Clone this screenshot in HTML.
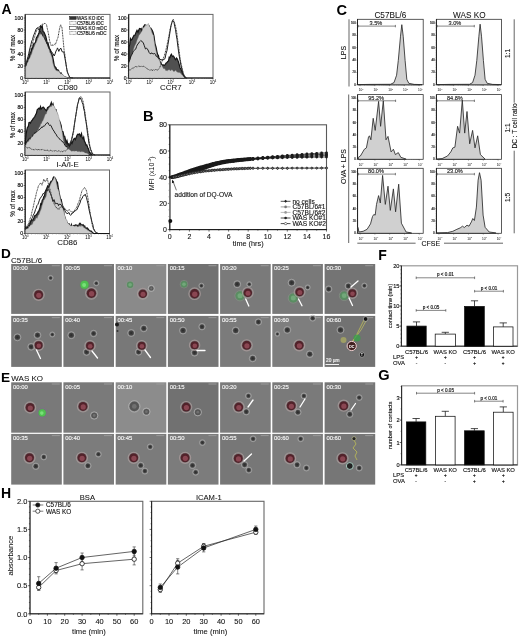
<!DOCTYPE html>
<html><head><meta charset="utf-8"><style>
html,body{margin:0;padding:0;background:#fff;width:520px;height:636px;overflow:hidden}
svg{display:block;filter:blur(0.3px)}
text{font-family:"Liberation Sans", sans-serif}
</style></head><body>
<svg width="520" height="636" viewBox="0 0 520 636" font-family="'Liberation Sans', sans-serif">
<rect x="0" y="0" width="520" height="636" fill="#fff"/>
<text x="1.4" y="13.8" font-size="14.0" text-anchor="start" font-weight="bold" fill="#000">A</text>
<rect x="25.2" y="14.4" width="84.8" height="63.6" fill="none" stroke="#666" stroke-width="1.0"/>
<line x1="25.2" y1="14.4" x2="25.2" y2="78.0" stroke="#111" stroke-width="1.0"/>
<line x1="25.2" y1="78.0" x2="110.0" y2="78.0" stroke="#111" stroke-width="1.0"/>
<line x1="23.6" y1="78.0" x2="25.2" y2="78.0" stroke="#111" stroke-width="0.55"/>
<text x="23.1" y="79.8" font-size="5.1" text-anchor="end" font-weight="normal" fill="#111" stroke="#111" stroke-width="0.16">0</text>
<line x1="24.3" y1="75.6" x2="25.2" y2="75.6" stroke="#333" stroke-width="0.4"/>
<line x1="24.3" y1="73.2" x2="25.2" y2="73.2" stroke="#333" stroke-width="0.4"/>
<line x1="24.3" y1="70.8" x2="25.2" y2="70.8" stroke="#333" stroke-width="0.4"/>
<line x1="24.3" y1="68.4" x2="25.2" y2="68.4" stroke="#333" stroke-width="0.4"/>
<line x1="23.6" y1="66.0" x2="25.2" y2="66.0" stroke="#111" stroke-width="0.55"/>
<text x="23.1" y="67.8" font-size="5.1" text-anchor="end" font-weight="normal" fill="#111" stroke="#111" stroke-width="0.16">20</text>
<line x1="24.3" y1="63.6" x2="25.2" y2="63.6" stroke="#333" stroke-width="0.4"/>
<line x1="24.3" y1="61.2" x2="25.2" y2="61.2" stroke="#333" stroke-width="0.4"/>
<line x1="24.3" y1="58.8" x2="25.2" y2="58.8" stroke="#333" stroke-width="0.4"/>
<line x1="24.3" y1="56.4" x2="25.2" y2="56.4" stroke="#333" stroke-width="0.4"/>
<line x1="23.6" y1="54.0" x2="25.2" y2="54.0" stroke="#111" stroke-width="0.55"/>
<text x="23.1" y="55.8" font-size="5.1" text-anchor="end" font-weight="normal" fill="#111" stroke="#111" stroke-width="0.16">40</text>
<line x1="24.3" y1="51.6" x2="25.2" y2="51.6" stroke="#333" stroke-width="0.4"/>
<line x1="24.3" y1="49.2" x2="25.2" y2="49.2" stroke="#333" stroke-width="0.4"/>
<line x1="24.3" y1="46.8" x2="25.2" y2="46.8" stroke="#333" stroke-width="0.4"/>
<line x1="24.3" y1="44.4" x2="25.2" y2="44.4" stroke="#333" stroke-width="0.4"/>
<line x1="23.6" y1="42.0" x2="25.2" y2="42.0" stroke="#111" stroke-width="0.55"/>
<text x="23.1" y="43.8" font-size="5.1" text-anchor="end" font-weight="normal" fill="#111" stroke="#111" stroke-width="0.16">60</text>
<line x1="24.3" y1="39.6" x2="25.2" y2="39.6" stroke="#333" stroke-width="0.4"/>
<line x1="24.3" y1="37.2" x2="25.2" y2="37.2" stroke="#333" stroke-width="0.4"/>
<line x1="24.3" y1="34.8" x2="25.2" y2="34.8" stroke="#333" stroke-width="0.4"/>
<line x1="24.3" y1="32.4" x2="25.2" y2="32.4" stroke="#333" stroke-width="0.4"/>
<line x1="23.6" y1="30.0" x2="25.2" y2="30.0" stroke="#111" stroke-width="0.55"/>
<text x="23.1" y="31.8" font-size="5.1" text-anchor="end" font-weight="normal" fill="#111" stroke="#111" stroke-width="0.16">80</text>
<line x1="24.3" y1="27.6" x2="25.2" y2="27.6" stroke="#333" stroke-width="0.4"/>
<line x1="24.3" y1="25.2" x2="25.2" y2="25.2" stroke="#333" stroke-width="0.4"/>
<line x1="24.3" y1="22.8" x2="25.2" y2="22.8" stroke="#333" stroke-width="0.4"/>
<line x1="24.3" y1="20.4" x2="25.2" y2="20.4" stroke="#333" stroke-width="0.4"/>
<line x1="23.6" y1="18.0" x2="25.2" y2="18.0" stroke="#111" stroke-width="0.55"/>
<text x="23.1" y="19.8" font-size="5.1" text-anchor="end" font-weight="normal" fill="#111" stroke="#111" stroke-width="0.16">100</text>
<line x1="25.2" y1="78.0" x2="25.2" y2="79.6" stroke="#111" stroke-width="0.55"/>
<text x="25.2" y="83.6" font-size="4.5" text-anchor="middle">10<tspan font-size="2.7" dy="-1.8">0</tspan></text>
<line x1="31.6" y1="78.0" x2="31.6" y2="78.9" stroke="#333" stroke-width="0.4"/>
<line x1="35.3" y1="78.0" x2="35.3" y2="78.9" stroke="#333" stroke-width="0.4"/>
<line x1="38.0" y1="78.0" x2="38.0" y2="78.9" stroke="#333" stroke-width="0.4"/>
<line x1="40.0" y1="78.0" x2="40.0" y2="78.9" stroke="#333" stroke-width="0.4"/>
<line x1="41.7" y1="78.0" x2="41.7" y2="78.9" stroke="#333" stroke-width="0.4"/>
<line x1="43.1" y1="78.0" x2="43.1" y2="78.9" stroke="#333" stroke-width="0.4"/>
<line x1="44.3" y1="78.0" x2="44.3" y2="78.9" stroke="#333" stroke-width="0.4"/>
<line x1="45.4" y1="78.0" x2="45.4" y2="78.9" stroke="#333" stroke-width="0.4"/>
<line x1="46.4" y1="78.0" x2="46.4" y2="79.6" stroke="#111" stroke-width="0.55"/>
<text x="46.4" y="83.6" font-size="4.5" text-anchor="middle">10<tspan font-size="2.7" dy="-1.8">1</tspan></text>
<line x1="52.8" y1="78.0" x2="52.8" y2="78.9" stroke="#333" stroke-width="0.4"/>
<line x1="56.5" y1="78.0" x2="56.5" y2="78.9" stroke="#333" stroke-width="0.4"/>
<line x1="59.2" y1="78.0" x2="59.2" y2="78.9" stroke="#333" stroke-width="0.4"/>
<line x1="61.2" y1="78.0" x2="61.2" y2="78.9" stroke="#333" stroke-width="0.4"/>
<line x1="62.9" y1="78.0" x2="62.9" y2="78.9" stroke="#333" stroke-width="0.4"/>
<line x1="64.3" y1="78.0" x2="64.3" y2="78.9" stroke="#333" stroke-width="0.4"/>
<line x1="65.5" y1="78.0" x2="65.5" y2="78.9" stroke="#333" stroke-width="0.4"/>
<line x1="66.6" y1="78.0" x2="66.6" y2="78.9" stroke="#333" stroke-width="0.4"/>
<line x1="67.6" y1="78.0" x2="67.6" y2="79.6" stroke="#111" stroke-width="0.55"/>
<text x="67.6" y="83.6" font-size="4.5" text-anchor="middle">10<tspan font-size="2.7" dy="-1.8">2</tspan></text>
<line x1="74.0" y1="78.0" x2="74.0" y2="78.9" stroke="#333" stroke-width="0.4"/>
<line x1="77.7" y1="78.0" x2="77.7" y2="78.9" stroke="#333" stroke-width="0.4"/>
<line x1="80.4" y1="78.0" x2="80.4" y2="78.9" stroke="#333" stroke-width="0.4"/>
<line x1="82.4" y1="78.0" x2="82.4" y2="78.9" stroke="#333" stroke-width="0.4"/>
<line x1="84.1" y1="78.0" x2="84.1" y2="78.9" stroke="#333" stroke-width="0.4"/>
<line x1="85.5" y1="78.0" x2="85.5" y2="78.9" stroke="#333" stroke-width="0.4"/>
<line x1="86.7" y1="78.0" x2="86.7" y2="78.9" stroke="#333" stroke-width="0.4"/>
<line x1="87.8" y1="78.0" x2="87.8" y2="78.9" stroke="#333" stroke-width="0.4"/>
<line x1="88.8" y1="78.0" x2="88.8" y2="79.6" stroke="#111" stroke-width="0.55"/>
<text x="88.8" y="83.6" font-size="4.5" text-anchor="middle">10<tspan font-size="2.7" dy="-1.8">3</tspan></text>
<line x1="95.2" y1="78.0" x2="95.2" y2="78.9" stroke="#333" stroke-width="0.4"/>
<line x1="98.9" y1="78.0" x2="98.9" y2="78.9" stroke="#333" stroke-width="0.4"/>
<line x1="101.6" y1="78.0" x2="101.6" y2="78.9" stroke="#333" stroke-width="0.4"/>
<line x1="103.6" y1="78.0" x2="103.6" y2="78.9" stroke="#333" stroke-width="0.4"/>
<line x1="105.3" y1="78.0" x2="105.3" y2="78.9" stroke="#333" stroke-width="0.4"/>
<line x1="106.7" y1="78.0" x2="106.7" y2="78.9" stroke="#333" stroke-width="0.4"/>
<line x1="107.9" y1="78.0" x2="107.9" y2="78.9" stroke="#333" stroke-width="0.4"/>
<line x1="109.0" y1="78.0" x2="109.0" y2="78.9" stroke="#333" stroke-width="0.4"/>
<line x1="110.0" y1="78.0" x2="110.0" y2="79.6" stroke="#111" stroke-width="0.55"/>
<text x="110.0" y="83.6" font-size="4.5" text-anchor="middle">10<tspan font-size="2.7" dy="-1.8">4</tspan></text>
<text x="67.6" y="89.8" font-size="7.9" text-anchor="middle" font-weight="normal" fill="#111" stroke="#111" stroke-width="0.06">CD80</text>
<text x="15.2" y="48.0" font-size="6.3" text-anchor="middle" font-weight="normal" fill="#111" stroke="#111" stroke-width="0.12" transform="rotate(-90 15.2 48.0)">% of max</text>
<path d="M25.6 78.0 L25.6 65.3 L26.4 62.7 L27.2 62.6 L28.0 58.4 L28.8 58.1 L29.5 55.5 L30.2 52.3 L31.0 52.0 L31.8 48.5 L32.5 48.2 L33.2 45.1 L34.0 43.4 L34.8 43.0 L35.5 42.7 L36.2 38.3 L37.0 36.9 L38.0 35.0 L39.0 32.7 L39.8 29.0 L40.5 26.1 L41.5 27.3 L42.2 26.0 L43.0 31.4 L44.0 32.2 L45.0 34.6 L45.8 36.5 L46.5 39.3 L47.2 43.2 L48.0 42.8 L48.8 46.3 L49.5 48.5 L50.2 49.5 L51.0 52.2 L51.8 53.7 L52.7 57.0 L53.5 60.9 L54.2 65.2 L55.0 66.7 L55.8 67.3 L56.5 69.3 L57.5 69.8 L58.5 70.2 L59.3 73.0 L60.2 73.3 L61.0 72.8 L61.8 74.4 L62.5 75.0 L63.2 76.3 L64.0 76.7 L64.8 76.7 L65.5 77.4 L66.2 77.3 L67.0 77.8 L67.0 78.0 Z" fill="#505050" stroke="#151515" stroke-width="1.2"/>
<path d="M25.6 78.0 L25.6 66.9 L26.4 65.8 L27.2 63.0 L28.0 62.0 L28.8 59.4 L29.5 58.8 L30.2 57.2 L31.0 55.1 L31.8 53.7 L32.5 50.7 L33.2 49.4 L34.0 47.2 L34.8 45.4 L35.5 43.4 L36.2 42.4 L37.0 40.8 L37.8 38.3 L38.7 37.0 L39.5 34.2 L40.4 34.4 L41.3 33.3 L42.1 34.9 L43.0 35.6 L43.8 36.4 L44.5 38.3 L45.2 40.6 L46.0 41.1 L46.8 43.9 L47.5 45.4 L48.2 47.3 L49.0 49.2 L49.8 52.5 L50.5 53.3 L51.2 55.5 L52.0 57.8 L52.8 62.7 L53.5 65.2 L54.2 67.4 L55.0 69.1 L55.8 70.2 L56.5 70.6 L57.2 71.2 L58.0 70.6 L58.8 71.5 L59.5 72.0 L60.2 73.5 L61.0 74.1 L61.8 73.7 L62.5 74.4 L63.2 75.2 L64.0 75.8 L64.8 76.4 L65.5 76.8 L66.3 77.0 L67.0 77.4 L67.8 77.8 L67.8 78.0 Z" fill="#cbcbcb" stroke="#7a7a7a" stroke-width="0.6" stroke-dasharray="0.8 0.5"/>
<path d="M25.6 65.9 L26.4 62.5 L27.2 59.4 L28.0 56.6 L28.8 53.3 L29.5 50.0 L30.2 47.2 L31.0 44.2 L31.8 40.9 L32.5 39.6 L33.2 36.9 L34.0 34.5 L35.0 32.2 L36.0 29.3 L37.3 27.7 L38.1 28.3 L39.0 30.2 L40.0 30.9 L41.0 32.4 L41.8 33.8 L42.5 35.0 L43.2 36.5 L44.0 37.4 L44.8 38.8 L45.5 40.5 L46.2 41.9 L47.0 43.8 L47.8 44.8 L48.5 47.5 L49.2 48.7 L50.0 49.5 L50.8 50.7 L51.5 51.8 L52.2 52.8 L53.0 53.5 L54.2 56.0 L55.1 53.9 L56.0 51.0 L56.8 49.7 L57.5 47.9 L58.8 51.4 L60.0 48.8 L61.0 48.3 L61.8 51.0 L62.5 52.0 L63.8 51.9 L65.0 58.6 L65.8 63.0 L66.5 67.5 L67.2 71.1 L68.0 73.6 L69.0 75.8 L70.0 77.6 L70.8 77.7 L71.5 77.8 L72.2 77.9 L73.0 78.0" fill="none" stroke="#1e1e1e" stroke-width="1.0"/>
<path d="M25.6 65.8 L26.4 62.9 L27.2 61.0 L28.0 58.0 L28.8 55.9 L29.5 52.8 L30.2 50.1 L31.0 48.4 L31.8 46.2 L32.5 43.5 L33.2 40.9 L34.0 38.4 L34.8 36.3 L35.5 33.6 L36.2 32.0 L37.0 29.8 L37.8 28.3 L38.5 27.3 L39.2 26.7 L40.0 25.7 L40.8 25.6 L41.7 25.3 L42.5 23.9 L43.3 24.2 L44.0 23.8 L44.8 23.3 L45.6 23.7 L46.5 24.6 L47.2 28.1 L48.0 31.6 L48.8 35.6 L49.5 40.2 L50.2 43.1 L51.0 45.5 L52.0 45.0 L53.0 45.2 L53.7 45.3 L54.5 44.2 L55.2 44.8 L56.5 41.6 L57.2 39.4 L58.0 37.4 L59.3 30.0 L60.0 26.7 L60.7 24.8 L62.0 27.8 L63.0 38.4 L64.0 49.3 L64.8 54.2 L65.5 59.9 L66.4 66.6 L67.3 72.3 L68.2 74.0 L69.0 76.4 L70.0 77.2 L71.0 78.0" fill="none" stroke="#333" stroke-width="1.0" stroke-dasharray="1.0 0.6"/>
<rect x="69.7" y="16.6" width="6.5" height="2.8" fill="#333" stroke="#111" stroke-width="0.5"/>
<text x="77.0" y="19.5" font-size="4.6" text-anchor="start" font-weight="normal" fill="#222" stroke="#222" stroke-width="0.18">WAS KO iDC</text>
<rect x="69.7" y="21.6" width="6.5" height="2.8" fill="#fff" stroke="#333" stroke-width="0.55" stroke-dasharray="0.8 0.5"/>
<text x="77.0" y="24.5" font-size="4.6" text-anchor="start" font-weight="normal" fill="#222" stroke="#222" stroke-width="0.18">C57BL/6 iDC</text>
<rect x="69.7" y="26.6" width="6.5" height="2.8" fill="#fff" stroke="#222" stroke-width="0.55"/>
<text x="77.0" y="29.5" font-size="4.6" text-anchor="start" font-weight="normal" fill="#222" stroke="#222" stroke-width="0.18">WAS KO mDC</text>
<rect x="69.7" y="31.6" width="6.5" height="2.8" fill="#fff" stroke="#333" stroke-width="0.55" stroke-dasharray="0.8 0.5"/>
<text x="77.0" y="34.5" font-size="4.6" text-anchor="start" font-weight="normal" fill="#222" stroke="#222" stroke-width="0.18">C57BL/6 mDC</text>
<rect x="128.7" y="14.4" width="84.3" height="63.6" fill="none" stroke="#666" stroke-width="1.0"/>
<line x1="128.7" y1="14.4" x2="128.7" y2="78.0" stroke="#111" stroke-width="1.0"/>
<line x1="128.7" y1="78.0" x2="213.0" y2="78.0" stroke="#111" stroke-width="1.0"/>
<line x1="127.1" y1="78.0" x2="128.7" y2="78.0" stroke="#111" stroke-width="0.55"/>
<text x="126.6" y="79.8" font-size="5.1" text-anchor="end" font-weight="normal" fill="#111" stroke="#111" stroke-width="0.16">0</text>
<line x1="127.8" y1="75.6" x2="128.7" y2="75.6" stroke="#333" stroke-width="0.4"/>
<line x1="127.8" y1="73.2" x2="128.7" y2="73.2" stroke="#333" stroke-width="0.4"/>
<line x1="127.8" y1="70.8" x2="128.7" y2="70.8" stroke="#333" stroke-width="0.4"/>
<line x1="127.8" y1="68.4" x2="128.7" y2="68.4" stroke="#333" stroke-width="0.4"/>
<line x1="127.1" y1="66.0" x2="128.7" y2="66.0" stroke="#111" stroke-width="0.55"/>
<text x="126.6" y="67.8" font-size="5.1" text-anchor="end" font-weight="normal" fill="#111" stroke="#111" stroke-width="0.16">20</text>
<line x1="127.8" y1="63.6" x2="128.7" y2="63.6" stroke="#333" stroke-width="0.4"/>
<line x1="127.8" y1="61.2" x2="128.7" y2="61.2" stroke="#333" stroke-width="0.4"/>
<line x1="127.8" y1="58.8" x2="128.7" y2="58.8" stroke="#333" stroke-width="0.4"/>
<line x1="127.8" y1="56.4" x2="128.7" y2="56.4" stroke="#333" stroke-width="0.4"/>
<line x1="127.1" y1="54.0" x2="128.7" y2="54.0" stroke="#111" stroke-width="0.55"/>
<text x="126.6" y="55.8" font-size="5.1" text-anchor="end" font-weight="normal" fill="#111" stroke="#111" stroke-width="0.16">40</text>
<line x1="127.8" y1="51.6" x2="128.7" y2="51.6" stroke="#333" stroke-width="0.4"/>
<line x1="127.8" y1="49.2" x2="128.7" y2="49.2" stroke="#333" stroke-width="0.4"/>
<line x1="127.8" y1="46.8" x2="128.7" y2="46.8" stroke="#333" stroke-width="0.4"/>
<line x1="127.8" y1="44.4" x2="128.7" y2="44.4" stroke="#333" stroke-width="0.4"/>
<line x1="127.1" y1="42.0" x2="128.7" y2="42.0" stroke="#111" stroke-width="0.55"/>
<text x="126.6" y="43.8" font-size="5.1" text-anchor="end" font-weight="normal" fill="#111" stroke="#111" stroke-width="0.16">60</text>
<line x1="127.8" y1="39.6" x2="128.7" y2="39.6" stroke="#333" stroke-width="0.4"/>
<line x1="127.8" y1="37.2" x2="128.7" y2="37.2" stroke="#333" stroke-width="0.4"/>
<line x1="127.8" y1="34.8" x2="128.7" y2="34.8" stroke="#333" stroke-width="0.4"/>
<line x1="127.8" y1="32.4" x2="128.7" y2="32.4" stroke="#333" stroke-width="0.4"/>
<line x1="127.1" y1="30.0" x2="128.7" y2="30.0" stroke="#111" stroke-width="0.55"/>
<text x="126.6" y="31.8" font-size="5.1" text-anchor="end" font-weight="normal" fill="#111" stroke="#111" stroke-width="0.16">80</text>
<line x1="127.8" y1="27.6" x2="128.7" y2="27.6" stroke="#333" stroke-width="0.4"/>
<line x1="127.8" y1="25.2" x2="128.7" y2="25.2" stroke="#333" stroke-width="0.4"/>
<line x1="127.8" y1="22.8" x2="128.7" y2="22.8" stroke="#333" stroke-width="0.4"/>
<line x1="127.8" y1="20.4" x2="128.7" y2="20.4" stroke="#333" stroke-width="0.4"/>
<line x1="127.1" y1="18.0" x2="128.7" y2="18.0" stroke="#111" stroke-width="0.55"/>
<text x="126.6" y="19.8" font-size="5.1" text-anchor="end" font-weight="normal" fill="#111" stroke="#111" stroke-width="0.16">100</text>
<line x1="128.7" y1="78.0" x2="128.7" y2="79.6" stroke="#111" stroke-width="0.55"/>
<text x="128.7" y="83.6" font-size="4.5" text-anchor="middle">10<tspan font-size="2.7" dy="-1.8">0</tspan></text>
<line x1="135.0" y1="78.0" x2="135.0" y2="78.9" stroke="#333" stroke-width="0.4"/>
<line x1="138.8" y1="78.0" x2="138.8" y2="78.9" stroke="#333" stroke-width="0.4"/>
<line x1="141.4" y1="78.0" x2="141.4" y2="78.9" stroke="#333" stroke-width="0.4"/>
<line x1="143.4" y1="78.0" x2="143.4" y2="78.9" stroke="#333" stroke-width="0.4"/>
<line x1="145.1" y1="78.0" x2="145.1" y2="78.9" stroke="#333" stroke-width="0.4"/>
<line x1="146.5" y1="78.0" x2="146.5" y2="78.9" stroke="#333" stroke-width="0.4"/>
<line x1="147.7" y1="78.0" x2="147.7" y2="78.9" stroke="#333" stroke-width="0.4"/>
<line x1="148.8" y1="78.0" x2="148.8" y2="78.9" stroke="#333" stroke-width="0.4"/>
<line x1="149.8" y1="78.0" x2="149.8" y2="79.6" stroke="#111" stroke-width="0.55"/>
<text x="149.8" y="83.6" font-size="4.5" text-anchor="middle">10<tspan font-size="2.7" dy="-1.8">1</tspan></text>
<line x1="156.1" y1="78.0" x2="156.1" y2="78.9" stroke="#333" stroke-width="0.4"/>
<line x1="159.8" y1="78.0" x2="159.8" y2="78.9" stroke="#333" stroke-width="0.4"/>
<line x1="162.5" y1="78.0" x2="162.5" y2="78.9" stroke="#333" stroke-width="0.4"/>
<line x1="164.5" y1="78.0" x2="164.5" y2="78.9" stroke="#333" stroke-width="0.4"/>
<line x1="166.2" y1="78.0" x2="166.2" y2="78.9" stroke="#333" stroke-width="0.4"/>
<line x1="167.6" y1="78.0" x2="167.6" y2="78.9" stroke="#333" stroke-width="0.4"/>
<line x1="168.8" y1="78.0" x2="168.8" y2="78.9" stroke="#333" stroke-width="0.4"/>
<line x1="169.9" y1="78.0" x2="169.9" y2="78.9" stroke="#333" stroke-width="0.4"/>
<line x1="170.8" y1="78.0" x2="170.8" y2="79.6" stroke="#111" stroke-width="0.55"/>
<text x="170.8" y="83.6" font-size="4.5" text-anchor="middle">10<tspan font-size="2.7" dy="-1.8">2</tspan></text>
<line x1="177.2" y1="78.0" x2="177.2" y2="78.9" stroke="#333" stroke-width="0.4"/>
<line x1="180.9" y1="78.0" x2="180.9" y2="78.9" stroke="#333" stroke-width="0.4"/>
<line x1="183.5" y1="78.0" x2="183.5" y2="78.9" stroke="#333" stroke-width="0.4"/>
<line x1="185.6" y1="78.0" x2="185.6" y2="78.9" stroke="#333" stroke-width="0.4"/>
<line x1="187.2" y1="78.0" x2="187.2" y2="78.9" stroke="#333" stroke-width="0.4"/>
<line x1="188.7" y1="78.0" x2="188.7" y2="78.9" stroke="#333" stroke-width="0.4"/>
<line x1="189.9" y1="78.0" x2="189.9" y2="78.9" stroke="#333" stroke-width="0.4"/>
<line x1="191.0" y1="78.0" x2="191.0" y2="78.9" stroke="#333" stroke-width="0.4"/>
<line x1="191.9" y1="78.0" x2="191.9" y2="79.6" stroke="#111" stroke-width="0.55"/>
<text x="191.9" y="83.6" font-size="4.5" text-anchor="middle">10<tspan font-size="2.7" dy="-1.8">3</tspan></text>
<line x1="198.3" y1="78.0" x2="198.3" y2="78.9" stroke="#333" stroke-width="0.4"/>
<line x1="202.0" y1="78.0" x2="202.0" y2="78.9" stroke="#333" stroke-width="0.4"/>
<line x1="204.6" y1="78.0" x2="204.6" y2="78.9" stroke="#333" stroke-width="0.4"/>
<line x1="206.7" y1="78.0" x2="206.7" y2="78.9" stroke="#333" stroke-width="0.4"/>
<line x1="208.3" y1="78.0" x2="208.3" y2="78.9" stroke="#333" stroke-width="0.4"/>
<line x1="209.7" y1="78.0" x2="209.7" y2="78.9" stroke="#333" stroke-width="0.4"/>
<line x1="211.0" y1="78.0" x2="211.0" y2="78.9" stroke="#333" stroke-width="0.4"/>
<line x1="212.0" y1="78.0" x2="212.0" y2="78.9" stroke="#333" stroke-width="0.4"/>
<line x1="213.0" y1="78.0" x2="213.0" y2="79.6" stroke="#111" stroke-width="0.55"/>
<text x="213.0" y="83.6" font-size="4.5" text-anchor="middle">10<tspan font-size="2.7" dy="-1.8">4</tspan></text>
<text x="170.8" y="89.8" font-size="7.9" text-anchor="middle" font-weight="normal" fill="#111" stroke="#111" stroke-width="0.06">CCR7</text>
<text x="118.7" y="48.0" font-size="6.3" text-anchor="middle" font-weight="normal" fill="#111" stroke="#111" stroke-width="0.12" transform="rotate(-90 118.7 48.0)">% of max</text>
<path d="M129.0 78.0 L129.0 47.5 L129.8 44.2 L130.5 38.7 L131.2 40.0 L132.0 39.3 L133.0 37.3 L134.0 35.4 L135.0 35.2 L136.0 32.6 L137.0 30.4 L138.0 32.3 L138.8 30.0 L139.5 28.5 L140.3 28.9 L141.2 28.4 L142.0 31.4 L142.7 30.1 L143.4 26.7 L144.2 25.7 L144.9 24.7 L145.9 25.3 L147.0 27.3 L147.8 26.3 L148.5 27.2 L149.2 26.3 L150.0 29.6 L150.8 28.1 L151.5 29.2 L152.2 30.3 L153.0 32.2 L154.0 36.0 L155.0 43.6 L156.0 47.0 L157.0 52.1 L157.7 54.7 L158.4 55.4 L159.2 59.6 L159.9 61.3 L161.0 63.1 L161.9 66.6 L162.8 64.8 L163.7 65.1 L164.5 65.4 L165.3 64.3 L166.2 62.9 L167.0 62.5 L167.7 61.4 L168.5 61.1 L169.2 57.3 L169.9 57.7 L170.7 55.3 L171.4 54.2 L172.4 56.5 L173.5 56.0 L174.2 57.2 L175.0 59.0 L175.7 59.7 L176.5 58.1 L177.2 58.8 L178.5 62.0 L179.2 64.5 L180.0 67.7 L181.0 69.3 L182.0 72.1 L182.8 73.5 L183.5 76.0 L184.3 76.4 L185.0 77.3 L185.8 78.0 L185.8 78.0 Z" fill="#505050" stroke="#151515" stroke-width="1.2"/>
<path d="M129.0 78.0 L129.0 63.8 L130.0 59.6 L131.0 57.1 L132.0 54.8 L133.0 51.6 L134.0 47.8 L135.0 45.3 L136.0 43.4 L137.0 40.2 L138.0 38.0 L139.0 35.2 L140.0 34.3 L141.0 32.5 L142.0 31.0 L143.0 27.9 L144.0 27.6 L145.0 26.3 L145.8 24.6 L146.5 25.2 L147.4 25.0 L148.3 23.3 L149.2 26.2 L150.0 26.8 L151.0 29.5 L152.0 32.9 L152.8 34.6 L153.5 35.4 L154.2 40.9 L155.0 46.0 L156.0 50.7 L157.0 55.5 L157.8 57.1 L158.5 59.2 L159.3 59.3 L160.2 62.7 L161.0 64.9 L161.8 65.1 L162.5 66.7 L163.2 68.2 L164.0 69.0 L164.8 68.5 L165.6 70.5 L166.4 70.4 L167.2 71.0 L168.0 69.8 L168.8 70.1 L169.6 69.7 L170.4 71.0 L171.2 70.1 L172.0 69.8 L172.8 70.5 L173.6 71.4 L174.4 71.4 L175.2 70.5 L176.0 70.4 L177.0 72.3 L178.0 72.1 L178.8 72.8 L179.6 72.4 L180.4 72.9 L181.2 74.2 L182.0 74.8 L182.7 75.4 L183.5 76.7 L184.3 77.0 L185.2 77.5 L186.0 78.0 L186.0 78.0 Z" fill="#cbcbcb" stroke="#7a7a7a" stroke-width="0.6" stroke-dasharray="0.8 0.5"/>
<path d="M128.9 61.9 L129.9 59.7 L131.0 55.4 L132.0 54.5 L133.0 51.9 L133.9 50.6 L134.8 49.8 L135.7 49.2 L136.5 46.7 L137.2 45.0 L138.0 44.0 L138.7 42.9 L139.4 42.0 L140.1 41.4 L140.8 40.5 L142.0 41.6 L143.2 42.5 L144.3 45.7 L145.5 49.0 L146.3 48.3 L147.2 48.6 L148.5 51.0 L149.2 52.7 L150.0 53.7 L151.0 53.6 L152.0 52.8 L152.9 53.9 L153.8 53.8 L154.7 53.4 L155.5 54.7 L156.2 56.3 L157.0 56.1 L158.0 57.9 L159.0 58.2 L160.0 58.9 L161.0 60.0 L162.0 59.6 L163.0 60.0 L164.0 59.3 L165.0 58.7 L166.0 53.8 L167.0 50.5 L168.0 44.3 L169.0 38.2 L170.0 31.9 L171.0 25.8 L171.8 22.9 L172.7 20.5 L174.0 22.4 L174.8 26.8 L175.5 29.7 L176.2 34.5 L177.0 39.4 L178.0 47.5 L179.0 54.5 L180.0 60.2 L181.0 65.7 L182.0 69.6 L183.0 73.8 L183.8 75.0 L184.5 75.8 L185.2 77.0 L186.0 78.0" fill="none" stroke="#1e1e1e" stroke-width="1.0"/>
<path d="M128.9 69.7 L129.9 70.1 L131.0 69.7 L131.8 68.7 L132.5 67.9 L133.2 68.5 L134.0 67.2 L134.8 67.1 L135.5 66.5 L136.2 66.8 L137.0 66.8 L137.8 66.7 L138.5 66.1 L139.2 66.6 L139.9 66.0 L140.6 66.5 L141.3 66.3 L142.0 66.9 L142.8 66.4 L143.5 66.3 L144.3 66.7 L145.2 67.1 L146.1 68.1 L147.0 68.5 L147.8 69.2 L148.5 69.5 L149.2 69.9 L150.0 70.5 L150.8 69.8 L151.6 69.8 L152.4 70.7 L153.2 69.5 L154.0 70.3 L154.8 70.1 L155.7 69.1 L156.5 70.1 L157.4 70.1 L158.2 69.6 L159.0 68.6 L159.7 67.6 L160.5 65.5 L161.5 63.0 L162.5 60.0 L163.5 58.0 L164.5 55.4 L165.3 52.3 L166.2 48.7 L167.1 44.8 L168.0 40.3 L168.8 36.6 L169.5 32.3 L170.3 28.3 L171.2 25.0 L172.0 21.8 L173.2 19.2 L174.5 22.5 L175.6 26.7 L176.6 31.5 L177.3 36.8 L178.0 42.3 L178.8 48.2 L179.5 53.7 L180.2 59.1 L181.0 63.3 L181.7 66.2 L182.4 69.4 L183.2 72.5 L183.9 74.8 L184.7 78.0" fill="none" stroke="#333" stroke-width="1.0" stroke-dasharray="1.0 0.6"/>
<rect x="25.2" y="92.0" width="84.8" height="63.0" fill="none" stroke="#666" stroke-width="1.0"/>
<line x1="25.2" y1="92.0" x2="25.2" y2="155.0" stroke="#111" stroke-width="1.0"/>
<line x1="25.2" y1="155.0" x2="110.0" y2="155.0" stroke="#111" stroke-width="1.0"/>
<line x1="23.6" y1="155.0" x2="25.2" y2="155.0" stroke="#111" stroke-width="0.55"/>
<text x="23.1" y="156.8" font-size="5.1" text-anchor="end" font-weight="normal" fill="#111" stroke="#111" stroke-width="0.16">0</text>
<line x1="24.3" y1="152.6" x2="25.2" y2="152.6" stroke="#333" stroke-width="0.4"/>
<line x1="24.3" y1="150.2" x2="25.2" y2="150.2" stroke="#333" stroke-width="0.4"/>
<line x1="24.3" y1="147.9" x2="25.2" y2="147.9" stroke="#333" stroke-width="0.4"/>
<line x1="24.3" y1="145.5" x2="25.2" y2="145.5" stroke="#333" stroke-width="0.4"/>
<line x1="23.6" y1="143.1" x2="25.2" y2="143.1" stroke="#111" stroke-width="0.55"/>
<text x="23.1" y="144.9" font-size="5.1" text-anchor="end" font-weight="normal" fill="#111" stroke="#111" stroke-width="0.16">20</text>
<line x1="24.3" y1="140.7" x2="25.2" y2="140.7" stroke="#333" stroke-width="0.4"/>
<line x1="24.3" y1="138.3" x2="25.2" y2="138.3" stroke="#333" stroke-width="0.4"/>
<line x1="24.3" y1="136.0" x2="25.2" y2="136.0" stroke="#333" stroke-width="0.4"/>
<line x1="24.3" y1="133.6" x2="25.2" y2="133.6" stroke="#333" stroke-width="0.4"/>
<line x1="23.6" y1="131.2" x2="25.2" y2="131.2" stroke="#111" stroke-width="0.55"/>
<text x="23.1" y="133.0" font-size="5.1" text-anchor="end" font-weight="normal" fill="#111" stroke="#111" stroke-width="0.16">40</text>
<line x1="24.3" y1="128.8" x2="25.2" y2="128.8" stroke="#333" stroke-width="0.4"/>
<line x1="24.3" y1="126.4" x2="25.2" y2="126.4" stroke="#333" stroke-width="0.4"/>
<line x1="24.3" y1="124.1" x2="25.2" y2="124.1" stroke="#333" stroke-width="0.4"/>
<line x1="24.3" y1="121.7" x2="25.2" y2="121.7" stroke="#333" stroke-width="0.4"/>
<line x1="23.6" y1="119.3" x2="25.2" y2="119.3" stroke="#111" stroke-width="0.55"/>
<text x="23.1" y="121.1" font-size="5.1" text-anchor="end" font-weight="normal" fill="#111" stroke="#111" stroke-width="0.16">60</text>
<line x1="24.3" y1="116.9" x2="25.2" y2="116.9" stroke="#333" stroke-width="0.4"/>
<line x1="24.3" y1="114.5" x2="25.2" y2="114.5" stroke="#333" stroke-width="0.4"/>
<line x1="24.3" y1="112.2" x2="25.2" y2="112.2" stroke="#333" stroke-width="0.4"/>
<line x1="24.3" y1="109.8" x2="25.2" y2="109.8" stroke="#333" stroke-width="0.4"/>
<line x1="23.6" y1="107.4" x2="25.2" y2="107.4" stroke="#111" stroke-width="0.55"/>
<text x="23.1" y="109.2" font-size="5.1" text-anchor="end" font-weight="normal" fill="#111" stroke="#111" stroke-width="0.16">80</text>
<line x1="24.3" y1="105.0" x2="25.2" y2="105.0" stroke="#333" stroke-width="0.4"/>
<line x1="24.3" y1="102.6" x2="25.2" y2="102.6" stroke="#333" stroke-width="0.4"/>
<line x1="24.3" y1="100.3" x2="25.2" y2="100.3" stroke="#333" stroke-width="0.4"/>
<line x1="24.3" y1="97.9" x2="25.2" y2="97.9" stroke="#333" stroke-width="0.4"/>
<line x1="23.6" y1="95.5" x2="25.2" y2="95.5" stroke="#111" stroke-width="0.55"/>
<text x="23.1" y="97.3" font-size="5.1" text-anchor="end" font-weight="normal" fill="#111" stroke="#111" stroke-width="0.16">100</text>
<line x1="25.2" y1="155.0" x2="25.2" y2="156.6" stroke="#111" stroke-width="0.55"/>
<text x="25.2" y="160.6" font-size="4.5" text-anchor="middle">10<tspan font-size="2.7" dy="-1.8">0</tspan></text>
<line x1="31.6" y1="155.0" x2="31.6" y2="155.9" stroke="#333" stroke-width="0.4"/>
<line x1="35.3" y1="155.0" x2="35.3" y2="155.9" stroke="#333" stroke-width="0.4"/>
<line x1="38.0" y1="155.0" x2="38.0" y2="155.9" stroke="#333" stroke-width="0.4"/>
<line x1="40.0" y1="155.0" x2="40.0" y2="155.9" stroke="#333" stroke-width="0.4"/>
<line x1="41.7" y1="155.0" x2="41.7" y2="155.9" stroke="#333" stroke-width="0.4"/>
<line x1="43.1" y1="155.0" x2="43.1" y2="155.9" stroke="#333" stroke-width="0.4"/>
<line x1="44.3" y1="155.0" x2="44.3" y2="155.9" stroke="#333" stroke-width="0.4"/>
<line x1="45.4" y1="155.0" x2="45.4" y2="155.9" stroke="#333" stroke-width="0.4"/>
<line x1="46.4" y1="155.0" x2="46.4" y2="156.6" stroke="#111" stroke-width="0.55"/>
<text x="46.4" y="160.6" font-size="4.5" text-anchor="middle">10<tspan font-size="2.7" dy="-1.8">1</tspan></text>
<line x1="52.8" y1="155.0" x2="52.8" y2="155.9" stroke="#333" stroke-width="0.4"/>
<line x1="56.5" y1="155.0" x2="56.5" y2="155.9" stroke="#333" stroke-width="0.4"/>
<line x1="59.2" y1="155.0" x2="59.2" y2="155.9" stroke="#333" stroke-width="0.4"/>
<line x1="61.2" y1="155.0" x2="61.2" y2="155.9" stroke="#333" stroke-width="0.4"/>
<line x1="62.9" y1="155.0" x2="62.9" y2="155.9" stroke="#333" stroke-width="0.4"/>
<line x1="64.3" y1="155.0" x2="64.3" y2="155.9" stroke="#333" stroke-width="0.4"/>
<line x1="65.5" y1="155.0" x2="65.5" y2="155.9" stroke="#333" stroke-width="0.4"/>
<line x1="66.6" y1="155.0" x2="66.6" y2="155.9" stroke="#333" stroke-width="0.4"/>
<line x1="67.6" y1="155.0" x2="67.6" y2="156.6" stroke="#111" stroke-width="0.55"/>
<text x="67.6" y="160.6" font-size="4.5" text-anchor="middle">10<tspan font-size="2.7" dy="-1.8">2</tspan></text>
<line x1="74.0" y1="155.0" x2="74.0" y2="155.9" stroke="#333" stroke-width="0.4"/>
<line x1="77.7" y1="155.0" x2="77.7" y2="155.9" stroke="#333" stroke-width="0.4"/>
<line x1="80.4" y1="155.0" x2="80.4" y2="155.9" stroke="#333" stroke-width="0.4"/>
<line x1="82.4" y1="155.0" x2="82.4" y2="155.9" stroke="#333" stroke-width="0.4"/>
<line x1="84.1" y1="155.0" x2="84.1" y2="155.9" stroke="#333" stroke-width="0.4"/>
<line x1="85.5" y1="155.0" x2="85.5" y2="155.9" stroke="#333" stroke-width="0.4"/>
<line x1="86.7" y1="155.0" x2="86.7" y2="155.9" stroke="#333" stroke-width="0.4"/>
<line x1="87.8" y1="155.0" x2="87.8" y2="155.9" stroke="#333" stroke-width="0.4"/>
<line x1="88.8" y1="155.0" x2="88.8" y2="156.6" stroke="#111" stroke-width="0.55"/>
<text x="88.8" y="160.6" font-size="4.5" text-anchor="middle">10<tspan font-size="2.7" dy="-1.8">3</tspan></text>
<line x1="95.2" y1="155.0" x2="95.2" y2="155.9" stroke="#333" stroke-width="0.4"/>
<line x1="98.9" y1="155.0" x2="98.9" y2="155.9" stroke="#333" stroke-width="0.4"/>
<line x1="101.6" y1="155.0" x2="101.6" y2="155.9" stroke="#333" stroke-width="0.4"/>
<line x1="103.6" y1="155.0" x2="103.6" y2="155.9" stroke="#333" stroke-width="0.4"/>
<line x1="105.3" y1="155.0" x2="105.3" y2="155.9" stroke="#333" stroke-width="0.4"/>
<line x1="106.7" y1="155.0" x2="106.7" y2="155.9" stroke="#333" stroke-width="0.4"/>
<line x1="107.9" y1="155.0" x2="107.9" y2="155.9" stroke="#333" stroke-width="0.4"/>
<line x1="109.0" y1="155.0" x2="109.0" y2="155.9" stroke="#333" stroke-width="0.4"/>
<line x1="110.0" y1="155.0" x2="110.0" y2="156.6" stroke="#111" stroke-width="0.55"/>
<text x="110.0" y="160.6" font-size="4.5" text-anchor="middle">10<tspan font-size="2.7" dy="-1.8">4</tspan></text>
<text x="67.6" y="166.8" font-size="7.9" text-anchor="middle" font-weight="normal" fill="#111" stroke="#111" stroke-width="0.06">I-A/I-E</text>
<text x="15.2" y="125.2" font-size="6.3" text-anchor="middle" font-weight="normal" fill="#111" stroke="#111" stroke-width="0.12" transform="rotate(-90 15.2 125.2)">% of max</text>
<path d="M25.4 155.0 L25.4 140.5 L26.1 134.8 L26.8 130.2 L27.5 127.1 L28.3 126.7 L29.0 122.5 L29.8 122.3 L30.5 123.1 L31.3 121.1 L32.0 120.6 L33.0 118.9 L34.0 117.7 L34.8 116.6 L35.6 114.7 L36.4 113.4 L37.2 109.9 L38.1 108.9 L39.0 108.1 L39.8 109.1 L40.5 106.7 L41.2 109.0 L42.0 108.1 L42.8 107.3 L43.5 107.1 L44.7 108.9 L45.6 109.8 L46.5 110.7 L47.5 107.7 L48.5 107.1 L49.2 106.4 L50.0 105.9 L51.3 102.6 L52.1 106.0 L53.0 103.9 L54.0 108.3 L55.0 109.7 L56.0 109.6 L57.0 114.6 L57.8 118.1 L58.7 120.7 L59.5 120.8 L60.3 123.0 L61.2 125.7 L62.0 131.4 L63.0 131.8 L64.0 136.3 L64.7 136.4 L65.5 139.6 L66.2 143.0 L67.0 140.7 L67.8 144.2 L68.7 143.8 L69.5 146.1 L70.3 144.5 L71.2 141.8 L72.0 143.5 L72.8 141.3 L73.7 139.0 L74.5 138.3 L75.3 139.6 L76.2 137.6 L77.0 135.2 L77.8 134.2 L78.6 134.5 L79.4 133.9 L80.5 136.3 L81.5 133.6 L82.2 137.5 L83.0 138.8 L83.7 137.1 L84.4 141.2 L85.2 142.4 L86.0 145.0 L86.8 144.9 L87.7 147.4 L88.6 149.3 L89.5 152.6 L90.3 152.8 L91.0 153.7 L91.8 155.0 L91.8 155.0 Z" fill="#505050" stroke="#151515" stroke-width="1.2"/>
<path d="M25.4 155.0 L25.4 145.9 L26.3 144.3 L27.1 142.5 L28.0 141.3 L28.8 141.6 L29.5 139.6 L30.2 139.8 L31.0 137.5 L31.8 136.6 L32.5 136.0 L33.2 134.4 L34.0 133.8 L34.8 134.1 L35.5 133.2 L36.2 132.3 L37.0 131.2 L37.8 130.5 L38.5 129.3 L39.2 127.3 L40.0 126.4 L40.8 123.7 L41.5 123.4 L42.2 121.4 L43.0 120.5 L43.8 118.5 L44.7 116.1 L45.5 114.0 L46.3 114.0 L47.2 110.9 L48.0 109.9 L49.0 108.2 L50.0 106.6 L50.7 106.7 L51.4 106.5 L52.1 104.5 L53.0 105.7 L54.0 105.6 L55.0 108.1 L56.0 109.8 L57.0 111.9 L58.0 114.4 L58.8 116.9 L59.6 120.5 L61.0 127.0 L61.8 130.0 L62.5 134.7 L63.7 142.2 L64.6 143.8 L65.5 145.9 L66.3 146.9 L67.0 147.8 L67.8 149.2 L68.5 149.1 L69.2 149.6 L69.9 149.9 L70.6 150.6 L71.3 151.2 L72.0 151.3 L72.8 151.0 L73.5 151.0 L74.2 151.2 L75.0 151.1 L75.8 151.1 L76.5 150.9 L77.2 151.2 L78.0 152.0 L78.7 151.2 L79.4 151.6 L80.1 151.8 L80.9 152.1 L81.6 151.6 L82.3 151.7 L83.0 151.8 L83.8 152.1 L84.5 152.4 L85.3 152.9 L86.0 153.0 L86.8 153.2 L87.5 153.5 L88.3 154.2 L89.0 155.0 L89.0 155.0 Z" fill="#cbcbcb" stroke="#7a7a7a" stroke-width="0.6" stroke-dasharray="0.8 0.5"/>
<path d="M25.4 143.3 L26.3 142.6 L27.1 141.0 L28.0 140.1 L28.8 138.6 L29.5 138.3 L30.2 138.3 L31.0 137.5 L31.8 136.7 L32.5 136.2 L33.2 134.4 L34.0 133.5 L34.8 132.8 L35.5 132.5 L36.2 132.0 L37.0 131.6 L37.8 130.8 L38.5 130.2 L39.2 129.9 L40.0 128.9 L40.8 128.4 L41.7 127.0 L42.5 127.4 L43.3 126.0 L44.2 126.3 L45.0 125.2 L45.8 124.1 L46.5 123.2 L47.2 122.8 L48.0 122.7 L48.8 124.5 L49.5 125.5 L50.2 125.1 L51.0 125.5 L52.0 127.9 L53.0 129.8 L54.0 131.1 L55.0 133.1 L56.0 134.1 L57.0 136.2 L58.0 137.2 L59.0 138.6 L60.0 139.2 L61.0 140.5 L62.0 141.2 L63.0 142.1 L64.0 143.4 L65.0 145.6 L66.0 146.3 L67.0 146.7 L68.0 145.3 L69.0 145.0 L69.8 143.6 L70.7 141.6 L71.5 139.7 L72.5 135.2 L73.5 130.6 L74.5 123.6 L75.5 117.3 L76.5 111.3 L77.5 104.9 L78.3 102.0 L79.2 98.1 L80.2 97.8 L81.5 100.3 L82.2 102.5 L83.0 104.6 L83.8 109.2 L84.5 111.7 L85.2 117.4 L86.0 121.6 L86.8 127.1 L87.5 133.4 L88.2 137.7 L89.0 143.6 L89.8 146.5 L90.5 149.6 L91.5 151.8 L92.5 154.0 L93.3 154.4 L94.2 154.7 L95.0 155.0" fill="none" stroke="#1e1e1e" stroke-width="1.0"/>
<path d="M25.4 146.5 L26.2 147.1 L26.9 147.1 L27.7 148.4 L28.5 147.5 L29.2 147.6 L30.0 147.9 L30.8 148.5 L31.5 149.3 L32.2 149.4 L33.0 149.3 L33.8 149.8 L34.5 149.8 L35.2 149.2 L36.0 149.1 L36.8 150.1 L37.5 149.9 L38.2 149.1 L39.0 150.0 L39.8 149.7 L40.5 149.7 L41.2 149.7 L42.0 149.6 L42.8 149.5 L43.5 149.9 L44.2 150.0 L45.0 150.8 L45.8 149.9 L46.5 150.9 L47.2 150.1 L48.0 150.3 L48.7 150.9 L49.4 150.9 L50.1 150.6 L50.8 150.2 L51.5 150.7 L52.2 150.7 L52.9 151.3 L53.6 150.6 L54.3 150.8 L55.0 151.4 L55.7 150.6 L56.4 151.0 L57.1 151.4 L57.8 151.4 L58.5 150.8 L59.2 150.9 L59.9 151.0 L60.6 151.8 L61.3 151.2 L62.0 151.7 L62.8 151.6 L63.6 151.0 L64.4 150.7 L65.2 151.2 L66.0 150.6 L66.8 149.3 L67.5 149.1 L68.2 147.6 L69.0 146.7 L69.8 144.3 L70.7 143.4 L71.5 141.6 L72.5 136.7 L73.5 132.6 L74.5 124.3 L75.5 117.6 L76.5 111.0 L77.5 104.6 L78.5 101.6 L79.5 97.8 L80.2 97.0 L81.0 96.5 L81.8 97.8 L82.5 99.6 L83.2 102.1 L84.0 106.4 L84.8 111.3 L85.5 116.5 L86.2 121.9 L87.0 127.2 L87.8 131.8 L88.5 136.7 L89.5 143.8 L90.2 147.4 L91.0 149.5 L91.8 151.8 L92.6 154.1 L93.4 154.3 L94.2 154.6 L95.0 155.0" fill="none" stroke="#333" stroke-width="1.0" stroke-dasharray="1.0 0.6"/>
<rect x="25.2" y="170.0" width="84.3" height="63.5" fill="none" stroke="#666" stroke-width="1.0"/>
<line x1="25.2" y1="170.0" x2="25.2" y2="233.5" stroke="#111" stroke-width="1.0"/>
<line x1="25.2" y1="233.5" x2="109.5" y2="233.5" stroke="#111" stroke-width="1.0"/>
<line x1="23.6" y1="233.5" x2="25.2" y2="233.5" stroke="#111" stroke-width="0.55"/>
<text x="23.1" y="235.3" font-size="5.1" text-anchor="end" font-weight="normal" fill="#111" stroke="#111" stroke-width="0.16">0</text>
<line x1="24.3" y1="231.1" x2="25.2" y2="231.1" stroke="#333" stroke-width="0.4"/>
<line x1="24.3" y1="228.7" x2="25.2" y2="228.7" stroke="#333" stroke-width="0.4"/>
<line x1="24.3" y1="226.3" x2="25.2" y2="226.3" stroke="#333" stroke-width="0.4"/>
<line x1="24.3" y1="223.9" x2="25.2" y2="223.9" stroke="#333" stroke-width="0.4"/>
<line x1="23.6" y1="221.5" x2="25.2" y2="221.5" stroke="#111" stroke-width="0.55"/>
<text x="23.1" y="223.3" font-size="5.1" text-anchor="end" font-weight="normal" fill="#111" stroke="#111" stroke-width="0.16">20</text>
<line x1="24.3" y1="219.1" x2="25.2" y2="219.1" stroke="#333" stroke-width="0.4"/>
<line x1="24.3" y1="216.7" x2="25.2" y2="216.7" stroke="#333" stroke-width="0.4"/>
<line x1="24.3" y1="214.3" x2="25.2" y2="214.3" stroke="#333" stroke-width="0.4"/>
<line x1="24.3" y1="211.9" x2="25.2" y2="211.9" stroke="#333" stroke-width="0.4"/>
<line x1="23.6" y1="209.5" x2="25.2" y2="209.5" stroke="#111" stroke-width="0.55"/>
<text x="23.1" y="211.3" font-size="5.1" text-anchor="end" font-weight="normal" fill="#111" stroke="#111" stroke-width="0.16">40</text>
<line x1="24.3" y1="207.1" x2="25.2" y2="207.1" stroke="#333" stroke-width="0.4"/>
<line x1="24.3" y1="204.7" x2="25.2" y2="204.7" stroke="#333" stroke-width="0.4"/>
<line x1="24.3" y1="202.3" x2="25.2" y2="202.3" stroke="#333" stroke-width="0.4"/>
<line x1="24.3" y1="199.9" x2="25.2" y2="199.9" stroke="#333" stroke-width="0.4"/>
<line x1="23.6" y1="197.5" x2="25.2" y2="197.5" stroke="#111" stroke-width="0.55"/>
<text x="23.1" y="199.3" font-size="5.1" text-anchor="end" font-weight="normal" fill="#111" stroke="#111" stroke-width="0.16">60</text>
<line x1="24.3" y1="195.1" x2="25.2" y2="195.1" stroke="#333" stroke-width="0.4"/>
<line x1="24.3" y1="192.7" x2="25.2" y2="192.7" stroke="#333" stroke-width="0.4"/>
<line x1="24.3" y1="190.3" x2="25.2" y2="190.3" stroke="#333" stroke-width="0.4"/>
<line x1="24.3" y1="187.9" x2="25.2" y2="187.9" stroke="#333" stroke-width="0.4"/>
<line x1="23.6" y1="185.5" x2="25.2" y2="185.5" stroke="#111" stroke-width="0.55"/>
<text x="23.1" y="187.3" font-size="5.1" text-anchor="end" font-weight="normal" fill="#111" stroke="#111" stroke-width="0.16">80</text>
<line x1="24.3" y1="183.1" x2="25.2" y2="183.1" stroke="#333" stroke-width="0.4"/>
<line x1="24.3" y1="180.7" x2="25.2" y2="180.7" stroke="#333" stroke-width="0.4"/>
<line x1="24.3" y1="178.3" x2="25.2" y2="178.3" stroke="#333" stroke-width="0.4"/>
<line x1="24.3" y1="175.9" x2="25.2" y2="175.9" stroke="#333" stroke-width="0.4"/>
<line x1="23.6" y1="173.5" x2="25.2" y2="173.5" stroke="#111" stroke-width="0.55"/>
<text x="23.1" y="175.3" font-size="5.1" text-anchor="end" font-weight="normal" fill="#111" stroke="#111" stroke-width="0.16">100</text>
<line x1="25.2" y1="233.5" x2="25.2" y2="235.1" stroke="#111" stroke-width="0.55"/>
<text x="25.2" y="239.1" font-size="4.5" text-anchor="middle">10<tspan font-size="2.7" dy="-1.8">0</tspan></text>
<line x1="31.5" y1="233.5" x2="31.5" y2="234.4" stroke="#333" stroke-width="0.4"/>
<line x1="35.3" y1="233.5" x2="35.3" y2="234.4" stroke="#333" stroke-width="0.4"/>
<line x1="37.9" y1="233.5" x2="37.9" y2="234.4" stroke="#333" stroke-width="0.4"/>
<line x1="39.9" y1="233.5" x2="39.9" y2="234.4" stroke="#333" stroke-width="0.4"/>
<line x1="41.6" y1="233.5" x2="41.6" y2="234.4" stroke="#333" stroke-width="0.4"/>
<line x1="43.0" y1="233.5" x2="43.0" y2="234.4" stroke="#333" stroke-width="0.4"/>
<line x1="44.2" y1="233.5" x2="44.2" y2="234.4" stroke="#333" stroke-width="0.4"/>
<line x1="45.3" y1="233.5" x2="45.3" y2="234.4" stroke="#333" stroke-width="0.4"/>
<line x1="46.3" y1="233.5" x2="46.3" y2="235.1" stroke="#111" stroke-width="0.55"/>
<text x="46.3" y="239.1" font-size="4.5" text-anchor="middle">10<tspan font-size="2.7" dy="-1.8">1</tspan></text>
<line x1="52.6" y1="233.5" x2="52.6" y2="234.4" stroke="#333" stroke-width="0.4"/>
<line x1="56.3" y1="233.5" x2="56.3" y2="234.4" stroke="#333" stroke-width="0.4"/>
<line x1="59.0" y1="233.5" x2="59.0" y2="234.4" stroke="#333" stroke-width="0.4"/>
<line x1="61.0" y1="233.5" x2="61.0" y2="234.4" stroke="#333" stroke-width="0.4"/>
<line x1="62.7" y1="233.5" x2="62.7" y2="234.4" stroke="#333" stroke-width="0.4"/>
<line x1="64.1" y1="233.5" x2="64.1" y2="234.4" stroke="#333" stroke-width="0.4"/>
<line x1="65.3" y1="233.5" x2="65.3" y2="234.4" stroke="#333" stroke-width="0.4"/>
<line x1="66.4" y1="233.5" x2="66.4" y2="234.4" stroke="#333" stroke-width="0.4"/>
<line x1="67.3" y1="233.5" x2="67.3" y2="235.1" stroke="#111" stroke-width="0.55"/>
<text x="67.3" y="239.1" font-size="4.5" text-anchor="middle">10<tspan font-size="2.7" dy="-1.8">2</tspan></text>
<line x1="73.7" y1="233.5" x2="73.7" y2="234.4" stroke="#333" stroke-width="0.4"/>
<line x1="77.4" y1="233.5" x2="77.4" y2="234.4" stroke="#333" stroke-width="0.4"/>
<line x1="80.0" y1="233.5" x2="80.0" y2="234.4" stroke="#333" stroke-width="0.4"/>
<line x1="82.1" y1="233.5" x2="82.1" y2="234.4" stroke="#333" stroke-width="0.4"/>
<line x1="83.7" y1="233.5" x2="83.7" y2="234.4" stroke="#333" stroke-width="0.4"/>
<line x1="85.2" y1="233.5" x2="85.2" y2="234.4" stroke="#333" stroke-width="0.4"/>
<line x1="86.4" y1="233.5" x2="86.4" y2="234.4" stroke="#333" stroke-width="0.4"/>
<line x1="87.5" y1="233.5" x2="87.5" y2="234.4" stroke="#333" stroke-width="0.4"/>
<line x1="88.4" y1="233.5" x2="88.4" y2="235.1" stroke="#111" stroke-width="0.55"/>
<text x="88.4" y="239.1" font-size="4.5" text-anchor="middle">10<tspan font-size="2.7" dy="-1.8">3</tspan></text>
<line x1="94.8" y1="233.5" x2="94.8" y2="234.4" stroke="#333" stroke-width="0.4"/>
<line x1="98.5" y1="233.5" x2="98.5" y2="234.4" stroke="#333" stroke-width="0.4"/>
<line x1="101.1" y1="233.5" x2="101.1" y2="234.4" stroke="#333" stroke-width="0.4"/>
<line x1="103.2" y1="233.5" x2="103.2" y2="234.4" stroke="#333" stroke-width="0.4"/>
<line x1="104.8" y1="233.5" x2="104.8" y2="234.4" stroke="#333" stroke-width="0.4"/>
<line x1="106.2" y1="233.5" x2="106.2" y2="234.4" stroke="#333" stroke-width="0.4"/>
<line x1="107.5" y1="233.5" x2="107.5" y2="234.4" stroke="#333" stroke-width="0.4"/>
<line x1="108.5" y1="233.5" x2="108.5" y2="234.4" stroke="#333" stroke-width="0.4"/>
<line x1="109.5" y1="233.5" x2="109.5" y2="235.1" stroke="#111" stroke-width="0.55"/>
<text x="109.5" y="239.1" font-size="4.5" text-anchor="middle">10<tspan font-size="2.7" dy="-1.8">4</tspan></text>
<text x="67.3" y="245.3" font-size="7.9" text-anchor="middle" font-weight="normal" fill="#111" stroke="#111" stroke-width="0.06">CD86</text>
<text x="15.2" y="203.5" font-size="6.3" text-anchor="middle" font-weight="normal" fill="#111" stroke="#111" stroke-width="0.12" transform="rotate(-90 15.2 203.5)">% of max</text>
<path d="M25.4 233.5 L25.4 227.7 L26.3 228.3 L27.1 226.7 L28.0 228.3 L28.8 227.0 L29.5 226.4 L30.2 222.6 L31.0 220.9 L31.8 219.8 L32.5 220.2 L33.2 219.9 L34.0 217.8 L34.8 215.7 L35.6 215.2 L36.4 214.7 L37.2 213.7 L38.1 211.9 L39.1 210.3 L40.0 207.6 L40.8 203.6 L41.5 204.3 L42.2 200.2 L43.0 199.3 L43.8 196.5 L44.5 195.9 L45.2 191.9 L46.0 190.0 L46.8 188.2 L47.7 186.0 L48.5 187.0 L49.5 184.5 L50.5 182.3 L51.2 181.1 L52.0 181.9 L52.8 179.0 L53.5 177.0 L54.6 177.5 L56.0 179.6 L56.8 183.4 L57.5 182.5 L58.2 187.4 L59.0 192.2 L59.8 195.8 L60.5 199.6 L61.2 199.5 L62.0 203.6 L62.8 206.3 L63.5 209.8 L64.2 215.8 L65.0 217.3 L66.0 221.4 L67.0 222.1 L67.8 224.7 L68.5 223.9 L69.2 223.9 L70.0 226.6 L70.7 227.4 L71.4 224.5 L72.2 226.6 L72.9 226.9 L73.6 225.6 L74.4 226.0 L75.3 225.0 L76.2 225.1 L77.0 225.1 L77.8 226.1 L78.5 226.1 L79.2 224.1 L80.0 223.1 L81.0 224.3 L81.9 225.7 L83.0 224.6 L84.0 225.8 L84.8 226.0 L85.5 228.8 L86.2 228.5 L87.0 227.8 L87.8 228.4 L88.5 229.7 L89.3 230.5 L90.1 231.0 L90.9 230.9 L91.8 231.7 L92.7 232.8 L93.5 233.3 L93.5 233.5 Z" fill="#505050" stroke="#151515" stroke-width="1.2"/>
<path d="M25.4 233.5 L25.4 229.9 L26.3 229.1 L27.1 228.4 L28.0 228.7 L28.8 226.9 L29.5 226.6 L30.2 225.5 L31.0 224.8 L31.8 224.8 L32.5 224.1 L33.2 222.1 L34.0 221.0 L34.8 220.9 L35.6 219.0 L36.4 217.7 L37.2 218.3 L38.1 215.6 L39.1 214.4 L40.0 211.8 L41.0 209.7 L42.0 205.9 L42.9 202.9 L43.8 200.1 L44.5 199.4 L45.3 197.9 L46.0 196.7 L47.0 192.3 L48.0 190.2 L49.0 187.8 L50.0 186.0 L51.0 183.4 L52.0 181.6 L52.8 180.3 L53.5 179.3 L54.6 176.4 L56.0 181.0 L56.8 185.0 L57.5 188.8 L58.2 189.6 L58.9 191.7 L59.6 195.3 L60.5 199.6 L61.5 203.0 L62.2 204.9 L63.0 209.1 L63.7 210.8 L64.5 214.4 L65.2 216.5 L66.0 219.6 L66.9 220.1 L67.7 223.0 L68.6 223.7 L69.4 224.5 L70.3 225.7 L71.2 226.1 L72.0 225.4 L72.8 225.6 L73.6 226.0 L74.4 226.3 L75.2 226.2 L76.0 225.8 L76.7 226.0 L77.5 226.8 L78.2 227.0 L79.0 225.4 L79.7 226.2 L80.4 226.5 L81.2 225.1 L81.9 226.5 L82.7 225.8 L83.5 227.3 L84.4 227.8 L85.2 228.6 L86.0 228.7 L86.8 229.4 L87.6 230.2 L88.5 230.6 L89.3 231.3 L90.1 231.7 L90.8 232.1 L91.5 232.4 L92.3 232.9 L93.0 233.3 L93.0 233.5 Z" fill="#cbcbcb" stroke="#7a7a7a" stroke-width="0.6" stroke-dasharray="0.8 0.5"/>
<path d="M25.4 229.0 L26.3 227.7 L27.1 227.4 L28.0 226.4 L28.8 224.7 L29.5 223.1 L30.2 222.2 L31.0 220.4 L31.8 218.7 L32.5 217.4 L33.2 215.2 L34.0 213.9 L34.8 212.0 L35.5 209.4 L36.2 208.2 L37.0 205.4 L37.8 204.6 L38.5 202.9 L39.2 200.8 L40.0 198.4 L40.8 197.8 L41.5 196.3 L42.2 195.9 L43.0 193.5 L43.8 193.6 L44.5 192.9 L45.2 191.7 L46.0 190.9 L46.9 189.7 L47.9 190.5 L48.8 189.5 L49.6 191.9 L50.5 193.6 L51.5 196.5 L52.9 201.4 L54.0 199.6 L55.4 203.8 L56.2 203.5 L57.0 203.4 L57.8 203.5 L58.5 205.6 L59.2 204.2 L60.0 204.4 L61.0 204.5 L62.0 206.0 L63.0 208.1 L64.0 208.6 L64.8 210.2 L65.5 212.0 L66.2 212.9 L67.0 213.7 L68.0 213.2 L69.0 212.5 L69.8 214.6 L70.5 215.3 L71.2 214.8 L72.0 213.0 L73.0 213.1 L74.0 211.5 L74.7 211.4 L75.5 210.8 L76.2 209.8 L76.9 209.8 L78.0 207.2 L79.0 205.1 L80.0 203.0 L81.0 199.4 L82.0 198.7 L83.0 196.2 L83.7 195.4 L84.5 195.4 L85.2 194.2 L86.5 197.7 L87.2 200.6 L88.0 203.8 L89.0 209.5 L90.1 214.2 L91.0 217.7 L92.0 222.3 L92.8 224.4 L93.5 228.4 L94.3 229.6 L95.1 231.8 L95.8 232.3 L96.5 232.5 L97.3 232.9 L98.0 233.3" fill="none" stroke="#1e1e1e" stroke-width="1.0"/>
<path d="M25.4 229.3 L26.3 227.4 L27.1 225.8 L28.0 224.5 L28.8 222.9 L29.5 220.4 L30.2 218.3 L31.0 216.6 L31.8 212.5 L32.5 209.6 L33.2 207.2 L34.0 203.3 L34.8 199.6 L35.7 196.5 L36.5 192.4 L37.5 189.3 L38.5 185.6 L39.5 184.6 L40.5 183.0 L41.2 183.5 L42.0 185.2 L42.9 182.3 L43.8 179.1 L44.6 181.4 L45.5 181.6 L46.4 179.9 L47.2 178.1 L48.5 184.2 L49.2 187.0 L50.0 189.4 L50.8 192.4 L51.5 195.7 L52.2 197.6 L53.0 200.7 L53.8 202.8 L54.5 204.8 L55.2 206.2 L56.0 206.9 L56.8 208.4 L57.5 208.8 L58.2 208.4 L59.0 209.6 L60.0 207.4 L61.0 207.0 L62.0 206.6 L63.0 206.1 L64.0 207.1 L65.0 209.4 L66.0 209.3 L67.0 211.1 L68.0 211.1 L69.0 209.5 L70.0 210.3 L71.0 211.7 L72.0 211.8 L73.0 212.2 L74.0 211.4 L75.0 209.5 L76.0 208.2 L77.0 206.7 L78.0 203.4 L79.0 201.5 L80.0 197.9 L81.0 194.3 L82.0 190.8 L83.0 189.5 L83.8 188.6 L84.5 187.5 L85.2 188.1 L86.5 190.9 L87.2 194.6 L88.0 198.4 L88.8 203.6 L89.5 208.4 L90.2 213.3 L91.0 218.3 L91.8 222.3 L92.5 226.5 L93.2 228.5 L94.0 230.3 L94.8 231.2 L95.5 231.9 L96.2 232.7 L97.0 233.3" fill="none" stroke="#333" stroke-width="1.0" stroke-dasharray="1.0 0.6"/>
<text x="143.0" y="120.8" font-size="14.6" text-anchor="start" font-weight="bold" fill="#000">B</text>
<rect x="169.8" y="124.8" width="156.7" height="104.8" fill="none" stroke="#5a5a5a" stroke-width="1.1"/>
<line x1="169.8" y1="124.8" x2="169.8" y2="229.6" stroke="#111" stroke-width="0.9"/>
<line x1="169.8" y1="229.6" x2="326.5" y2="229.6" stroke="#111" stroke-width="0.9"/>
<line x1="167.8" y1="229.6" x2="169.8" y2="229.6" stroke="#111" stroke-width="0.6"/>
<text x="167.0" y="232.1" font-size="7.0" text-anchor="end" font-weight="normal" fill="#111" stroke="#111" stroke-width="0.10">0</text>
<line x1="167.8" y1="203.4" x2="169.8" y2="203.4" stroke="#111" stroke-width="0.6"/>
<text x="167.0" y="205.9" font-size="7.0" text-anchor="end" font-weight="normal" fill="#111" stroke="#111" stroke-width="0.10">20</text>
<line x1="167.8" y1="177.2" x2="169.8" y2="177.2" stroke="#111" stroke-width="0.6"/>
<text x="167.0" y="179.7" font-size="7.0" text-anchor="end" font-weight="normal" fill="#111" stroke="#111" stroke-width="0.10">40</text>
<line x1="167.8" y1="151.0" x2="169.8" y2="151.0" stroke="#111" stroke-width="0.6"/>
<text x="167.0" y="153.5" font-size="7.0" text-anchor="end" font-weight="normal" fill="#111" stroke="#111" stroke-width="0.10">60</text>
<line x1="167.8" y1="124.8" x2="169.8" y2="124.8" stroke="#111" stroke-width="0.6"/>
<text x="167.0" y="127.3" font-size="7.0" text-anchor="end" font-weight="normal" fill="#111" stroke="#111" stroke-width="0.10">80</text>
<line x1="168.6" y1="223.0" x2="169.8" y2="223.0" stroke="#111" stroke-width="0.45"/>
<line x1="168.6" y1="216.5" x2="169.8" y2="216.5" stroke="#111" stroke-width="0.45"/>
<line x1="168.6" y1="209.9" x2="169.8" y2="209.9" stroke="#111" stroke-width="0.45"/>
<line x1="168.6" y1="196.8" x2="169.8" y2="196.8" stroke="#111" stroke-width="0.45"/>
<line x1="168.6" y1="190.3" x2="169.8" y2="190.3" stroke="#111" stroke-width="0.45"/>
<line x1="168.6" y1="183.8" x2="169.8" y2="183.8" stroke="#111" stroke-width="0.45"/>
<line x1="168.6" y1="170.6" x2="169.8" y2="170.6" stroke="#111" stroke-width="0.45"/>
<line x1="168.6" y1="164.1" x2="169.8" y2="164.1" stroke="#111" stroke-width="0.45"/>
<line x1="168.6" y1="157.6" x2="169.8" y2="157.6" stroke="#111" stroke-width="0.45"/>
<line x1="168.6" y1="144.4" x2="169.8" y2="144.4" stroke="#111" stroke-width="0.45"/>
<line x1="168.6" y1="137.9" x2="169.8" y2="137.9" stroke="#111" stroke-width="0.45"/>
<line x1="168.6" y1="131.3" x2="169.8" y2="131.3" stroke="#111" stroke-width="0.45"/>
<line x1="169.8" y1="229.6" x2="169.8" y2="231.6" stroke="#111" stroke-width="0.6"/>
<text x="169.8" y="239.4" font-size="7.0" text-anchor="middle" font-weight="normal" fill="#111" stroke="#111" stroke-width="0.10">0</text>
<line x1="189.4" y1="229.6" x2="189.4" y2="231.6" stroke="#111" stroke-width="0.6"/>
<text x="189.4" y="239.4" font-size="7.0" text-anchor="middle" font-weight="normal" fill="#111" stroke="#111" stroke-width="0.10">2</text>
<line x1="209.0" y1="229.6" x2="209.0" y2="231.6" stroke="#111" stroke-width="0.6"/>
<text x="209.0" y="239.4" font-size="7.0" text-anchor="middle" font-weight="normal" fill="#111" stroke="#111" stroke-width="0.10">4</text>
<line x1="228.6" y1="229.6" x2="228.6" y2="231.6" stroke="#111" stroke-width="0.6"/>
<text x="228.6" y="239.4" font-size="7.0" text-anchor="middle" font-weight="normal" fill="#111" stroke="#111" stroke-width="0.10">6</text>
<line x1="248.2" y1="229.6" x2="248.2" y2="231.6" stroke="#111" stroke-width="0.6"/>
<text x="248.2" y="239.4" font-size="7.0" text-anchor="middle" font-weight="normal" fill="#111" stroke="#111" stroke-width="0.10">8</text>
<line x1="267.7" y1="229.6" x2="267.7" y2="231.6" stroke="#111" stroke-width="0.6"/>
<text x="267.7" y="239.4" font-size="7.0" text-anchor="middle" font-weight="normal" fill="#111" stroke="#111" stroke-width="0.10">10</text>
<line x1="287.3" y1="229.6" x2="287.3" y2="231.6" stroke="#111" stroke-width="0.6"/>
<text x="287.3" y="239.4" font-size="7.0" text-anchor="middle" font-weight="normal" fill="#111" stroke="#111" stroke-width="0.10">12</text>
<line x1="306.9" y1="229.6" x2="306.9" y2="231.6" stroke="#111" stroke-width="0.6"/>
<text x="306.9" y="239.4" font-size="7.0" text-anchor="middle" font-weight="normal" fill="#111" stroke="#111" stroke-width="0.10">14</text>
<line x1="326.5" y1="229.6" x2="326.5" y2="231.6" stroke="#111" stroke-width="0.6"/>
<text x="326.5" y="239.4" font-size="7.0" text-anchor="middle" font-weight="normal" fill="#111" stroke="#111" stroke-width="0.10">16</text>
<line x1="179.6" y1="229.6" x2="179.6" y2="230.8" stroke="#111" stroke-width="0.45"/>
<line x1="199.2" y1="229.6" x2="199.2" y2="230.8" stroke="#111" stroke-width="0.45"/>
<line x1="218.8" y1="229.6" x2="218.8" y2="230.8" stroke="#111" stroke-width="0.45"/>
<line x1="238.4" y1="229.6" x2="238.4" y2="230.8" stroke="#111" stroke-width="0.45"/>
<line x1="257.9" y1="229.6" x2="257.9" y2="230.8" stroke="#111" stroke-width="0.45"/>
<line x1="277.5" y1="229.6" x2="277.5" y2="230.8" stroke="#111" stroke-width="0.45"/>
<line x1="297.1" y1="229.6" x2="297.1" y2="230.8" stroke="#111" stroke-width="0.45"/>
<line x1="316.7" y1="229.6" x2="316.7" y2="230.8" stroke="#111" stroke-width="0.45"/>
<text x="248.2" y="246.1" font-size="7.3" text-anchor="middle" font-weight="normal" fill="#111" stroke="#111" stroke-width="0.08">time (hrs)</text>
<text x="153.8" y="173.3" font-size="7.0" text-anchor="middle" fill="#111" transform="rotate(-90 153.8 173.3)">MFI (x10<tspan font-size="4.4" dy="-2.7">-3</tspan><tspan dy="2.7">)</tspan></text>
<path d="M169.8 177.5 L171.8 176.9 L173.7 176.1 L175.7 175.5 L177.6 174.8 L179.6 174.1 L181.6 173.4 L183.5 172.6 L185.5 171.9 L187.4 171.2 L189.4 170.5 L191.3 169.8 L193.3 169.1 L195.3 168.5 L197.2 167.9 L199.2 167.3 L201.1 166.8 L203.1 166.2 L205.1 165.7 L207.0 165.1 L209.0 164.5 L210.9 164.0 L212.9 163.5 L214.9 163.0 L216.8 162.5 L218.8 162.1 L220.7 161.7 L222.7 161.4 L224.6 161.0 L226.6 160.7 L228.6 160.5 L230.5 160.2 L232.5 160.0 L234.4 159.8 L236.4 159.6 L238.4 159.4 L240.3 159.3 L242.3 159.1 L244.2 159.0 L246.2 158.8 L248.2 158.7 L250.1 158.5 L252.1 158.4 L254.0 158.2 L256.0 158.0 L257.9 157.9 L259.9 157.7 L261.9 157.6 L263.8 157.4 L265.8 157.3 L267.7 157.1 L269.7 156.9 L271.7 156.8 L273.6 156.6 L275.6 156.4 L277.5 156.3 L279.5 156.1 L281.4 155.9 L283.4 155.8 L285.4 155.6 L287.3 155.4 L289.3 155.3 L291.2 155.1 L293.2 155.0 L295.2 154.8 L297.1 154.7 L299.1 154.6 L301.0 154.4 L303.0 154.3 L305.0 154.1 L306.9 154.0 L308.9 153.9 L310.8 153.7 L312.8 153.6 L314.7 153.5 L316.7 153.3 L318.7 153.2 L320.6 153.1 L322.6 153.0 L324.5 152.9 L326.5 152.8" fill="none" stroke="#111" stroke-width="0.8"/>
<path d="M169.8 177.5 L171.8 177.1 L173.7 176.5 L175.7 176.0 L177.6 175.4 L179.6 174.7 L181.6 174.0 L183.5 173.3 L185.5 172.7 L187.4 172.0 L189.4 171.4 L191.3 170.7 L193.3 170.1 L195.3 169.5 L197.2 168.9 L199.2 168.3 L201.1 167.7 L203.1 167.1 L205.1 166.5 L207.0 165.9 L209.0 165.3 L210.9 164.7 L212.9 164.2 L214.9 163.7 L216.8 163.2 L218.8 162.7 L220.7 162.3 L222.7 161.9 L224.6 161.6 L226.6 161.3 L228.6 161.0 L230.5 160.8 L232.5 160.5 L234.4 160.3 L236.4 160.1 L238.4 159.9 L240.3 159.7 L242.3 159.5 L244.2 159.4 L246.2 159.2 L248.2 159.1 L250.1 158.9 L252.1 158.7 L254.0 158.6 L256.0 158.4 L257.9 158.3 L259.9 158.1 L261.9 158.0 L263.8 157.8 L265.8 157.7 L267.7 157.5 L269.7 157.4 L271.7 157.2 L273.6 157.1 L275.6 156.9 L277.5 156.8 L279.5 156.7 L281.4 156.5 L283.4 156.4 L285.4 156.3 L287.3 156.1 L289.3 156.0 L291.2 155.9 L293.2 155.8 L295.2 155.7 L297.1 155.6 L299.1 155.5 L301.0 155.4 L303.0 155.3 L305.0 155.1 L306.9 155.0 L308.9 154.9 L310.8 154.8 L312.8 154.7 L314.7 154.6 L316.7 154.5 L318.7 154.5 L320.6 154.4 L322.6 154.3 L324.5 154.2 L326.5 154.2" fill="none" stroke="#111" stroke-width="0.8"/>
<path d="M169.8 177.5 L171.8 177.3 L173.7 177.0 L175.7 176.6 L177.6 176.0 L179.6 175.4 L181.6 174.8 L183.5 174.1 L185.5 173.5 L187.4 172.9 L189.4 172.3 L191.3 171.7 L193.3 171.1 L195.3 170.5 L197.2 169.9 L199.2 169.3 L201.1 168.7 L203.1 168.1 L205.1 167.5 L207.0 166.8 L209.0 166.2 L210.9 165.6 L212.9 165.0 L214.9 164.4 L216.8 163.9 L218.8 163.4 L220.7 163.0 L222.7 162.6 L224.6 162.2 L226.6 161.9 L228.6 161.6 L230.5 161.3 L232.5 161.1 L234.4 160.8 L236.4 160.6 L238.4 160.4 L240.3 160.2 L242.3 160.0 L244.2 159.8 L246.2 159.7 L248.2 159.5 L250.1 159.3 L252.1 159.2 L254.0 159.0 L256.0 158.8 L257.9 158.7 L259.9 158.5 L261.9 158.4 L263.8 158.2 L265.8 158.1 L267.7 157.9 L269.7 157.8 L271.7 157.7 L273.6 157.6 L275.6 157.5 L277.5 157.4 L279.5 157.3 L281.4 157.2 L283.4 157.1 L285.4 157.0 L287.3 156.9 L289.3 156.8 L291.2 156.7 L293.2 156.7 L295.2 156.6 L297.1 156.5 L299.1 156.4 L301.0 156.4 L303.0 156.3 L305.0 156.2 L306.9 156.2 L308.9 156.1 L310.8 156.0 L312.8 156.0 L314.7 155.9 L316.7 155.8 L318.7 155.8 L320.6 155.7 L322.6 155.7 L324.5 155.6 L326.5 155.6" fill="none" stroke="#111" stroke-width="0.8"/>
<path d="M169.8 177.5 L171.8 177.5 L173.7 177.4 L175.7 177.1 L177.6 176.6 L179.6 176.0 L181.6 175.4 L183.5 174.8 L185.5 174.3 L187.4 173.7 L189.4 173.1 L191.3 172.6 L193.3 172.1 L195.3 171.5 L197.2 170.9 L199.2 170.3 L201.1 169.7 L203.1 169.0 L205.1 168.3 L207.0 167.6 L209.0 167.0 L210.9 166.3 L212.9 165.7 L214.9 165.1 L216.8 164.5 L218.8 164.0 L220.7 163.6 L222.7 163.1 L224.6 162.8 L226.6 162.4 L228.6 162.1 L230.5 161.8 L232.5 161.6 L234.4 161.3 L236.4 161.1 L238.4 160.9 L240.3 160.6 L242.3 160.4 L244.2 160.2 L246.2 160.1 L248.2 159.9 L250.1 159.7 L252.1 159.5 L254.0 159.4 L256.0 159.2 L257.9 159.1 L259.9 158.9 L261.9 158.7 L263.8 158.6 L265.8 158.5 L267.7 158.3 L269.7 158.2 L271.7 158.1 L273.6 158.1 L275.6 158.0 L277.5 157.9 L279.5 157.9 L281.4 157.8 L283.4 157.7 L285.4 157.7 L287.3 157.6 L289.3 157.6 L291.2 157.5 L293.2 157.5 L295.2 157.4 L297.1 157.4 L299.1 157.3 L301.0 157.3 L303.0 157.3 L305.0 157.2 L306.9 157.2 L308.9 157.2 L310.8 157.1 L312.8 157.1 L314.7 157.1 L316.7 157.0 L318.7 157.0 L320.6 157.0 L322.6 157.0 L324.5 157.0 L326.5 157.0" fill="none" stroke="#111" stroke-width="0.8"/>
<path d="M169.8 177.6 L171.8 177.4 L173.7 177.1 L175.7 176.8 L177.6 176.4 L179.6 175.9 L181.6 175.4 L183.5 175.0 L185.5 174.5 L187.4 174.1 L189.4 173.7 L191.3 173.2 L193.3 172.9 L195.3 172.5 L197.2 172.2 L199.2 171.9 L201.1 171.6 L203.1 171.3 L205.1 171.1 L207.0 170.9 L209.0 170.7 L210.9 170.5 L212.9 170.3 L214.9 170.2 L216.8 170.0 L218.8 169.8 L220.7 169.7 L222.7 169.6 L224.6 169.4 L226.6 169.3 L228.6 169.2 L230.5 169.0 L232.5 168.9 L234.4 168.8 L236.4 168.7 L238.4 168.7 L240.3 168.6 L242.3 168.5 L244.2 168.5 L246.2 168.4 L248.2 168.4 L250.1 168.3 L252.1 168.3 L254.0 168.3 L256.0 168.3 L257.9 168.3 L259.9 168.3 L261.9 168.2 L263.8 168.2 L265.8 168.2 L267.7 168.2 L269.7 168.2 L271.7 168.2 L273.6 168.2 L275.6 168.2 L277.5 168.2 L279.5 168.2 L281.4 168.2 L283.4 168.2 L285.4 168.2 L287.3 168.2 L289.3 168.2 L291.2 168.1 L293.2 168.1 L295.2 168.1 L297.1 168.1 L299.1 168.1 L301.0 168.1 L303.0 168.1 L305.0 168.1 L306.9 168.1 L308.9 168.1 L310.8 168.1 L312.8 168.1 L314.7 168.1 L316.7 168.1 L318.7 168.1 L320.6 168.1 L322.6 168.0 L324.5 168.0 L326.5 168.0" fill="none" stroke="#222" stroke-width="0.9"/>
<circle cx="170.6" cy="177.2" r="1.4" fill="#1a1a1a" stroke="none" stroke-width="0.6"/>
<circle cx="172.2" cy="176.7" r="1.4" fill="#1a1a1a" stroke="none" stroke-width="0.6"/>
<circle cx="173.7" cy="176.1" r="1.4" fill="#1a1a1a" stroke="none" stroke-width="0.6"/>
<circle cx="175.3" cy="175.6" r="1.4" fill="#1a1a1a" stroke="none" stroke-width="0.6"/>
<circle cx="176.9" cy="175.1" r="1.4" fill="#1a1a1a" stroke="none" stroke-width="0.6"/>
<circle cx="178.4" cy="174.5" r="1.4" fill="#1a1a1a" stroke="none" stroke-width="0.6"/>
<circle cx="180.0" cy="173.9" r="1.4" fill="#1a1a1a" stroke="none" stroke-width="0.6"/>
<circle cx="181.6" cy="173.4" r="1.4" fill="#1a1a1a" stroke="none" stroke-width="0.6"/>
<circle cx="183.1" cy="172.8" r="1.4" fill="#1a1a1a" stroke="none" stroke-width="0.6"/>
<circle cx="184.7" cy="172.2" r="1.4" fill="#1a1a1a" stroke="none" stroke-width="0.6"/>
<circle cx="186.3" cy="171.6" r="1.4" fill="#1a1a1a" stroke="none" stroke-width="0.6"/>
<circle cx="187.8" cy="171.1" r="1.4" fill="#1a1a1a" stroke="none" stroke-width="0.6"/>
<circle cx="189.4" cy="170.5" r="1.4" fill="#1a1a1a" stroke="none" stroke-width="0.6"/>
<circle cx="191.0" cy="169.9" r="1.4" fill="#1a1a1a" stroke="none" stroke-width="0.6"/>
<circle cx="192.5" cy="169.4" r="1.4" fill="#1a1a1a" stroke="none" stroke-width="0.6"/>
<circle cx="194.1" cy="168.9" r="1.4" fill="#1a1a1a" stroke="none" stroke-width="0.6"/>
<circle cx="195.7" cy="168.3" r="1.4" fill="#1a1a1a" stroke="none" stroke-width="0.6"/>
<circle cx="197.2" cy="167.9" r="1.4" fill="#1a1a1a" stroke="none" stroke-width="0.6"/>
<circle cx="198.8" cy="167.4" r="1.4" fill="#1a1a1a" stroke="none" stroke-width="0.6"/>
<circle cx="200.4" cy="167.0" r="1.4" fill="#1a1a1a" stroke="none" stroke-width="0.6"/>
<circle cx="201.9" cy="166.6" r="1.4" fill="#1a1a1a" stroke="none" stroke-width="0.6"/>
<circle cx="203.5" cy="166.1" r="1.4" fill="#1a1a1a" stroke="none" stroke-width="0.6"/>
<circle cx="205.1" cy="165.7" r="1.4" fill="#1a1a1a" stroke="none" stroke-width="0.6"/>
<circle cx="206.6" cy="165.2" r="1.4" fill="#1a1a1a" stroke="none" stroke-width="0.6"/>
<circle cx="208.2" cy="164.8" r="1.4" fill="#1a1a1a" stroke="none" stroke-width="0.6"/>
<circle cx="209.8" cy="164.3" r="1.4" fill="#1a1a1a" stroke="none" stroke-width="0.6"/>
<circle cx="211.3" cy="163.9" r="1.4" fill="#1a1a1a" stroke="none" stroke-width="0.6"/>
<circle cx="212.9" cy="163.5" r="1.4" fill="#1a1a1a" stroke="none" stroke-width="0.6"/>
<circle cx="214.5" cy="163.1" r="1.4" fill="#1a1a1a" stroke="none" stroke-width="0.6"/>
<circle cx="216.0" cy="162.7" r="1.4" fill="#1a1a1a" stroke="none" stroke-width="0.6"/>
<circle cx="217.6" cy="162.4" r="1.4" fill="#1a1a1a" stroke="none" stroke-width="0.6"/>
<circle cx="219.2" cy="162.1" r="1.4" fill="#1a1a1a" stroke="none" stroke-width="0.6"/>
<circle cx="220.7" cy="161.7" r="1.4" fill="#1a1a1a" stroke="none" stroke-width="0.6"/>
<circle cx="222.3" cy="161.4" r="1.4" fill="#1a1a1a" stroke="none" stroke-width="0.6"/>
<circle cx="223.9" cy="161.2" r="1.4" fill="#1a1a1a" stroke="none" stroke-width="0.6"/>
<circle cx="225.4" cy="160.9" r="1.4" fill="#1a1a1a" stroke="none" stroke-width="0.6"/>
<circle cx="227.0" cy="160.7" r="1.4" fill="#1a1a1a" stroke="none" stroke-width="0.6"/>
<circle cx="228.6" cy="160.5" r="1.4" fill="#1a1a1a" stroke="none" stroke-width="0.6"/>
<circle cx="230.1" cy="160.3" r="1.4" fill="#1a1a1a" stroke="none" stroke-width="0.6"/>
<circle cx="231.7" cy="160.1" r="1.4" fill="#1a1a1a" stroke="none" stroke-width="0.6"/>
<circle cx="233.3" cy="159.9" r="1.4" fill="#1a1a1a" stroke="none" stroke-width="0.6"/>
<circle cx="234.8" cy="159.8" r="1.4" fill="#1a1a1a" stroke="none" stroke-width="0.6"/>
<circle cx="236.4" cy="159.6" r="1.4" fill="#1a1a1a" stroke="none" stroke-width="0.6"/>
<circle cx="238.0" cy="159.5" r="1.4" fill="#1a1a1a" stroke="none" stroke-width="0.6"/>
<circle cx="239.5" cy="159.3" r="1.4" fill="#1a1a1a" stroke="none" stroke-width="0.6"/>
<circle cx="241.1" cy="159.2" r="1.4" fill="#1a1a1a" stroke="none" stroke-width="0.6"/>
<circle cx="242.7" cy="159.1" r="1.4" fill="#1a1a1a" stroke="none" stroke-width="0.6"/>
<circle cx="244.2" cy="159.0" r="1.4" fill="#1a1a1a" stroke="none" stroke-width="0.6"/>
<circle cx="245.8" cy="158.9" r="1.4" fill="#1a1a1a" stroke="none" stroke-width="0.6"/>
<circle cx="247.4" cy="158.7" r="1.4" fill="#1a1a1a" stroke="none" stroke-width="0.6"/>
<circle cx="248.9" cy="158.6" r="1.4" fill="#1a1a1a" stroke="none" stroke-width="0.6"/>
<circle cx="250.5" cy="158.5" r="1.4" fill="#1a1a1a" stroke="none" stroke-width="0.6"/>
<circle cx="253.0" cy="158.3" r="1.4" fill="#1a1a1a" stroke="none" stroke-width="0.6"/>
<circle cx="257.9" cy="157.9" r="1.4" fill="#1a1a1a" stroke="none" stroke-width="0.6"/>
<circle cx="262.8" cy="157.5" r="1.4" fill="#1a1a1a" stroke="none" stroke-width="0.6"/>
<circle cx="267.7" cy="157.1" r="1.4" fill="#1a1a1a" stroke="none" stroke-width="0.6"/>
<circle cx="272.6" cy="156.7" r="1.4" fill="#1a1a1a" stroke="none" stroke-width="0.6"/>
<circle cx="277.5" cy="156.3" r="1.4" fill="#1a1a1a" stroke="none" stroke-width="0.6"/>
<circle cx="282.4" cy="155.8" r="1.4" fill="#1a1a1a" stroke="none" stroke-width="0.6"/>
<circle cx="287.3" cy="155.4" r="1.4" fill="#1a1a1a" stroke="none" stroke-width="0.6"/>
<circle cx="292.2" cy="155.1" r="1.4" fill="#1a1a1a" stroke="none" stroke-width="0.6"/>
<circle cx="297.1" cy="154.7" r="1.4" fill="#1a1a1a" stroke="none" stroke-width="0.6"/>
<circle cx="302.0" cy="154.3" r="1.4" fill="#1a1a1a" stroke="none" stroke-width="0.6"/>
<circle cx="306.9" cy="154.0" r="1.4" fill="#1a1a1a" stroke="none" stroke-width="0.6"/>
<circle cx="311.8" cy="153.7" r="1.4" fill="#1a1a1a" stroke="none" stroke-width="0.6"/>
<circle cx="316.7" cy="153.3" r="1.4" fill="#1a1a1a" stroke="none" stroke-width="0.6"/>
<circle cx="321.6" cy="153.0" r="1.4" fill="#1a1a1a" stroke="none" stroke-width="0.6"/>
<circle cx="326.5" cy="152.8" r="1.4" fill="#1a1a1a" stroke="none" stroke-width="0.6"/>
<circle cx="170.6" cy="177.3" r="1.4" fill="#1a1a1a" stroke="none" stroke-width="0.6"/>
<circle cx="172.2" cy="177.0" r="1.4" fill="#1a1a1a" stroke="none" stroke-width="0.6"/>
<circle cx="173.7" cy="176.5" r="1.4" fill="#1a1a1a" stroke="none" stroke-width="0.6"/>
<circle cx="175.3" cy="176.1" r="1.4" fill="#1a1a1a" stroke="none" stroke-width="0.6"/>
<circle cx="176.9" cy="175.6" r="1.4" fill="#1a1a1a" stroke="none" stroke-width="0.6"/>
<circle cx="178.4" cy="175.1" r="1.4" fill="#1a1a1a" stroke="none" stroke-width="0.6"/>
<circle cx="180.0" cy="174.6" r="1.4" fill="#1a1a1a" stroke="none" stroke-width="0.6"/>
<circle cx="181.6" cy="174.0" r="1.4" fill="#1a1a1a" stroke="none" stroke-width="0.6"/>
<circle cx="183.1" cy="173.5" r="1.4" fill="#1a1a1a" stroke="none" stroke-width="0.6"/>
<circle cx="184.7" cy="172.9" r="1.4" fill="#1a1a1a" stroke="none" stroke-width="0.6"/>
<circle cx="186.3" cy="172.4" r="1.4" fill="#1a1a1a" stroke="none" stroke-width="0.6"/>
<circle cx="187.8" cy="171.9" r="1.4" fill="#1a1a1a" stroke="none" stroke-width="0.6"/>
<circle cx="189.4" cy="171.4" r="1.4" fill="#1a1a1a" stroke="none" stroke-width="0.6"/>
<circle cx="191.0" cy="170.8" r="1.4" fill="#1a1a1a" stroke="none" stroke-width="0.6"/>
<circle cx="192.5" cy="170.3" r="1.4" fill="#1a1a1a" stroke="none" stroke-width="0.6"/>
<circle cx="194.1" cy="169.8" r="1.4" fill="#1a1a1a" stroke="none" stroke-width="0.6"/>
<circle cx="195.7" cy="169.3" r="1.4" fill="#1a1a1a" stroke="none" stroke-width="0.6"/>
<circle cx="197.2" cy="168.9" r="1.4" fill="#1a1a1a" stroke="none" stroke-width="0.6"/>
<circle cx="198.8" cy="168.4" r="1.4" fill="#1a1a1a" stroke="none" stroke-width="0.6"/>
<circle cx="200.4" cy="168.0" r="1.4" fill="#1a1a1a" stroke="none" stroke-width="0.6"/>
<circle cx="201.9" cy="167.5" r="1.4" fill="#1a1a1a" stroke="none" stroke-width="0.6"/>
<circle cx="203.5" cy="167.0" r="1.4" fill="#1a1a1a" stroke="none" stroke-width="0.6"/>
<circle cx="205.1" cy="166.5" r="1.4" fill="#1a1a1a" stroke="none" stroke-width="0.6"/>
<circle cx="206.6" cy="166.0" r="1.4" fill="#1a1a1a" stroke="none" stroke-width="0.6"/>
<circle cx="208.2" cy="165.6" r="1.4" fill="#1a1a1a" stroke="none" stroke-width="0.6"/>
<circle cx="209.8" cy="165.1" r="1.4" fill="#1a1a1a" stroke="none" stroke-width="0.6"/>
<circle cx="211.3" cy="164.6" r="1.4" fill="#1a1a1a" stroke="none" stroke-width="0.6"/>
<circle cx="212.9" cy="164.2" r="1.4" fill="#1a1a1a" stroke="none" stroke-width="0.6"/>
<circle cx="214.5" cy="163.8" r="1.4" fill="#1a1a1a" stroke="none" stroke-width="0.6"/>
<circle cx="216.0" cy="163.4" r="1.4" fill="#1a1a1a" stroke="none" stroke-width="0.6"/>
<circle cx="217.6" cy="163.0" r="1.4" fill="#1a1a1a" stroke="none" stroke-width="0.6"/>
<circle cx="219.2" cy="162.7" r="1.4" fill="#1a1a1a" stroke="none" stroke-width="0.6"/>
<circle cx="220.7" cy="162.3" r="1.4" fill="#1a1a1a" stroke="none" stroke-width="0.6"/>
<circle cx="222.3" cy="162.0" r="1.4" fill="#1a1a1a" stroke="none" stroke-width="0.6"/>
<circle cx="223.9" cy="161.7" r="1.4" fill="#1a1a1a" stroke="none" stroke-width="0.6"/>
<circle cx="225.4" cy="161.5" r="1.4" fill="#1a1a1a" stroke="none" stroke-width="0.6"/>
<circle cx="227.0" cy="161.2" r="1.4" fill="#1a1a1a" stroke="none" stroke-width="0.6"/>
<circle cx="228.6" cy="161.0" r="1.4" fill="#1a1a1a" stroke="none" stroke-width="0.6"/>
<circle cx="230.1" cy="160.8" r="1.4" fill="#1a1a1a" stroke="none" stroke-width="0.6"/>
<circle cx="231.7" cy="160.6" r="1.4" fill="#1a1a1a" stroke="none" stroke-width="0.6"/>
<circle cx="233.3" cy="160.4" r="1.4" fill="#1a1a1a" stroke="none" stroke-width="0.6"/>
<circle cx="234.8" cy="160.3" r="1.4" fill="#1a1a1a" stroke="none" stroke-width="0.6"/>
<circle cx="236.4" cy="160.1" r="1.4" fill="#1a1a1a" stroke="none" stroke-width="0.6"/>
<circle cx="238.0" cy="159.9" r="1.4" fill="#1a1a1a" stroke="none" stroke-width="0.6"/>
<circle cx="239.5" cy="159.8" r="1.4" fill="#1a1a1a" stroke="none" stroke-width="0.6"/>
<circle cx="241.1" cy="159.6" r="1.4" fill="#1a1a1a" stroke="none" stroke-width="0.6"/>
<circle cx="242.7" cy="159.5" r="1.4" fill="#1a1a1a" stroke="none" stroke-width="0.6"/>
<circle cx="244.2" cy="159.4" r="1.4" fill="#1a1a1a" stroke="none" stroke-width="0.6"/>
<circle cx="245.8" cy="159.3" r="1.4" fill="#1a1a1a" stroke="none" stroke-width="0.6"/>
<circle cx="247.4" cy="159.1" r="1.4" fill="#1a1a1a" stroke="none" stroke-width="0.6"/>
<circle cx="248.9" cy="159.0" r="1.4" fill="#1a1a1a" stroke="none" stroke-width="0.6"/>
<circle cx="250.5" cy="158.9" r="1.4" fill="#1a1a1a" stroke="none" stroke-width="0.6"/>
<circle cx="253.0" cy="158.7" r="1.4" fill="#1a1a1a" stroke="none" stroke-width="0.6"/>
<circle cx="257.9" cy="158.3" r="1.4" fill="#1a1a1a" stroke="none" stroke-width="0.6"/>
<circle cx="262.8" cy="157.9" r="1.4" fill="#1a1a1a" stroke="none" stroke-width="0.6"/>
<circle cx="267.7" cy="157.5" r="1.4" fill="#1a1a1a" stroke="none" stroke-width="0.6"/>
<circle cx="272.6" cy="157.1" r="1.4" fill="#1a1a1a" stroke="none" stroke-width="0.6"/>
<circle cx="277.5" cy="156.8" r="1.4" fill="#1a1a1a" stroke="none" stroke-width="0.6"/>
<circle cx="282.4" cy="156.5" r="1.4" fill="#1a1a1a" stroke="none" stroke-width="0.6"/>
<circle cx="287.3" cy="156.1" r="1.4" fill="#1a1a1a" stroke="none" stroke-width="0.6"/>
<circle cx="292.2" cy="155.9" r="1.4" fill="#1a1a1a" stroke="none" stroke-width="0.6"/>
<circle cx="297.1" cy="155.6" r="1.4" fill="#1a1a1a" stroke="none" stroke-width="0.6"/>
<circle cx="302.0" cy="155.3" r="1.4" fill="#1a1a1a" stroke="none" stroke-width="0.6"/>
<circle cx="306.9" cy="155.0" r="1.4" fill="#1a1a1a" stroke="none" stroke-width="0.6"/>
<circle cx="311.8" cy="154.8" r="1.4" fill="#1a1a1a" stroke="none" stroke-width="0.6"/>
<circle cx="316.7" cy="154.5" r="1.4" fill="#1a1a1a" stroke="none" stroke-width="0.6"/>
<circle cx="321.6" cy="154.3" r="1.4" fill="#1a1a1a" stroke="none" stroke-width="0.6"/>
<circle cx="326.5" cy="154.2" r="1.4" fill="#1a1a1a" stroke="none" stroke-width="0.6"/>
<circle cx="170.6" cy="177.4" r="1.4" fill="#1a1a1a" stroke="none" stroke-width="0.6"/>
<circle cx="172.2" cy="177.2" r="1.4" fill="#1a1a1a" stroke="none" stroke-width="0.6"/>
<circle cx="173.7" cy="177.0" r="1.4" fill="#1a1a1a" stroke="none" stroke-width="0.6"/>
<circle cx="175.3" cy="176.7" r="1.4" fill="#1a1a1a" stroke="none" stroke-width="0.6"/>
<circle cx="176.9" cy="176.2" r="1.4" fill="#1a1a1a" stroke="none" stroke-width="0.6"/>
<circle cx="178.4" cy="175.8" r="1.4" fill="#1a1a1a" stroke="none" stroke-width="0.6"/>
<circle cx="180.0" cy="175.3" r="1.4" fill="#1a1a1a" stroke="none" stroke-width="0.6"/>
<circle cx="181.6" cy="174.8" r="1.4" fill="#1a1a1a" stroke="none" stroke-width="0.6"/>
<circle cx="183.1" cy="174.3" r="1.4" fill="#1a1a1a" stroke="none" stroke-width="0.6"/>
<circle cx="184.7" cy="173.7" r="1.4" fill="#1a1a1a" stroke="none" stroke-width="0.6"/>
<circle cx="186.3" cy="173.3" r="1.4" fill="#1a1a1a" stroke="none" stroke-width="0.6"/>
<circle cx="187.8" cy="172.8" r="1.4" fill="#1a1a1a" stroke="none" stroke-width="0.6"/>
<circle cx="189.4" cy="172.3" r="1.4" fill="#1a1a1a" stroke="none" stroke-width="0.6"/>
<circle cx="191.0" cy="171.8" r="1.4" fill="#1a1a1a" stroke="none" stroke-width="0.6"/>
<circle cx="192.5" cy="171.3" r="1.4" fill="#1a1a1a" stroke="none" stroke-width="0.6"/>
<circle cx="194.1" cy="170.9" r="1.4" fill="#1a1a1a" stroke="none" stroke-width="0.6"/>
<circle cx="195.7" cy="170.4" r="1.4" fill="#1a1a1a" stroke="none" stroke-width="0.6"/>
<circle cx="197.2" cy="169.9" r="1.4" fill="#1a1a1a" stroke="none" stroke-width="0.6"/>
<circle cx="198.8" cy="169.5" r="1.4" fill="#1a1a1a" stroke="none" stroke-width="0.6"/>
<circle cx="200.4" cy="169.0" r="1.4" fill="#1a1a1a" stroke="none" stroke-width="0.6"/>
<circle cx="201.9" cy="168.5" r="1.4" fill="#1a1a1a" stroke="none" stroke-width="0.6"/>
<circle cx="203.5" cy="168.0" r="1.4" fill="#1a1a1a" stroke="none" stroke-width="0.6"/>
<circle cx="205.1" cy="167.5" r="1.4" fill="#1a1a1a" stroke="none" stroke-width="0.6"/>
<circle cx="206.6" cy="166.9" r="1.4" fill="#1a1a1a" stroke="none" stroke-width="0.6"/>
<circle cx="208.2" cy="166.4" r="1.4" fill="#1a1a1a" stroke="none" stroke-width="0.6"/>
<circle cx="209.8" cy="165.9" r="1.4" fill="#1a1a1a" stroke="none" stroke-width="0.6"/>
<circle cx="211.3" cy="165.4" r="1.4" fill="#1a1a1a" stroke="none" stroke-width="0.6"/>
<circle cx="212.9" cy="165.0" r="1.4" fill="#1a1a1a" stroke="none" stroke-width="0.6"/>
<circle cx="214.5" cy="164.5" r="1.4" fill="#1a1a1a" stroke="none" stroke-width="0.6"/>
<circle cx="216.0" cy="164.1" r="1.4" fill="#1a1a1a" stroke="none" stroke-width="0.6"/>
<circle cx="217.6" cy="163.7" r="1.4" fill="#1a1a1a" stroke="none" stroke-width="0.6"/>
<circle cx="219.2" cy="163.3" r="1.4" fill="#1a1a1a" stroke="none" stroke-width="0.6"/>
<circle cx="220.7" cy="163.0" r="1.4" fill="#1a1a1a" stroke="none" stroke-width="0.6"/>
<circle cx="222.3" cy="162.6" r="1.4" fill="#1a1a1a" stroke="none" stroke-width="0.6"/>
<circle cx="223.9" cy="162.3" r="1.4" fill="#1a1a1a" stroke="none" stroke-width="0.6"/>
<circle cx="225.4" cy="162.1" r="1.4" fill="#1a1a1a" stroke="none" stroke-width="0.6"/>
<circle cx="227.0" cy="161.8" r="1.4" fill="#1a1a1a" stroke="none" stroke-width="0.6"/>
<circle cx="228.6" cy="161.6" r="1.4" fill="#1a1a1a" stroke="none" stroke-width="0.6"/>
<circle cx="230.1" cy="161.4" r="1.4" fill="#1a1a1a" stroke="none" stroke-width="0.6"/>
<circle cx="231.7" cy="161.2" r="1.4" fill="#1a1a1a" stroke="none" stroke-width="0.6"/>
<circle cx="233.3" cy="161.0" r="1.4" fill="#1a1a1a" stroke="none" stroke-width="0.6"/>
<circle cx="234.8" cy="160.8" r="1.4" fill="#1a1a1a" stroke="none" stroke-width="0.6"/>
<circle cx="236.4" cy="160.6" r="1.4" fill="#1a1a1a" stroke="none" stroke-width="0.6"/>
<circle cx="238.0" cy="160.4" r="1.4" fill="#1a1a1a" stroke="none" stroke-width="0.6"/>
<circle cx="239.5" cy="160.3" r="1.4" fill="#1a1a1a" stroke="none" stroke-width="0.6"/>
<circle cx="241.1" cy="160.1" r="1.4" fill="#1a1a1a" stroke="none" stroke-width="0.6"/>
<circle cx="242.7" cy="160.0" r="1.4" fill="#1a1a1a" stroke="none" stroke-width="0.6"/>
<circle cx="244.2" cy="159.8" r="1.4" fill="#1a1a1a" stroke="none" stroke-width="0.6"/>
<circle cx="245.8" cy="159.7" r="1.4" fill="#1a1a1a" stroke="none" stroke-width="0.6"/>
<circle cx="247.4" cy="159.5" r="1.4" fill="#1a1a1a" stroke="none" stroke-width="0.6"/>
<circle cx="248.9" cy="159.4" r="1.4" fill="#1a1a1a" stroke="none" stroke-width="0.6"/>
<circle cx="250.5" cy="159.3" r="1.4" fill="#1a1a1a" stroke="none" stroke-width="0.6"/>
<circle cx="253.0" cy="159.1" r="1.4" fill="#1a1a1a" stroke="none" stroke-width="0.6"/>
<circle cx="257.9" cy="158.7" r="1.4" fill="#1a1a1a" stroke="none" stroke-width="0.6"/>
<circle cx="262.8" cy="158.3" r="1.4" fill="#1a1a1a" stroke="none" stroke-width="0.6"/>
<circle cx="267.7" cy="157.9" r="1.4" fill="#1a1a1a" stroke="none" stroke-width="0.6"/>
<circle cx="272.6" cy="157.6" r="1.4" fill="#1a1a1a" stroke="none" stroke-width="0.6"/>
<circle cx="277.5" cy="157.4" r="1.4" fill="#1a1a1a" stroke="none" stroke-width="0.6"/>
<circle cx="282.4" cy="157.1" r="1.4" fill="#1a1a1a" stroke="none" stroke-width="0.6"/>
<circle cx="287.3" cy="156.9" r="1.4" fill="#1a1a1a" stroke="none" stroke-width="0.6"/>
<circle cx="292.2" cy="156.7" r="1.4" fill="#1a1a1a" stroke="none" stroke-width="0.6"/>
<circle cx="297.1" cy="156.5" r="1.4" fill="#1a1a1a" stroke="none" stroke-width="0.6"/>
<circle cx="302.0" cy="156.3" r="1.4" fill="#1a1a1a" stroke="none" stroke-width="0.6"/>
<circle cx="306.9" cy="156.2" r="1.4" fill="#1a1a1a" stroke="none" stroke-width="0.6"/>
<circle cx="311.8" cy="156.0" r="1.4" fill="#1a1a1a" stroke="none" stroke-width="0.6"/>
<circle cx="316.7" cy="155.8" r="1.4" fill="#1a1a1a" stroke="none" stroke-width="0.6"/>
<circle cx="321.6" cy="155.7" r="1.4" fill="#1a1a1a" stroke="none" stroke-width="0.6"/>
<circle cx="326.5" cy="155.6" r="1.4" fill="#1a1a1a" stroke="none" stroke-width="0.6"/>
<circle cx="170.6" cy="177.5" r="1.4" fill="#1a1a1a" stroke="none" stroke-width="0.6"/>
<circle cx="172.2" cy="177.5" r="1.4" fill="#1a1a1a" stroke="none" stroke-width="0.6"/>
<circle cx="173.7" cy="177.4" r="1.4" fill="#1a1a1a" stroke="none" stroke-width="0.6"/>
<circle cx="175.3" cy="177.2" r="1.4" fill="#1a1a1a" stroke="none" stroke-width="0.6"/>
<circle cx="176.9" cy="176.8" r="1.4" fill="#1a1a1a" stroke="none" stroke-width="0.6"/>
<circle cx="178.4" cy="176.4" r="1.4" fill="#1a1a1a" stroke="none" stroke-width="0.6"/>
<circle cx="180.0" cy="175.9" r="1.4" fill="#1a1a1a" stroke="none" stroke-width="0.6"/>
<circle cx="181.6" cy="175.4" r="1.4" fill="#1a1a1a" stroke="none" stroke-width="0.6"/>
<circle cx="183.1" cy="175.0" r="1.4" fill="#1a1a1a" stroke="none" stroke-width="0.6"/>
<circle cx="184.7" cy="174.5" r="1.4" fill="#1a1a1a" stroke="none" stroke-width="0.6"/>
<circle cx="186.3" cy="174.0" r="1.4" fill="#1a1a1a" stroke="none" stroke-width="0.6"/>
<circle cx="187.8" cy="173.6" r="1.4" fill="#1a1a1a" stroke="none" stroke-width="0.6"/>
<circle cx="189.4" cy="173.1" r="1.4" fill="#1a1a1a" stroke="none" stroke-width="0.6"/>
<circle cx="191.0" cy="172.7" r="1.4" fill="#1a1a1a" stroke="none" stroke-width="0.6"/>
<circle cx="192.5" cy="172.3" r="1.4" fill="#1a1a1a" stroke="none" stroke-width="0.6"/>
<circle cx="194.1" cy="171.8" r="1.4" fill="#1a1a1a" stroke="none" stroke-width="0.6"/>
<circle cx="195.7" cy="171.4" r="1.4" fill="#1a1a1a" stroke="none" stroke-width="0.6"/>
<circle cx="197.2" cy="170.9" r="1.4" fill="#1a1a1a" stroke="none" stroke-width="0.6"/>
<circle cx="198.8" cy="170.4" r="1.4" fill="#1a1a1a" stroke="none" stroke-width="0.6"/>
<circle cx="200.4" cy="169.9" r="1.4" fill="#1a1a1a" stroke="none" stroke-width="0.6"/>
<circle cx="201.9" cy="169.4" r="1.4" fill="#1a1a1a" stroke="none" stroke-width="0.6"/>
<circle cx="203.5" cy="168.9" r="1.4" fill="#1a1a1a" stroke="none" stroke-width="0.6"/>
<circle cx="205.1" cy="168.3" r="1.4" fill="#1a1a1a" stroke="none" stroke-width="0.6"/>
<circle cx="206.6" cy="167.8" r="1.4" fill="#1a1a1a" stroke="none" stroke-width="0.6"/>
<circle cx="208.2" cy="167.2" r="1.4" fill="#1a1a1a" stroke="none" stroke-width="0.6"/>
<circle cx="209.8" cy="166.7" r="1.4" fill="#1a1a1a" stroke="none" stroke-width="0.6"/>
<circle cx="211.3" cy="166.2" r="1.4" fill="#1a1a1a" stroke="none" stroke-width="0.6"/>
<circle cx="212.9" cy="165.7" r="1.4" fill="#1a1a1a" stroke="none" stroke-width="0.6"/>
<circle cx="214.5" cy="165.2" r="1.4" fill="#1a1a1a" stroke="none" stroke-width="0.6"/>
<circle cx="216.0" cy="164.7" r="1.4" fill="#1a1a1a" stroke="none" stroke-width="0.6"/>
<circle cx="217.6" cy="164.3" r="1.4" fill="#1a1a1a" stroke="none" stroke-width="0.6"/>
<circle cx="219.2" cy="163.9" r="1.4" fill="#1a1a1a" stroke="none" stroke-width="0.6"/>
<circle cx="220.7" cy="163.6" r="1.4" fill="#1a1a1a" stroke="none" stroke-width="0.6"/>
<circle cx="222.3" cy="163.2" r="1.4" fill="#1a1a1a" stroke="none" stroke-width="0.6"/>
<circle cx="223.9" cy="162.9" r="1.4" fill="#1a1a1a" stroke="none" stroke-width="0.6"/>
<circle cx="225.4" cy="162.6" r="1.4" fill="#1a1a1a" stroke="none" stroke-width="0.6"/>
<circle cx="227.0" cy="162.3" r="1.4" fill="#1a1a1a" stroke="none" stroke-width="0.6"/>
<circle cx="228.6" cy="162.1" r="1.4" fill="#1a1a1a" stroke="none" stroke-width="0.6"/>
<circle cx="230.1" cy="161.9" r="1.4" fill="#1a1a1a" stroke="none" stroke-width="0.6"/>
<circle cx="231.7" cy="161.7" r="1.4" fill="#1a1a1a" stroke="none" stroke-width="0.6"/>
<circle cx="233.3" cy="161.5" r="1.4" fill="#1a1a1a" stroke="none" stroke-width="0.6"/>
<circle cx="234.8" cy="161.3" r="1.4" fill="#1a1a1a" stroke="none" stroke-width="0.6"/>
<circle cx="236.4" cy="161.1" r="1.4" fill="#1a1a1a" stroke="none" stroke-width="0.6"/>
<circle cx="238.0" cy="160.9" r="1.4" fill="#1a1a1a" stroke="none" stroke-width="0.6"/>
<circle cx="239.5" cy="160.7" r="1.4" fill="#1a1a1a" stroke="none" stroke-width="0.6"/>
<circle cx="241.1" cy="160.6" r="1.4" fill="#1a1a1a" stroke="none" stroke-width="0.6"/>
<circle cx="242.7" cy="160.4" r="1.4" fill="#1a1a1a" stroke="none" stroke-width="0.6"/>
<circle cx="244.2" cy="160.2" r="1.4" fill="#1a1a1a" stroke="none" stroke-width="0.6"/>
<circle cx="245.8" cy="160.1" r="1.4" fill="#1a1a1a" stroke="none" stroke-width="0.6"/>
<circle cx="247.4" cy="159.9" r="1.4" fill="#1a1a1a" stroke="none" stroke-width="0.6"/>
<circle cx="248.9" cy="159.8" r="1.4" fill="#1a1a1a" stroke="none" stroke-width="0.6"/>
<circle cx="250.5" cy="159.7" r="1.4" fill="#1a1a1a" stroke="none" stroke-width="0.6"/>
<circle cx="253.0" cy="159.5" r="1.4" fill="#1a1a1a" stroke="none" stroke-width="0.6"/>
<circle cx="257.9" cy="159.1" r="1.4" fill="#1a1a1a" stroke="none" stroke-width="0.6"/>
<circle cx="262.8" cy="158.7" r="1.4" fill="#1a1a1a" stroke="none" stroke-width="0.6"/>
<circle cx="267.7" cy="158.3" r="1.4" fill="#1a1a1a" stroke="none" stroke-width="0.6"/>
<circle cx="272.6" cy="158.1" r="1.4" fill="#1a1a1a" stroke="none" stroke-width="0.6"/>
<circle cx="277.5" cy="157.9" r="1.4" fill="#1a1a1a" stroke="none" stroke-width="0.6"/>
<circle cx="282.4" cy="157.8" r="1.4" fill="#1a1a1a" stroke="none" stroke-width="0.6"/>
<circle cx="287.3" cy="157.6" r="1.4" fill="#1a1a1a" stroke="none" stroke-width="0.6"/>
<circle cx="292.2" cy="157.5" r="1.4" fill="#1a1a1a" stroke="none" stroke-width="0.6"/>
<circle cx="297.1" cy="157.4" r="1.4" fill="#1a1a1a" stroke="none" stroke-width="0.6"/>
<circle cx="302.0" cy="157.3" r="1.4" fill="#1a1a1a" stroke="none" stroke-width="0.6"/>
<circle cx="306.9" cy="157.2" r="1.4" fill="#1a1a1a" stroke="none" stroke-width="0.6"/>
<circle cx="311.8" cy="157.1" r="1.4" fill="#1a1a1a" stroke="none" stroke-width="0.6"/>
<circle cx="316.7" cy="157.0" r="1.4" fill="#1a1a1a" stroke="none" stroke-width="0.6"/>
<circle cx="321.6" cy="157.0" r="1.4" fill="#1a1a1a" stroke="none" stroke-width="0.6"/>
<circle cx="326.5" cy="157.0" r="1.4" fill="#1a1a1a" stroke="none" stroke-width="0.6"/>
<path d="M172.0 177.1 l1.7 -1.7 l1.7 1.7 l-1.7 1.7 z" fill="#2a2a2a"/>
<circle cx="173.7" cy="177.1" r="0.5" fill="#999" stroke="none" stroke-width="0.6"/>
<path d="M173.6 176.8 l1.7 -1.7 l1.7 1.7 l-1.7 1.7 z" fill="#2a2a2a"/>
<circle cx="175.3" cy="176.8" r="0.5" fill="#999" stroke="none" stroke-width="0.6"/>
<path d="M175.2 176.5 l1.7 -1.7 l1.7 1.7 l-1.7 1.7 z" fill="#2a2a2a"/>
<circle cx="176.9" cy="176.5" r="0.5" fill="#999" stroke="none" stroke-width="0.6"/>
<path d="M176.7 176.2 l1.7 -1.7 l1.7 1.7 l-1.7 1.7 z" fill="#2a2a2a"/>
<circle cx="178.4" cy="176.2" r="0.5" fill="#999" stroke="none" stroke-width="0.6"/>
<path d="M178.3 175.8 l1.7 -1.7 l1.7 1.7 l-1.7 1.7 z" fill="#2a2a2a"/>
<circle cx="180.0" cy="175.8" r="0.5" fill="#999" stroke="none" stroke-width="0.6"/>
<path d="M179.9 175.4 l1.7 -1.7 l1.7 1.7 l-1.7 1.7 z" fill="#2a2a2a"/>
<circle cx="181.6" cy="175.4" r="0.5" fill="#999" stroke="none" stroke-width="0.6"/>
<path d="M181.4 175.1 l1.7 -1.7 l1.7 1.7 l-1.7 1.7 z" fill="#2a2a2a"/>
<circle cx="183.1" cy="175.1" r="0.5" fill="#999" stroke="none" stroke-width="0.6"/>
<path d="M183.0 174.7 l1.7 -1.7 l1.7 1.7 l-1.7 1.7 z" fill="#2a2a2a"/>
<circle cx="184.7" cy="174.7" r="0.5" fill="#999" stroke="none" stroke-width="0.6"/>
<path d="M184.6 174.4 l1.7 -1.7 l1.7 1.7 l-1.7 1.7 z" fill="#2a2a2a"/>
<circle cx="186.3" cy="174.4" r="0.5" fill="#999" stroke="none" stroke-width="0.6"/>
<path d="M186.1 174.0 l1.7 -1.7 l1.7 1.7 l-1.7 1.7 z" fill="#2a2a2a"/>
<circle cx="187.8" cy="174.0" r="0.5" fill="#999" stroke="none" stroke-width="0.6"/>
<path d="M187.7 173.7 l1.7 -1.7 l1.7 1.7 l-1.7 1.7 z" fill="#2a2a2a"/>
<circle cx="189.4" cy="173.7" r="0.5" fill="#999" stroke="none" stroke-width="0.6"/>
<path d="M189.3 173.3 l1.7 -1.7 l1.7 1.7 l-1.7 1.7 z" fill="#2a2a2a"/>
<circle cx="191.0" cy="173.3" r="0.5" fill="#999" stroke="none" stroke-width="0.6"/>
<path d="M190.8 173.0 l1.7 -1.7 l1.7 1.7 l-1.7 1.7 z" fill="#2a2a2a"/>
<circle cx="192.5" cy="173.0" r="0.5" fill="#999" stroke="none" stroke-width="0.6"/>
<path d="M192.4 172.7 l1.7 -1.7 l1.7 1.7 l-1.7 1.7 z" fill="#2a2a2a"/>
<circle cx="194.1" cy="172.7" r="0.5" fill="#999" stroke="none" stroke-width="0.6"/>
<path d="M194.0 172.4 l1.7 -1.7 l1.7 1.7 l-1.7 1.7 z" fill="#2a2a2a"/>
<circle cx="195.7" cy="172.4" r="0.5" fill="#999" stroke="none" stroke-width="0.6"/>
<path d="M195.5 172.2 l1.7 -1.7 l1.7 1.7 l-1.7 1.7 z" fill="#2a2a2a"/>
<circle cx="197.2" cy="172.2" r="0.5" fill="#999" stroke="none" stroke-width="0.6"/>
<path d="M197.1 171.9 l1.7 -1.7 l1.7 1.7 l-1.7 1.7 z" fill="#2a2a2a"/>
<circle cx="198.8" cy="171.9" r="0.5" fill="#999" stroke="none" stroke-width="0.6"/>
<path d="M198.7 171.7 l1.7 -1.7 l1.7 1.7 l-1.7 1.7 z" fill="#2a2a2a"/>
<circle cx="200.4" cy="171.7" r="0.5" fill="#999" stroke="none" stroke-width="0.6"/>
<path d="M200.2 171.5 l1.7 -1.7 l1.7 1.7 l-1.7 1.7 z" fill="#2a2a2a"/>
<circle cx="201.9" cy="171.5" r="0.5" fill="#999" stroke="none" stroke-width="0.6"/>
<path d="M201.8 171.3 l1.7 -1.7 l1.7 1.7 l-1.7 1.7 z" fill="#2a2a2a"/>
<circle cx="203.5" cy="171.3" r="0.5" fill="#999" stroke="none" stroke-width="0.6"/>
<path d="M203.4 171.1 l1.7 -1.7 l1.7 1.7 l-1.7 1.7 z" fill="#2a2a2a"/>
<circle cx="205.1" cy="171.1" r="0.5" fill="#999" stroke="none" stroke-width="0.6"/>
<path d="M204.9 170.9 l1.7 -1.7 l1.7 1.7 l-1.7 1.7 z" fill="#2a2a2a"/>
<circle cx="206.6" cy="170.9" r="0.5" fill="#999" stroke="none" stroke-width="0.6"/>
<path d="M206.5 170.8 l1.7 -1.7 l1.7 1.7 l-1.7 1.7 z" fill="#2a2a2a"/>
<circle cx="208.2" cy="170.8" r="0.5" fill="#999" stroke="none" stroke-width="0.6"/>
<path d="M208.1 170.6 l1.7 -1.7 l1.7 1.7 l-1.7 1.7 z" fill="#2a2a2a"/>
<circle cx="209.8" cy="170.6" r="0.5" fill="#999" stroke="none" stroke-width="0.6"/>
<path d="M209.6 170.5 l1.7 -1.7 l1.7 1.7 l-1.7 1.7 z" fill="#2a2a2a"/>
<circle cx="211.3" cy="170.5" r="0.5" fill="#999" stroke="none" stroke-width="0.6"/>
<path d="M211.2 170.3 l1.7 -1.7 l1.7 1.7 l-1.7 1.7 z" fill="#2a2a2a"/>
<circle cx="212.9" cy="170.3" r="0.5" fill="#999" stroke="none" stroke-width="0.6"/>
<path d="M212.8 170.2 l1.7 -1.7 l1.7 1.7 l-1.7 1.7 z" fill="#2a2a2a"/>
<circle cx="214.5" cy="170.2" r="0.5" fill="#999" stroke="none" stroke-width="0.6"/>
<path d="M214.3 170.1 l1.7 -1.7 l1.7 1.7 l-1.7 1.7 z" fill="#2a2a2a"/>
<circle cx="216.0" cy="170.1" r="0.5" fill="#999" stroke="none" stroke-width="0.6"/>
<path d="M215.9 169.9 l1.7 -1.7 l1.7 1.7 l-1.7 1.7 z" fill="#2a2a2a"/>
<circle cx="217.6" cy="169.9" r="0.5" fill="#999" stroke="none" stroke-width="0.6"/>
<path d="M217.5 169.8 l1.7 -1.7 l1.7 1.7 l-1.7 1.7 z" fill="#2a2a2a"/>
<circle cx="219.2" cy="169.8" r="0.5" fill="#999" stroke="none" stroke-width="0.6"/>
<path d="M219.0 169.7 l1.7 -1.7 l1.7 1.7 l-1.7 1.7 z" fill="#2a2a2a"/>
<circle cx="220.7" cy="169.7" r="0.5" fill="#999" stroke="none" stroke-width="0.6"/>
<path d="M220.6 169.6 l1.7 -1.7 l1.7 1.7 l-1.7 1.7 z" fill="#2a2a2a"/>
<circle cx="222.3" cy="169.6" r="0.5" fill="#999" stroke="none" stroke-width="0.6"/>
<path d="M222.2 169.5 l1.7 -1.7 l1.7 1.7 l-1.7 1.7 z" fill="#2a2a2a"/>
<circle cx="223.9" cy="169.5" r="0.5" fill="#999" stroke="none" stroke-width="0.6"/>
<path d="M223.7 169.4 l1.7 -1.7 l1.7 1.7 l-1.7 1.7 z" fill="#2a2a2a"/>
<circle cx="225.4" cy="169.4" r="0.5" fill="#999" stroke="none" stroke-width="0.6"/>
<path d="M225.3 169.3 l1.7 -1.7 l1.7 1.7 l-1.7 1.7 z" fill="#2a2a2a"/>
<circle cx="227.0" cy="169.3" r="0.5" fill="#999" stroke="none" stroke-width="0.6"/>
<path d="M226.9 169.2 l1.7 -1.7 l1.7 1.7 l-1.7 1.7 z" fill="#2a2a2a"/>
<circle cx="228.6" cy="169.2" r="0.5" fill="#999" stroke="none" stroke-width="0.6"/>
<path d="M228.4 169.1 l1.7 -1.7 l1.7 1.7 l-1.7 1.7 z" fill="#2a2a2a"/>
<circle cx="230.1" cy="169.1" r="0.5" fill="#999" stroke="none" stroke-width="0.6"/>
<path d="M230.0 169.0 l1.7 -1.7 l1.7 1.7 l-1.7 1.7 z" fill="#2a2a2a"/>
<circle cx="231.7" cy="169.0" r="0.5" fill="#999" stroke="none" stroke-width="0.6"/>
<path d="M231.6 168.9 l1.7 -1.7 l1.7 1.7 l-1.7 1.7 z" fill="#2a2a2a"/>
<circle cx="233.3" cy="168.9" r="0.5" fill="#999" stroke="none" stroke-width="0.6"/>
<path d="M233.1 168.8 l1.7 -1.7 l1.7 1.7 l-1.7 1.7 z" fill="#2a2a2a"/>
<circle cx="234.8" cy="168.8" r="0.5" fill="#999" stroke="none" stroke-width="0.6"/>
<path d="M234.7 168.7 l1.7 -1.7 l1.7 1.7 l-1.7 1.7 z" fill="#2a2a2a"/>
<circle cx="236.4" cy="168.7" r="0.5" fill="#999" stroke="none" stroke-width="0.6"/>
<path d="M236.3 168.7 l1.7 -1.7 l1.7 1.7 l-1.7 1.7 z" fill="#2a2a2a"/>
<circle cx="238.0" cy="168.7" r="0.5" fill="#999" stroke="none" stroke-width="0.6"/>
<path d="M237.8 168.6 l1.7 -1.7 l1.7 1.7 l-1.7 1.7 z" fill="#2a2a2a"/>
<circle cx="239.5" cy="168.6" r="0.5" fill="#999" stroke="none" stroke-width="0.6"/>
<path d="M239.4 168.5 l1.7 -1.7 l1.7 1.7 l-1.7 1.7 z" fill="#2a2a2a"/>
<circle cx="241.1" cy="168.5" r="0.5" fill="#999" stroke="none" stroke-width="0.6"/>
<path d="M241.0 168.5 l1.7 -1.7 l1.7 1.7 l-1.7 1.7 z" fill="#2a2a2a"/>
<circle cx="242.7" cy="168.5" r="0.5" fill="#999" stroke="none" stroke-width="0.6"/>
<path d="M242.5 168.5 l1.7 -1.7 l1.7 1.7 l-1.7 1.7 z" fill="#2a2a2a"/>
<circle cx="244.2" cy="168.5" r="0.5" fill="#999" stroke="none" stroke-width="0.6"/>
<path d="M244.1 168.4 l1.7 -1.7 l1.7 1.7 l-1.7 1.7 z" fill="#2a2a2a"/>
<circle cx="245.8" cy="168.4" r="0.5" fill="#999" stroke="none" stroke-width="0.6"/>
<path d="M245.7 168.4 l1.7 -1.7 l1.7 1.7 l-1.7 1.7 z" fill="#2a2a2a"/>
<circle cx="247.4" cy="168.4" r="0.5" fill="#999" stroke="none" stroke-width="0.6"/>
<path d="M247.2 168.3 l1.7 -1.7 l1.7 1.7 l-1.7 1.7 z" fill="#2a2a2a"/>
<circle cx="248.9" cy="168.3" r="0.5" fill="#999" stroke="none" stroke-width="0.6"/>
<path d="M248.8 168.3 l1.7 -1.7 l1.7 1.7 l-1.7 1.7 z" fill="#2a2a2a"/>
<circle cx="250.5" cy="168.3" r="0.5" fill="#999" stroke="none" stroke-width="0.6"/>
<path d="M251.3 168.3 l1.7 -1.7 l1.7 1.7 l-1.7 1.7 z" fill="#2a2a2a"/>
<circle cx="253.0" cy="168.3" r="0.5" fill="#999" stroke="none" stroke-width="0.6"/>
<path d="M256.2 168.3 l1.7 -1.7 l1.7 1.7 l-1.7 1.7 z" fill="#2a2a2a"/>
<circle cx="257.9" cy="168.3" r="0.5" fill="#999" stroke="none" stroke-width="0.6"/>
<path d="M261.1 168.2 l1.7 -1.7 l1.7 1.7 l-1.7 1.7 z" fill="#2a2a2a"/>
<circle cx="262.8" cy="168.2" r="0.5" fill="#999" stroke="none" stroke-width="0.6"/>
<path d="M266.0 168.2 l1.7 -1.7 l1.7 1.7 l-1.7 1.7 z" fill="#2a2a2a"/>
<circle cx="267.7" cy="168.2" r="0.5" fill="#999" stroke="none" stroke-width="0.6"/>
<path d="M270.9 168.2 l1.7 -1.7 l1.7 1.7 l-1.7 1.7 z" fill="#2a2a2a"/>
<circle cx="272.6" cy="168.2" r="0.5" fill="#999" stroke="none" stroke-width="0.6"/>
<path d="M275.8 168.2 l1.7 -1.7 l1.7 1.7 l-1.7 1.7 z" fill="#2a2a2a"/>
<circle cx="277.5" cy="168.2" r="0.5" fill="#999" stroke="none" stroke-width="0.6"/>
<path d="M280.7 168.2 l1.7 -1.7 l1.7 1.7 l-1.7 1.7 z" fill="#2a2a2a"/>
<circle cx="282.4" cy="168.2" r="0.5" fill="#999" stroke="none" stroke-width="0.6"/>
<path d="M285.6 168.2 l1.7 -1.7 l1.7 1.7 l-1.7 1.7 z" fill="#2a2a2a"/>
<circle cx="287.3" cy="168.2" r="0.5" fill="#999" stroke="none" stroke-width="0.6"/>
<path d="M290.5 168.1 l1.7 -1.7 l1.7 1.7 l-1.7 1.7 z" fill="#2a2a2a"/>
<circle cx="292.2" cy="168.1" r="0.5" fill="#999" stroke="none" stroke-width="0.6"/>
<path d="M295.4 168.1 l1.7 -1.7 l1.7 1.7 l-1.7 1.7 z" fill="#2a2a2a"/>
<circle cx="297.1" cy="168.1" r="0.5" fill="#999" stroke="none" stroke-width="0.6"/>
<path d="M300.3 168.1 l1.7 -1.7 l1.7 1.7 l-1.7 1.7 z" fill="#2a2a2a"/>
<circle cx="302.0" cy="168.1" r="0.5" fill="#999" stroke="none" stroke-width="0.6"/>
<path d="M305.2 168.1 l1.7 -1.7 l1.7 1.7 l-1.7 1.7 z" fill="#2a2a2a"/>
<circle cx="306.9" cy="168.1" r="0.5" fill="#999" stroke="none" stroke-width="0.6"/>
<path d="M310.1 168.1 l1.7 -1.7 l1.7 1.7 l-1.7 1.7 z" fill="#2a2a2a"/>
<circle cx="311.8" cy="168.1" r="0.5" fill="#999" stroke="none" stroke-width="0.6"/>
<path d="M315.0 168.1 l1.7 -1.7 l1.7 1.7 l-1.7 1.7 z" fill="#2a2a2a"/>
<circle cx="316.7" cy="168.1" r="0.5" fill="#999" stroke="none" stroke-width="0.6"/>
<path d="M319.9 168.0 l1.7 -1.7 l1.7 1.7 l-1.7 1.7 z" fill="#2a2a2a"/>
<circle cx="321.6" cy="168.0" r="0.5" fill="#999" stroke="none" stroke-width="0.6"/>
<path d="M324.8 168.0 l1.7 -1.7 l1.7 1.7 l-1.7 1.7 z" fill="#2a2a2a"/>
<circle cx="326.5" cy="168.0" r="0.5" fill="#999" stroke="none" stroke-width="0.6"/>
<line x1="170.1" y1="221.1" x2="170.1" y2="178.5" stroke="#8a8a8a" stroke-width="1.7"/>
<circle cx="170.3" cy="221.1" r="2.0" fill="#111" stroke="none" stroke-width="0.6"/>
<line x1="176.4" y1="190.3" x2="172.8" y2="180.8" stroke="#111" stroke-width="0.6"/>
<path d="M172.2 179.6 L171.9 183.2 L174.3 182.2 Z" fill="#111"/>
<text x="174.6" y="196.6" font-size="6.6" text-anchor="start" font-weight="normal" fill="#111" stroke="#111" stroke-width="0.11">addition of DQ-OVA</text>
<line x1="280.7" y1="201.3" x2="290.5" y2="201.3" stroke="#222" stroke-width="0.8"/>
<path d="M284.1 201.3 l1.5 -1.5 l1.5 1.5 l-1.5 1.5 z" fill="#222"/>
<text x="292.4" y="203.7" font-size="6.6" text-anchor="start" font-weight="normal" fill="#111" stroke="#111" stroke-width="0.11">no cells</text>
<line x1="280.7" y1="206.9" x2="290.5" y2="206.9" stroke="#888" stroke-width="0.8"/>
<circle cx="285.6" cy="206.9" r="1.3" fill="#777" stroke="none" stroke-width="0.6"/>
<text x="292.4" y="209.3" font-size="6.6" text-anchor="start" font-weight="normal" fill="#111" stroke="#111" stroke-width="0.11">C57BL/6#1</text>
<line x1="280.7" y1="212.4" x2="290.5" y2="212.4" stroke="#aaa" stroke-width="0.8"/>
<circle cx="285.6" cy="212.4" r="1.3" fill="#999" stroke="none" stroke-width="0.6"/>
<text x="292.4" y="214.8" font-size="6.6" text-anchor="start" font-weight="normal" fill="#111" stroke="#111" stroke-width="0.11">C57BL/6#2</text>
<line x1="280.7" y1="218.0" x2="290.5" y2="218.0" stroke="#222" stroke-width="0.8"/>
<circle cx="285.6" cy="218.0" r="1.3" fill="#222" stroke="none" stroke-width="0.6"/>
<text x="292.4" y="220.4" font-size="6.6" text-anchor="start" font-weight="normal" fill="#111" stroke="#111" stroke-width="0.11">WAS KO#1</text>
<line x1="280.7" y1="223.6" x2="290.5" y2="223.6" stroke="#222" stroke-width="0.8"/>
<path d="M284.1 223.6 l1.5 -1.5 l1.5 1.5 l-1.5 1.5 z" fill="#fff" stroke="#111" stroke-width="0.6"/>
<text x="292.4" y="226.0" font-size="6.6" text-anchor="start" font-weight="normal" fill="#111" stroke="#111" stroke-width="0.11">WAS KO#2</text>
<text x="336.4" y="14.5" font-size="14.6" text-anchor="start" font-weight="bold" fill="#000">C</text>
<text x="390.4" y="18.0" font-size="8.2" text-anchor="middle" font-weight="normal" fill="#111" stroke="#111" stroke-width="0.05">C57BL/6</text>
<text x="469.3" y="18.0" font-size="8.2" text-anchor="middle" font-weight="normal" fill="#111" stroke="#111" stroke-width="0.05">WAS KO</text>
<rect x="357.5" y="19.3" width="65.7" height="65.5" fill="none" stroke="#333" stroke-width="0.8"/>
<line x1="357.5" y1="19.3" x2="357.5" y2="84.8" stroke="#111" stroke-width="0.8"/>
<line x1="356.2" y1="84.8" x2="357.5" y2="84.8" stroke="#222" stroke-width="0.4"/>
<text x="355.7" y="85.8" font-size="2.8" text-anchor="end" font-weight="normal" fill="#333" stroke="#333" stroke-width="0.18">0</text>
<line x1="356.8" y1="82.3" x2="357.5" y2="82.3" stroke="#333" stroke-width="0.3"/>
<line x1="356.8" y1="79.9" x2="357.5" y2="79.9" stroke="#333" stroke-width="0.3"/>
<line x1="356.8" y1="77.4" x2="357.5" y2="77.4" stroke="#333" stroke-width="0.3"/>
<line x1="356.8" y1="74.9" x2="357.5" y2="74.9" stroke="#333" stroke-width="0.3"/>
<line x1="356.2" y1="72.4" x2="357.5" y2="72.4" stroke="#222" stroke-width="0.4"/>
<text x="355.7" y="73.4" font-size="2.8" text-anchor="end" font-weight="normal" fill="#333" stroke="#333" stroke-width="0.18">20</text>
<line x1="356.8" y1="70.0" x2="357.5" y2="70.0" stroke="#333" stroke-width="0.3"/>
<line x1="356.8" y1="67.5" x2="357.5" y2="67.5" stroke="#333" stroke-width="0.3"/>
<line x1="356.8" y1="65.0" x2="357.5" y2="65.0" stroke="#333" stroke-width="0.3"/>
<line x1="356.8" y1="62.6" x2="357.5" y2="62.6" stroke="#333" stroke-width="0.3"/>
<line x1="356.2" y1="60.1" x2="357.5" y2="60.1" stroke="#222" stroke-width="0.4"/>
<text x="355.7" y="61.1" font-size="2.8" text-anchor="end" font-weight="normal" fill="#333" stroke="#333" stroke-width="0.18">40</text>
<line x1="356.8" y1="57.6" x2="357.5" y2="57.6" stroke="#333" stroke-width="0.3"/>
<line x1="356.8" y1="55.1" x2="357.5" y2="55.1" stroke="#333" stroke-width="0.3"/>
<line x1="356.8" y1="52.7" x2="357.5" y2="52.7" stroke="#333" stroke-width="0.3"/>
<line x1="356.8" y1="50.2" x2="357.5" y2="50.2" stroke="#333" stroke-width="0.3"/>
<line x1="356.2" y1="47.7" x2="357.5" y2="47.7" stroke="#222" stroke-width="0.4"/>
<text x="355.7" y="48.7" font-size="2.8" text-anchor="end" font-weight="normal" fill="#333" stroke="#333" stroke-width="0.18">60</text>
<line x1="356.8" y1="45.2" x2="357.5" y2="45.2" stroke="#333" stroke-width="0.3"/>
<line x1="356.8" y1="42.8" x2="357.5" y2="42.8" stroke="#333" stroke-width="0.3"/>
<line x1="356.8" y1="40.3" x2="357.5" y2="40.3" stroke="#333" stroke-width="0.3"/>
<line x1="356.8" y1="37.8" x2="357.5" y2="37.8" stroke="#333" stroke-width="0.3"/>
<line x1="356.2" y1="35.4" x2="357.5" y2="35.4" stroke="#222" stroke-width="0.4"/>
<text x="355.7" y="36.4" font-size="2.8" text-anchor="end" font-weight="normal" fill="#333" stroke="#333" stroke-width="0.18">80</text>
<line x1="356.8" y1="32.9" x2="357.5" y2="32.9" stroke="#333" stroke-width="0.3"/>
<line x1="356.8" y1="30.4" x2="357.5" y2="30.4" stroke="#333" stroke-width="0.3"/>
<line x1="356.8" y1="27.9" x2="357.5" y2="27.9" stroke="#333" stroke-width="0.3"/>
<line x1="356.8" y1="25.5" x2="357.5" y2="25.5" stroke="#333" stroke-width="0.3"/>
<line x1="356.2" y1="23.0" x2="357.5" y2="23.0" stroke="#222" stroke-width="0.4"/>
<text x="355.7" y="24.0" font-size="2.8" text-anchor="end" font-weight="normal" fill="#333" stroke="#333" stroke-width="0.18">100</text>
<line x1="360.0" y1="84.8" x2="360.0" y2="86.1" stroke="#222" stroke-width="0.4"/>
<text x="361.0" y="91.2" font-size="3.2" text-anchor="middle">10<tspan font-size="1.9" dy="-1.3">0</tspan></text>
<line x1="364.5" y1="84.8" x2="364.5" y2="85.5" stroke="#333" stroke-width="0.3"/>
<line x1="367.1" y1="84.8" x2="367.1" y2="85.5" stroke="#333" stroke-width="0.3"/>
<line x1="368.9" y1="84.8" x2="368.9" y2="85.5" stroke="#333" stroke-width="0.3"/>
<line x1="370.3" y1="84.8" x2="370.3" y2="85.5" stroke="#333" stroke-width="0.3"/>
<line x1="371.5" y1="84.8" x2="371.5" y2="85.5" stroke="#333" stroke-width="0.3"/>
<line x1="372.5" y1="84.8" x2="372.5" y2="85.5" stroke="#333" stroke-width="0.3"/>
<line x1="373.4" y1="84.8" x2="373.4" y2="85.5" stroke="#333" stroke-width="0.3"/>
<line x1="374.1" y1="84.8" x2="374.1" y2="85.5" stroke="#333" stroke-width="0.3"/>
<line x1="374.8" y1="84.8" x2="374.8" y2="86.1" stroke="#222" stroke-width="0.4"/>
<text x="375.8" y="91.2" font-size="3.2" text-anchor="middle">10<tspan font-size="1.9" dy="-1.3">1</tspan></text>
<line x1="379.3" y1="84.8" x2="379.3" y2="85.5" stroke="#333" stroke-width="0.3"/>
<line x1="381.9" y1="84.8" x2="381.9" y2="85.5" stroke="#333" stroke-width="0.3"/>
<line x1="383.7" y1="84.8" x2="383.7" y2="85.5" stroke="#333" stroke-width="0.3"/>
<line x1="385.1" y1="84.8" x2="385.1" y2="85.5" stroke="#333" stroke-width="0.3"/>
<line x1="386.3" y1="84.8" x2="386.3" y2="85.5" stroke="#333" stroke-width="0.3"/>
<line x1="387.3" y1="84.8" x2="387.3" y2="85.5" stroke="#333" stroke-width="0.3"/>
<line x1="388.2" y1="84.8" x2="388.2" y2="85.5" stroke="#333" stroke-width="0.3"/>
<line x1="388.9" y1="84.8" x2="388.9" y2="85.5" stroke="#333" stroke-width="0.3"/>
<line x1="389.6" y1="84.8" x2="389.6" y2="86.1" stroke="#222" stroke-width="0.4"/>
<text x="390.6" y="91.2" font-size="3.2" text-anchor="middle">10<tspan font-size="1.9" dy="-1.3">2</tspan></text>
<line x1="394.1" y1="84.8" x2="394.1" y2="85.5" stroke="#333" stroke-width="0.3"/>
<line x1="396.7" y1="84.8" x2="396.7" y2="85.5" stroke="#333" stroke-width="0.3"/>
<line x1="398.5" y1="84.8" x2="398.5" y2="85.5" stroke="#333" stroke-width="0.3"/>
<line x1="399.9" y1="84.8" x2="399.9" y2="85.5" stroke="#333" stroke-width="0.3"/>
<line x1="401.1" y1="84.8" x2="401.1" y2="85.5" stroke="#333" stroke-width="0.3"/>
<line x1="402.1" y1="84.8" x2="402.1" y2="85.5" stroke="#333" stroke-width="0.3"/>
<line x1="403.0" y1="84.8" x2="403.0" y2="85.5" stroke="#333" stroke-width="0.3"/>
<line x1="403.7" y1="84.8" x2="403.7" y2="85.5" stroke="#333" stroke-width="0.3"/>
<line x1="404.4" y1="84.8" x2="404.4" y2="86.1" stroke="#222" stroke-width="0.4"/>
<text x="405.4" y="91.2" font-size="3.2" text-anchor="middle">10<tspan font-size="1.9" dy="-1.3">3</tspan></text>
<line x1="408.9" y1="84.8" x2="408.9" y2="85.5" stroke="#333" stroke-width="0.3"/>
<line x1="411.5" y1="84.8" x2="411.5" y2="85.5" stroke="#333" stroke-width="0.3"/>
<line x1="413.3" y1="84.8" x2="413.3" y2="85.5" stroke="#333" stroke-width="0.3"/>
<line x1="414.7" y1="84.8" x2="414.7" y2="85.5" stroke="#333" stroke-width="0.3"/>
<line x1="415.9" y1="84.8" x2="415.9" y2="85.5" stroke="#333" stroke-width="0.3"/>
<line x1="416.9" y1="84.8" x2="416.9" y2="85.5" stroke="#333" stroke-width="0.3"/>
<line x1="417.8" y1="84.8" x2="417.8" y2="85.5" stroke="#333" stroke-width="0.3"/>
<line x1="418.5" y1="84.8" x2="418.5" y2="85.5" stroke="#333" stroke-width="0.3"/>
<line x1="419.2" y1="84.8" x2="419.2" y2="86.1" stroke="#222" stroke-width="0.4"/>
<text x="420.2" y="91.2" font-size="3.2" text-anchor="middle">10<tspan font-size="1.9" dy="-1.3">4</tspan></text>
<line x1="358.3" y1="26.1" x2="395.4" y2="26.1" stroke="#333" stroke-width="0.6"/>
<line x1="358.3" y1="24.9" x2="358.3" y2="27.3" stroke="#333" stroke-width="0.6"/>
<line x1="395.4" y1="24.9" x2="395.4" y2="27.3" stroke="#333" stroke-width="0.6"/>
<text x="375.9" y="25.1" font-size="5.6" text-anchor="middle" font-weight="normal" fill="#222" stroke="#222" stroke-width="0.14">3.5%</text>
<path d="M358.0 84.8 L358.0 84.6 L370.0 84.4 L390.5 84.3 L394.0 82.6 L396.6 75.2 L398.3 60.4 L400.5 36.2 L401.8 24.7 L403.2 36.2 L405.1 60.4 L406.8 79.3 L408.8 83.3 L414.2 84.4 L422.0 84.6 L422.0 84.8 Z" fill="#d0d0d0" stroke="#2a2a2a" stroke-width="0.85" stroke-linejoin="round"/>
<rect x="436.4" y="19.3" width="65.1" height="65.5" fill="none" stroke="#333" stroke-width="0.8"/>
<line x1="436.4" y1="19.3" x2="436.4" y2="84.8" stroke="#111" stroke-width="0.8"/>
<line x1="435.1" y1="84.8" x2="436.4" y2="84.8" stroke="#222" stroke-width="0.4"/>
<text x="434.6" y="85.8" font-size="2.8" text-anchor="end" font-weight="normal" fill="#333" stroke="#333" stroke-width="0.18">0</text>
<line x1="435.7" y1="82.3" x2="436.4" y2="82.3" stroke="#333" stroke-width="0.3"/>
<line x1="435.7" y1="79.9" x2="436.4" y2="79.9" stroke="#333" stroke-width="0.3"/>
<line x1="435.7" y1="77.4" x2="436.4" y2="77.4" stroke="#333" stroke-width="0.3"/>
<line x1="435.7" y1="74.9" x2="436.4" y2="74.9" stroke="#333" stroke-width="0.3"/>
<line x1="435.1" y1="72.4" x2="436.4" y2="72.4" stroke="#222" stroke-width="0.4"/>
<text x="434.6" y="73.4" font-size="2.8" text-anchor="end" font-weight="normal" fill="#333" stroke="#333" stroke-width="0.18">20</text>
<line x1="435.7" y1="70.0" x2="436.4" y2="70.0" stroke="#333" stroke-width="0.3"/>
<line x1="435.7" y1="67.5" x2="436.4" y2="67.5" stroke="#333" stroke-width="0.3"/>
<line x1="435.7" y1="65.0" x2="436.4" y2="65.0" stroke="#333" stroke-width="0.3"/>
<line x1="435.7" y1="62.6" x2="436.4" y2="62.6" stroke="#333" stroke-width="0.3"/>
<line x1="435.1" y1="60.1" x2="436.4" y2="60.1" stroke="#222" stroke-width="0.4"/>
<text x="434.6" y="61.1" font-size="2.8" text-anchor="end" font-weight="normal" fill="#333" stroke="#333" stroke-width="0.18">40</text>
<line x1="435.7" y1="57.6" x2="436.4" y2="57.6" stroke="#333" stroke-width="0.3"/>
<line x1="435.7" y1="55.1" x2="436.4" y2="55.1" stroke="#333" stroke-width="0.3"/>
<line x1="435.7" y1="52.7" x2="436.4" y2="52.7" stroke="#333" stroke-width="0.3"/>
<line x1="435.7" y1="50.2" x2="436.4" y2="50.2" stroke="#333" stroke-width="0.3"/>
<line x1="435.1" y1="47.7" x2="436.4" y2="47.7" stroke="#222" stroke-width="0.4"/>
<text x="434.6" y="48.7" font-size="2.8" text-anchor="end" font-weight="normal" fill="#333" stroke="#333" stroke-width="0.18">60</text>
<line x1="435.7" y1="45.2" x2="436.4" y2="45.2" stroke="#333" stroke-width="0.3"/>
<line x1="435.7" y1="42.8" x2="436.4" y2="42.8" stroke="#333" stroke-width="0.3"/>
<line x1="435.7" y1="40.3" x2="436.4" y2="40.3" stroke="#333" stroke-width="0.3"/>
<line x1="435.7" y1="37.8" x2="436.4" y2="37.8" stroke="#333" stroke-width="0.3"/>
<line x1="435.1" y1="35.4" x2="436.4" y2="35.4" stroke="#222" stroke-width="0.4"/>
<text x="434.6" y="36.4" font-size="2.8" text-anchor="end" font-weight="normal" fill="#333" stroke="#333" stroke-width="0.18">80</text>
<line x1="435.7" y1="32.9" x2="436.4" y2="32.9" stroke="#333" stroke-width="0.3"/>
<line x1="435.7" y1="30.4" x2="436.4" y2="30.4" stroke="#333" stroke-width="0.3"/>
<line x1="435.7" y1="27.9" x2="436.4" y2="27.9" stroke="#333" stroke-width="0.3"/>
<line x1="435.7" y1="25.5" x2="436.4" y2="25.5" stroke="#333" stroke-width="0.3"/>
<line x1="435.1" y1="23.0" x2="436.4" y2="23.0" stroke="#222" stroke-width="0.4"/>
<text x="434.6" y="24.0" font-size="2.8" text-anchor="end" font-weight="normal" fill="#333" stroke="#333" stroke-width="0.18">100</text>
<line x1="438.9" y1="84.8" x2="438.9" y2="86.1" stroke="#222" stroke-width="0.4"/>
<text x="439.9" y="91.2" font-size="3.2" text-anchor="middle">10<tspan font-size="1.9" dy="-1.3">0</tspan></text>
<line x1="443.4" y1="84.8" x2="443.4" y2="85.5" stroke="#333" stroke-width="0.3"/>
<line x1="446.0" y1="84.8" x2="446.0" y2="85.5" stroke="#333" stroke-width="0.3"/>
<line x1="447.8" y1="84.8" x2="447.8" y2="85.5" stroke="#333" stroke-width="0.3"/>
<line x1="449.2" y1="84.8" x2="449.2" y2="85.5" stroke="#333" stroke-width="0.3"/>
<line x1="450.4" y1="84.8" x2="450.4" y2="85.5" stroke="#333" stroke-width="0.3"/>
<line x1="451.4" y1="84.8" x2="451.4" y2="85.5" stroke="#333" stroke-width="0.3"/>
<line x1="452.3" y1="84.8" x2="452.3" y2="85.5" stroke="#333" stroke-width="0.3"/>
<line x1="453.0" y1="84.8" x2="453.0" y2="85.5" stroke="#333" stroke-width="0.3"/>
<line x1="453.7" y1="84.8" x2="453.7" y2="86.1" stroke="#222" stroke-width="0.4"/>
<text x="454.7" y="91.2" font-size="3.2" text-anchor="middle">10<tspan font-size="1.9" dy="-1.3">1</tspan></text>
<line x1="458.2" y1="84.8" x2="458.2" y2="85.5" stroke="#333" stroke-width="0.3"/>
<line x1="460.8" y1="84.8" x2="460.8" y2="85.5" stroke="#333" stroke-width="0.3"/>
<line x1="462.6" y1="84.8" x2="462.6" y2="85.5" stroke="#333" stroke-width="0.3"/>
<line x1="464.0" y1="84.8" x2="464.0" y2="85.5" stroke="#333" stroke-width="0.3"/>
<line x1="465.2" y1="84.8" x2="465.2" y2="85.5" stroke="#333" stroke-width="0.3"/>
<line x1="466.2" y1="84.8" x2="466.2" y2="85.5" stroke="#333" stroke-width="0.3"/>
<line x1="467.1" y1="84.8" x2="467.1" y2="85.5" stroke="#333" stroke-width="0.3"/>
<line x1="467.8" y1="84.8" x2="467.8" y2="85.5" stroke="#333" stroke-width="0.3"/>
<line x1="468.5" y1="84.8" x2="468.5" y2="86.1" stroke="#222" stroke-width="0.4"/>
<text x="469.5" y="91.2" font-size="3.2" text-anchor="middle">10<tspan font-size="1.9" dy="-1.3">2</tspan></text>
<line x1="473.0" y1="84.8" x2="473.0" y2="85.5" stroke="#333" stroke-width="0.3"/>
<line x1="475.6" y1="84.8" x2="475.6" y2="85.5" stroke="#333" stroke-width="0.3"/>
<line x1="477.4" y1="84.8" x2="477.4" y2="85.5" stroke="#333" stroke-width="0.3"/>
<line x1="478.8" y1="84.8" x2="478.8" y2="85.5" stroke="#333" stroke-width="0.3"/>
<line x1="480.0" y1="84.8" x2="480.0" y2="85.5" stroke="#333" stroke-width="0.3"/>
<line x1="481.0" y1="84.8" x2="481.0" y2="85.5" stroke="#333" stroke-width="0.3"/>
<line x1="481.9" y1="84.8" x2="481.9" y2="85.5" stroke="#333" stroke-width="0.3"/>
<line x1="482.6" y1="84.8" x2="482.6" y2="85.5" stroke="#333" stroke-width="0.3"/>
<line x1="483.3" y1="84.8" x2="483.3" y2="86.1" stroke="#222" stroke-width="0.4"/>
<text x="484.3" y="91.2" font-size="3.2" text-anchor="middle">10<tspan font-size="1.9" dy="-1.3">3</tspan></text>
<line x1="487.8" y1="84.8" x2="487.8" y2="85.5" stroke="#333" stroke-width="0.3"/>
<line x1="490.4" y1="84.8" x2="490.4" y2="85.5" stroke="#333" stroke-width="0.3"/>
<line x1="492.2" y1="84.8" x2="492.2" y2="85.5" stroke="#333" stroke-width="0.3"/>
<line x1="493.6" y1="84.8" x2="493.6" y2="85.5" stroke="#333" stroke-width="0.3"/>
<line x1="494.8" y1="84.8" x2="494.8" y2="85.5" stroke="#333" stroke-width="0.3"/>
<line x1="495.8" y1="84.8" x2="495.8" y2="85.5" stroke="#333" stroke-width="0.3"/>
<line x1="496.7" y1="84.8" x2="496.7" y2="85.5" stroke="#333" stroke-width="0.3"/>
<line x1="497.4" y1="84.8" x2="497.4" y2="85.5" stroke="#333" stroke-width="0.3"/>
<line x1="498.1" y1="84.8" x2="498.1" y2="86.1" stroke="#222" stroke-width="0.4"/>
<text x="499.1" y="91.2" font-size="3.2" text-anchor="middle">10<tspan font-size="1.9" dy="-1.3">4</tspan></text>
<line x1="437.2" y1="26.1" x2="474.3" y2="26.1" stroke="#333" stroke-width="0.6"/>
<line x1="437.2" y1="24.9" x2="437.2" y2="27.3" stroke="#333" stroke-width="0.6"/>
<line x1="474.3" y1="24.9" x2="474.3" y2="27.3" stroke="#333" stroke-width="0.6"/>
<text x="454.9" y="25.1" font-size="5.6" text-anchor="middle" font-weight="normal" fill="#222" stroke="#222" stroke-width="0.14">3.0%</text>
<path d="M436.8 84.8 L436.8 84.6 L450.0 84.4 L469.5 84.3 L472.6 82.6 L475.0 75.2 L476.8 60.4 L478.9 36.2 L480.1 24.2 L481.5 36.2 L483.4 60.4 L485.1 79.3 L487.2 83.3 L492.6 84.4 L501.0 84.6 L501.0 84.8 Z" fill="#d0d0d0" stroke="#2a2a2a" stroke-width="0.85" stroke-linejoin="round"/>
<rect x="357.6" y="94.6" width="65.6" height="64.7" fill="none" stroke="#333" stroke-width="0.8"/>
<line x1="357.6" y1="94.6" x2="357.6" y2="159.3" stroke="#111" stroke-width="0.8"/>
<line x1="356.3" y1="159.3" x2="357.6" y2="159.3" stroke="#222" stroke-width="0.4"/>
<text x="355.8" y="160.3" font-size="2.8" text-anchor="end" font-weight="normal" fill="#333" stroke="#333" stroke-width="0.18">0</text>
<line x1="356.9" y1="156.9" x2="357.6" y2="156.9" stroke="#333" stroke-width="0.3"/>
<line x1="356.9" y1="154.4" x2="357.6" y2="154.4" stroke="#333" stroke-width="0.3"/>
<line x1="356.9" y1="152.0" x2="357.6" y2="152.0" stroke="#333" stroke-width="0.3"/>
<line x1="356.9" y1="149.5" x2="357.6" y2="149.5" stroke="#333" stroke-width="0.3"/>
<line x1="356.3" y1="147.1" x2="357.6" y2="147.1" stroke="#222" stroke-width="0.4"/>
<text x="355.8" y="148.1" font-size="2.8" text-anchor="end" font-weight="normal" fill="#333" stroke="#333" stroke-width="0.18">20</text>
<line x1="356.9" y1="144.6" x2="357.6" y2="144.6" stroke="#333" stroke-width="0.3"/>
<line x1="356.9" y1="142.2" x2="357.6" y2="142.2" stroke="#333" stroke-width="0.3"/>
<line x1="356.9" y1="139.7" x2="357.6" y2="139.7" stroke="#333" stroke-width="0.3"/>
<line x1="356.9" y1="137.3" x2="357.6" y2="137.3" stroke="#333" stroke-width="0.3"/>
<line x1="356.3" y1="134.9" x2="357.6" y2="134.9" stroke="#222" stroke-width="0.4"/>
<text x="355.8" y="135.9" font-size="2.8" text-anchor="end" font-weight="normal" fill="#333" stroke="#333" stroke-width="0.18">40</text>
<line x1="356.9" y1="132.4" x2="357.6" y2="132.4" stroke="#333" stroke-width="0.3"/>
<line x1="356.9" y1="130.0" x2="357.6" y2="130.0" stroke="#333" stroke-width="0.3"/>
<line x1="356.9" y1="127.5" x2="357.6" y2="127.5" stroke="#333" stroke-width="0.3"/>
<line x1="356.9" y1="125.1" x2="357.6" y2="125.1" stroke="#333" stroke-width="0.3"/>
<line x1="356.3" y1="122.6" x2="357.6" y2="122.6" stroke="#222" stroke-width="0.4"/>
<text x="355.8" y="123.6" font-size="2.8" text-anchor="end" font-weight="normal" fill="#333" stroke="#333" stroke-width="0.18">60</text>
<line x1="356.9" y1="120.2" x2="357.6" y2="120.2" stroke="#333" stroke-width="0.3"/>
<line x1="356.9" y1="117.8" x2="357.6" y2="117.8" stroke="#333" stroke-width="0.3"/>
<line x1="356.9" y1="115.3" x2="357.6" y2="115.3" stroke="#333" stroke-width="0.3"/>
<line x1="356.9" y1="112.9" x2="357.6" y2="112.9" stroke="#333" stroke-width="0.3"/>
<line x1="356.3" y1="110.4" x2="357.6" y2="110.4" stroke="#222" stroke-width="0.4"/>
<text x="355.8" y="111.4" font-size="2.8" text-anchor="end" font-weight="normal" fill="#333" stroke="#333" stroke-width="0.18">80</text>
<line x1="356.9" y1="108.0" x2="357.6" y2="108.0" stroke="#333" stroke-width="0.3"/>
<line x1="356.9" y1="105.5" x2="357.6" y2="105.5" stroke="#333" stroke-width="0.3"/>
<line x1="356.9" y1="103.1" x2="357.6" y2="103.1" stroke="#333" stroke-width="0.3"/>
<line x1="356.9" y1="100.6" x2="357.6" y2="100.6" stroke="#333" stroke-width="0.3"/>
<line x1="356.3" y1="98.2" x2="357.6" y2="98.2" stroke="#222" stroke-width="0.4"/>
<text x="355.8" y="99.2" font-size="2.8" text-anchor="end" font-weight="normal" fill="#333" stroke="#333" stroke-width="0.18">100</text>
<line x1="360.1" y1="159.3" x2="360.1" y2="160.6" stroke="#222" stroke-width="0.4"/>
<text x="361.1" y="165.7" font-size="3.2" text-anchor="middle">10<tspan font-size="1.9" dy="-1.3">0</tspan></text>
<line x1="364.6" y1="159.3" x2="364.6" y2="160.0" stroke="#333" stroke-width="0.3"/>
<line x1="367.2" y1="159.3" x2="367.2" y2="160.0" stroke="#333" stroke-width="0.3"/>
<line x1="369.0" y1="159.3" x2="369.0" y2="160.0" stroke="#333" stroke-width="0.3"/>
<line x1="370.4" y1="159.3" x2="370.4" y2="160.0" stroke="#333" stroke-width="0.3"/>
<line x1="371.6" y1="159.3" x2="371.6" y2="160.0" stroke="#333" stroke-width="0.3"/>
<line x1="372.6" y1="159.3" x2="372.6" y2="160.0" stroke="#333" stroke-width="0.3"/>
<line x1="373.5" y1="159.3" x2="373.5" y2="160.0" stroke="#333" stroke-width="0.3"/>
<line x1="374.2" y1="159.3" x2="374.2" y2="160.0" stroke="#333" stroke-width="0.3"/>
<line x1="374.9" y1="159.3" x2="374.9" y2="160.6" stroke="#222" stroke-width="0.4"/>
<text x="375.9" y="165.7" font-size="3.2" text-anchor="middle">10<tspan font-size="1.9" dy="-1.3">1</tspan></text>
<line x1="379.4" y1="159.3" x2="379.4" y2="160.0" stroke="#333" stroke-width="0.3"/>
<line x1="382.0" y1="159.3" x2="382.0" y2="160.0" stroke="#333" stroke-width="0.3"/>
<line x1="383.8" y1="159.3" x2="383.8" y2="160.0" stroke="#333" stroke-width="0.3"/>
<line x1="385.2" y1="159.3" x2="385.2" y2="160.0" stroke="#333" stroke-width="0.3"/>
<line x1="386.4" y1="159.3" x2="386.4" y2="160.0" stroke="#333" stroke-width="0.3"/>
<line x1="387.4" y1="159.3" x2="387.4" y2="160.0" stroke="#333" stroke-width="0.3"/>
<line x1="388.3" y1="159.3" x2="388.3" y2="160.0" stroke="#333" stroke-width="0.3"/>
<line x1="389.0" y1="159.3" x2="389.0" y2="160.0" stroke="#333" stroke-width="0.3"/>
<line x1="389.7" y1="159.3" x2="389.7" y2="160.6" stroke="#222" stroke-width="0.4"/>
<text x="390.7" y="165.7" font-size="3.2" text-anchor="middle">10<tspan font-size="1.9" dy="-1.3">2</tspan></text>
<line x1="394.2" y1="159.3" x2="394.2" y2="160.0" stroke="#333" stroke-width="0.3"/>
<line x1="396.8" y1="159.3" x2="396.8" y2="160.0" stroke="#333" stroke-width="0.3"/>
<line x1="398.6" y1="159.3" x2="398.6" y2="160.0" stroke="#333" stroke-width="0.3"/>
<line x1="400.0" y1="159.3" x2="400.0" y2="160.0" stroke="#333" stroke-width="0.3"/>
<line x1="401.2" y1="159.3" x2="401.2" y2="160.0" stroke="#333" stroke-width="0.3"/>
<line x1="402.2" y1="159.3" x2="402.2" y2="160.0" stroke="#333" stroke-width="0.3"/>
<line x1="403.1" y1="159.3" x2="403.1" y2="160.0" stroke="#333" stroke-width="0.3"/>
<line x1="403.8" y1="159.3" x2="403.8" y2="160.0" stroke="#333" stroke-width="0.3"/>
<line x1="404.5" y1="159.3" x2="404.5" y2="160.6" stroke="#222" stroke-width="0.4"/>
<text x="405.5" y="165.7" font-size="3.2" text-anchor="middle">10<tspan font-size="1.9" dy="-1.3">3</tspan></text>
<line x1="409.0" y1="159.3" x2="409.0" y2="160.0" stroke="#333" stroke-width="0.3"/>
<line x1="411.6" y1="159.3" x2="411.6" y2="160.0" stroke="#333" stroke-width="0.3"/>
<line x1="413.4" y1="159.3" x2="413.4" y2="160.0" stroke="#333" stroke-width="0.3"/>
<line x1="414.8" y1="159.3" x2="414.8" y2="160.0" stroke="#333" stroke-width="0.3"/>
<line x1="416.0" y1="159.3" x2="416.0" y2="160.0" stroke="#333" stroke-width="0.3"/>
<line x1="417.0" y1="159.3" x2="417.0" y2="160.0" stroke="#333" stroke-width="0.3"/>
<line x1="417.9" y1="159.3" x2="417.9" y2="160.0" stroke="#333" stroke-width="0.3"/>
<line x1="418.6" y1="159.3" x2="418.6" y2="160.0" stroke="#333" stroke-width="0.3"/>
<line x1="419.3" y1="159.3" x2="419.3" y2="160.6" stroke="#222" stroke-width="0.4"/>
<text x="420.3" y="165.7" font-size="3.2" text-anchor="middle">10<tspan font-size="1.9" dy="-1.3">4</tspan></text>
<line x1="358.4" y1="100.8" x2="395.6" y2="100.8" stroke="#333" stroke-width="0.6"/>
<line x1="358.4" y1="99.6" x2="358.4" y2="102.0" stroke="#333" stroke-width="0.6"/>
<line x1="395.6" y1="99.6" x2="395.6" y2="102.0" stroke="#333" stroke-width="0.6"/>
<text x="376.1" y="99.8" font-size="5.6" text-anchor="middle" font-weight="normal" fill="#222" stroke="#222" stroke-width="0.14">95.2%</text>
<path d="M358.4 159.3 L358.4 157.3 L360.4 156.0 L364.4 149.2 L366.4 147.9 L368.5 137.1 L369.5 135.8 L370.9 139.8 L373.2 118.3 L375.2 130.4 L378.6 101.4 L380.6 126.3 L383.3 100.8 L386.0 139.8 L388.0 136.4 L391.1 151.9 L393.4 149.2 L395.4 154.6 L398.3 152.6 L400.8 157.3 L406.1 159.1 L406.1 159.3 Z" fill="#d0d0d0" stroke="#2a2a2a" stroke-width="0.85" stroke-linejoin="round"/>
<rect x="436.4" y="94.6" width="65.1" height="64.7" fill="none" stroke="#333" stroke-width="0.8"/>
<line x1="436.4" y1="94.6" x2="436.4" y2="159.3" stroke="#111" stroke-width="0.8"/>
<line x1="435.1" y1="159.3" x2="436.4" y2="159.3" stroke="#222" stroke-width="0.4"/>
<text x="434.6" y="160.3" font-size="2.8" text-anchor="end" font-weight="normal" fill="#333" stroke="#333" stroke-width="0.18">0</text>
<line x1="435.7" y1="156.9" x2="436.4" y2="156.9" stroke="#333" stroke-width="0.3"/>
<line x1="435.7" y1="154.4" x2="436.4" y2="154.4" stroke="#333" stroke-width="0.3"/>
<line x1="435.7" y1="152.0" x2="436.4" y2="152.0" stroke="#333" stroke-width="0.3"/>
<line x1="435.7" y1="149.5" x2="436.4" y2="149.5" stroke="#333" stroke-width="0.3"/>
<line x1="435.1" y1="147.1" x2="436.4" y2="147.1" stroke="#222" stroke-width="0.4"/>
<text x="434.6" y="148.1" font-size="2.8" text-anchor="end" font-weight="normal" fill="#333" stroke="#333" stroke-width="0.18">20</text>
<line x1="435.7" y1="144.6" x2="436.4" y2="144.6" stroke="#333" stroke-width="0.3"/>
<line x1="435.7" y1="142.2" x2="436.4" y2="142.2" stroke="#333" stroke-width="0.3"/>
<line x1="435.7" y1="139.7" x2="436.4" y2="139.7" stroke="#333" stroke-width="0.3"/>
<line x1="435.7" y1="137.3" x2="436.4" y2="137.3" stroke="#333" stroke-width="0.3"/>
<line x1="435.1" y1="134.9" x2="436.4" y2="134.9" stroke="#222" stroke-width="0.4"/>
<text x="434.6" y="135.9" font-size="2.8" text-anchor="end" font-weight="normal" fill="#333" stroke="#333" stroke-width="0.18">40</text>
<line x1="435.7" y1="132.4" x2="436.4" y2="132.4" stroke="#333" stroke-width="0.3"/>
<line x1="435.7" y1="130.0" x2="436.4" y2="130.0" stroke="#333" stroke-width="0.3"/>
<line x1="435.7" y1="127.5" x2="436.4" y2="127.5" stroke="#333" stroke-width="0.3"/>
<line x1="435.7" y1="125.1" x2="436.4" y2="125.1" stroke="#333" stroke-width="0.3"/>
<line x1="435.1" y1="122.6" x2="436.4" y2="122.6" stroke="#222" stroke-width="0.4"/>
<text x="434.6" y="123.6" font-size="2.8" text-anchor="end" font-weight="normal" fill="#333" stroke="#333" stroke-width="0.18">60</text>
<line x1="435.7" y1="120.2" x2="436.4" y2="120.2" stroke="#333" stroke-width="0.3"/>
<line x1="435.7" y1="117.8" x2="436.4" y2="117.8" stroke="#333" stroke-width="0.3"/>
<line x1="435.7" y1="115.3" x2="436.4" y2="115.3" stroke="#333" stroke-width="0.3"/>
<line x1="435.7" y1="112.9" x2="436.4" y2="112.9" stroke="#333" stroke-width="0.3"/>
<line x1="435.1" y1="110.4" x2="436.4" y2="110.4" stroke="#222" stroke-width="0.4"/>
<text x="434.6" y="111.4" font-size="2.8" text-anchor="end" font-weight="normal" fill="#333" stroke="#333" stroke-width="0.18">80</text>
<line x1="435.7" y1="108.0" x2="436.4" y2="108.0" stroke="#333" stroke-width="0.3"/>
<line x1="435.7" y1="105.5" x2="436.4" y2="105.5" stroke="#333" stroke-width="0.3"/>
<line x1="435.7" y1="103.1" x2="436.4" y2="103.1" stroke="#333" stroke-width="0.3"/>
<line x1="435.7" y1="100.6" x2="436.4" y2="100.6" stroke="#333" stroke-width="0.3"/>
<line x1="435.1" y1="98.2" x2="436.4" y2="98.2" stroke="#222" stroke-width="0.4"/>
<text x="434.6" y="99.2" font-size="2.8" text-anchor="end" font-weight="normal" fill="#333" stroke="#333" stroke-width="0.18">100</text>
<line x1="438.9" y1="159.3" x2="438.9" y2="160.6" stroke="#222" stroke-width="0.4"/>
<text x="439.9" y="165.7" font-size="3.2" text-anchor="middle">10<tspan font-size="1.9" dy="-1.3">0</tspan></text>
<line x1="443.4" y1="159.3" x2="443.4" y2="160.0" stroke="#333" stroke-width="0.3"/>
<line x1="446.0" y1="159.3" x2="446.0" y2="160.0" stroke="#333" stroke-width="0.3"/>
<line x1="447.8" y1="159.3" x2="447.8" y2="160.0" stroke="#333" stroke-width="0.3"/>
<line x1="449.2" y1="159.3" x2="449.2" y2="160.0" stroke="#333" stroke-width="0.3"/>
<line x1="450.4" y1="159.3" x2="450.4" y2="160.0" stroke="#333" stroke-width="0.3"/>
<line x1="451.4" y1="159.3" x2="451.4" y2="160.0" stroke="#333" stroke-width="0.3"/>
<line x1="452.3" y1="159.3" x2="452.3" y2="160.0" stroke="#333" stroke-width="0.3"/>
<line x1="453.0" y1="159.3" x2="453.0" y2="160.0" stroke="#333" stroke-width="0.3"/>
<line x1="453.7" y1="159.3" x2="453.7" y2="160.6" stroke="#222" stroke-width="0.4"/>
<text x="454.7" y="165.7" font-size="3.2" text-anchor="middle">10<tspan font-size="1.9" dy="-1.3">1</tspan></text>
<line x1="458.2" y1="159.3" x2="458.2" y2="160.0" stroke="#333" stroke-width="0.3"/>
<line x1="460.8" y1="159.3" x2="460.8" y2="160.0" stroke="#333" stroke-width="0.3"/>
<line x1="462.6" y1="159.3" x2="462.6" y2="160.0" stroke="#333" stroke-width="0.3"/>
<line x1="464.0" y1="159.3" x2="464.0" y2="160.0" stroke="#333" stroke-width="0.3"/>
<line x1="465.2" y1="159.3" x2="465.2" y2="160.0" stroke="#333" stroke-width="0.3"/>
<line x1="466.2" y1="159.3" x2="466.2" y2="160.0" stroke="#333" stroke-width="0.3"/>
<line x1="467.1" y1="159.3" x2="467.1" y2="160.0" stroke="#333" stroke-width="0.3"/>
<line x1="467.8" y1="159.3" x2="467.8" y2="160.0" stroke="#333" stroke-width="0.3"/>
<line x1="468.5" y1="159.3" x2="468.5" y2="160.6" stroke="#222" stroke-width="0.4"/>
<text x="469.5" y="165.7" font-size="3.2" text-anchor="middle">10<tspan font-size="1.9" dy="-1.3">2</tspan></text>
<line x1="473.0" y1="159.3" x2="473.0" y2="160.0" stroke="#333" stroke-width="0.3"/>
<line x1="475.6" y1="159.3" x2="475.6" y2="160.0" stroke="#333" stroke-width="0.3"/>
<line x1="477.4" y1="159.3" x2="477.4" y2="160.0" stroke="#333" stroke-width="0.3"/>
<line x1="478.8" y1="159.3" x2="478.8" y2="160.0" stroke="#333" stroke-width="0.3"/>
<line x1="480.0" y1="159.3" x2="480.0" y2="160.0" stroke="#333" stroke-width="0.3"/>
<line x1="481.0" y1="159.3" x2="481.0" y2="160.0" stroke="#333" stroke-width="0.3"/>
<line x1="481.9" y1="159.3" x2="481.9" y2="160.0" stroke="#333" stroke-width="0.3"/>
<line x1="482.6" y1="159.3" x2="482.6" y2="160.0" stroke="#333" stroke-width="0.3"/>
<line x1="483.3" y1="159.3" x2="483.3" y2="160.6" stroke="#222" stroke-width="0.4"/>
<text x="484.3" y="165.7" font-size="3.2" text-anchor="middle">10<tspan font-size="1.9" dy="-1.3">3</tspan></text>
<line x1="487.8" y1="159.3" x2="487.8" y2="160.0" stroke="#333" stroke-width="0.3"/>
<line x1="490.4" y1="159.3" x2="490.4" y2="160.0" stroke="#333" stroke-width="0.3"/>
<line x1="492.2" y1="159.3" x2="492.2" y2="160.0" stroke="#333" stroke-width="0.3"/>
<line x1="493.6" y1="159.3" x2="493.6" y2="160.0" stroke="#333" stroke-width="0.3"/>
<line x1="494.8" y1="159.3" x2="494.8" y2="160.0" stroke="#333" stroke-width="0.3"/>
<line x1="495.8" y1="159.3" x2="495.8" y2="160.0" stroke="#333" stroke-width="0.3"/>
<line x1="496.7" y1="159.3" x2="496.7" y2="160.0" stroke="#333" stroke-width="0.3"/>
<line x1="497.4" y1="159.3" x2="497.4" y2="160.0" stroke="#333" stroke-width="0.3"/>
<line x1="498.1" y1="159.3" x2="498.1" y2="160.6" stroke="#222" stroke-width="0.4"/>
<text x="499.1" y="165.7" font-size="3.2" text-anchor="middle">10<tspan font-size="1.9" dy="-1.3">4</tspan></text>
<line x1="437.2" y1="100.8" x2="474.4" y2="100.8" stroke="#333" stroke-width="0.6"/>
<line x1="437.2" y1="99.6" x2="437.2" y2="102.0" stroke="#333" stroke-width="0.6"/>
<line x1="474.4" y1="99.6" x2="474.4" y2="102.0" stroke="#333" stroke-width="0.6"/>
<text x="454.9" y="99.8" font-size="5.6" text-anchor="middle" font-weight="normal" fill="#222" stroke="#222" stroke-width="0.14">84.8%</text>
<path d="M436.7 159.3 L436.7 159.1 L442.1 158.6 L447.5 156.0 L450.8 151.9 L452.8 147.9 L454.9 147.2 L457.6 126.3 L459.6 133.1 L462.3 100.1 L464.7 133.1 L467.0 111.5 L469.7 143.8 L472.6 130.4 L475.0 147.9 L477.7 135.8 L480.4 154.6 L485.1 159.1 L485.1 159.3 Z" fill="#d0d0d0" stroke="#2a2a2a" stroke-width="0.85" stroke-linejoin="round"/>
<rect x="357.6" y="168.3" width="65.6" height="65.0" fill="none" stroke="#333" stroke-width="0.8"/>
<line x1="357.6" y1="168.3" x2="357.6" y2="233.3" stroke="#111" stroke-width="0.8"/>
<line x1="356.3" y1="233.3" x2="357.6" y2="233.3" stroke="#222" stroke-width="0.4"/>
<text x="355.8" y="234.3" font-size="2.8" text-anchor="end" font-weight="normal" fill="#333" stroke="#333" stroke-width="0.18">0</text>
<line x1="356.9" y1="230.8" x2="357.6" y2="230.8" stroke="#333" stroke-width="0.3"/>
<line x1="356.9" y1="228.4" x2="357.6" y2="228.4" stroke="#333" stroke-width="0.3"/>
<line x1="356.9" y1="225.9" x2="357.6" y2="225.9" stroke="#333" stroke-width="0.3"/>
<line x1="356.9" y1="223.5" x2="357.6" y2="223.5" stroke="#333" stroke-width="0.3"/>
<line x1="356.3" y1="221.0" x2="357.6" y2="221.0" stroke="#222" stroke-width="0.4"/>
<text x="355.8" y="222.0" font-size="2.8" text-anchor="end" font-weight="normal" fill="#333" stroke="#333" stroke-width="0.18">20</text>
<line x1="356.9" y1="218.5" x2="357.6" y2="218.5" stroke="#333" stroke-width="0.3"/>
<line x1="356.9" y1="216.1" x2="357.6" y2="216.1" stroke="#333" stroke-width="0.3"/>
<line x1="356.9" y1="213.6" x2="357.6" y2="213.6" stroke="#333" stroke-width="0.3"/>
<line x1="356.9" y1="211.2" x2="357.6" y2="211.2" stroke="#333" stroke-width="0.3"/>
<line x1="356.3" y1="208.7" x2="357.6" y2="208.7" stroke="#222" stroke-width="0.4"/>
<text x="355.8" y="209.7" font-size="2.8" text-anchor="end" font-weight="normal" fill="#333" stroke="#333" stroke-width="0.18">40</text>
<line x1="356.9" y1="206.2" x2="357.6" y2="206.2" stroke="#333" stroke-width="0.3"/>
<line x1="356.9" y1="203.8" x2="357.6" y2="203.8" stroke="#333" stroke-width="0.3"/>
<line x1="356.9" y1="201.3" x2="357.6" y2="201.3" stroke="#333" stroke-width="0.3"/>
<line x1="356.9" y1="198.9" x2="357.6" y2="198.9" stroke="#333" stroke-width="0.3"/>
<line x1="356.3" y1="196.4" x2="357.6" y2="196.4" stroke="#222" stroke-width="0.4"/>
<text x="355.8" y="197.4" font-size="2.8" text-anchor="end" font-weight="normal" fill="#333" stroke="#333" stroke-width="0.18">60</text>
<line x1="356.9" y1="193.9" x2="357.6" y2="193.9" stroke="#333" stroke-width="0.3"/>
<line x1="356.9" y1="191.5" x2="357.6" y2="191.5" stroke="#333" stroke-width="0.3"/>
<line x1="356.9" y1="189.0" x2="357.6" y2="189.0" stroke="#333" stroke-width="0.3"/>
<line x1="356.9" y1="186.6" x2="357.6" y2="186.6" stroke="#333" stroke-width="0.3"/>
<line x1="356.3" y1="184.1" x2="357.6" y2="184.1" stroke="#222" stroke-width="0.4"/>
<text x="355.8" y="185.1" font-size="2.8" text-anchor="end" font-weight="normal" fill="#333" stroke="#333" stroke-width="0.18">80</text>
<line x1="356.9" y1="181.6" x2="357.6" y2="181.6" stroke="#333" stroke-width="0.3"/>
<line x1="356.9" y1="179.2" x2="357.6" y2="179.2" stroke="#333" stroke-width="0.3"/>
<line x1="356.9" y1="176.7" x2="357.6" y2="176.7" stroke="#333" stroke-width="0.3"/>
<line x1="356.9" y1="174.3" x2="357.6" y2="174.3" stroke="#333" stroke-width="0.3"/>
<line x1="356.3" y1="171.8" x2="357.6" y2="171.8" stroke="#222" stroke-width="0.4"/>
<text x="355.8" y="172.8" font-size="2.8" text-anchor="end" font-weight="normal" fill="#333" stroke="#333" stroke-width="0.18">100</text>
<line x1="360.1" y1="233.3" x2="360.1" y2="234.6" stroke="#222" stroke-width="0.4"/>
<text x="361.1" y="239.7" font-size="3.2" text-anchor="middle">10<tspan font-size="1.9" dy="-1.3">0</tspan></text>
<line x1="364.6" y1="233.3" x2="364.6" y2="234.0" stroke="#333" stroke-width="0.3"/>
<line x1="367.2" y1="233.3" x2="367.2" y2="234.0" stroke="#333" stroke-width="0.3"/>
<line x1="369.0" y1="233.3" x2="369.0" y2="234.0" stroke="#333" stroke-width="0.3"/>
<line x1="370.4" y1="233.3" x2="370.4" y2="234.0" stroke="#333" stroke-width="0.3"/>
<line x1="371.6" y1="233.3" x2="371.6" y2="234.0" stroke="#333" stroke-width="0.3"/>
<line x1="372.6" y1="233.3" x2="372.6" y2="234.0" stroke="#333" stroke-width="0.3"/>
<line x1="373.5" y1="233.3" x2="373.5" y2="234.0" stroke="#333" stroke-width="0.3"/>
<line x1="374.2" y1="233.3" x2="374.2" y2="234.0" stroke="#333" stroke-width="0.3"/>
<line x1="374.9" y1="233.3" x2="374.9" y2="234.6" stroke="#222" stroke-width="0.4"/>
<text x="375.9" y="239.7" font-size="3.2" text-anchor="middle">10<tspan font-size="1.9" dy="-1.3">1</tspan></text>
<line x1="379.4" y1="233.3" x2="379.4" y2="234.0" stroke="#333" stroke-width="0.3"/>
<line x1="382.0" y1="233.3" x2="382.0" y2="234.0" stroke="#333" stroke-width="0.3"/>
<line x1="383.8" y1="233.3" x2="383.8" y2="234.0" stroke="#333" stroke-width="0.3"/>
<line x1="385.2" y1="233.3" x2="385.2" y2="234.0" stroke="#333" stroke-width="0.3"/>
<line x1="386.4" y1="233.3" x2="386.4" y2="234.0" stroke="#333" stroke-width="0.3"/>
<line x1="387.4" y1="233.3" x2="387.4" y2="234.0" stroke="#333" stroke-width="0.3"/>
<line x1="388.3" y1="233.3" x2="388.3" y2="234.0" stroke="#333" stroke-width="0.3"/>
<line x1="389.0" y1="233.3" x2="389.0" y2="234.0" stroke="#333" stroke-width="0.3"/>
<line x1="389.7" y1="233.3" x2="389.7" y2="234.6" stroke="#222" stroke-width="0.4"/>
<text x="390.7" y="239.7" font-size="3.2" text-anchor="middle">10<tspan font-size="1.9" dy="-1.3">2</tspan></text>
<line x1="394.2" y1="233.3" x2="394.2" y2="234.0" stroke="#333" stroke-width="0.3"/>
<line x1="396.8" y1="233.3" x2="396.8" y2="234.0" stroke="#333" stroke-width="0.3"/>
<line x1="398.6" y1="233.3" x2="398.6" y2="234.0" stroke="#333" stroke-width="0.3"/>
<line x1="400.0" y1="233.3" x2="400.0" y2="234.0" stroke="#333" stroke-width="0.3"/>
<line x1="401.2" y1="233.3" x2="401.2" y2="234.0" stroke="#333" stroke-width="0.3"/>
<line x1="402.2" y1="233.3" x2="402.2" y2="234.0" stroke="#333" stroke-width="0.3"/>
<line x1="403.1" y1="233.3" x2="403.1" y2="234.0" stroke="#333" stroke-width="0.3"/>
<line x1="403.8" y1="233.3" x2="403.8" y2="234.0" stroke="#333" stroke-width="0.3"/>
<line x1="404.5" y1="233.3" x2="404.5" y2="234.6" stroke="#222" stroke-width="0.4"/>
<text x="405.5" y="239.7" font-size="3.2" text-anchor="middle">10<tspan font-size="1.9" dy="-1.3">3</tspan></text>
<line x1="409.0" y1="233.3" x2="409.0" y2="234.0" stroke="#333" stroke-width="0.3"/>
<line x1="411.6" y1="233.3" x2="411.6" y2="234.0" stroke="#333" stroke-width="0.3"/>
<line x1="413.4" y1="233.3" x2="413.4" y2="234.0" stroke="#333" stroke-width="0.3"/>
<line x1="414.8" y1="233.3" x2="414.8" y2="234.0" stroke="#333" stroke-width="0.3"/>
<line x1="416.0" y1="233.3" x2="416.0" y2="234.0" stroke="#333" stroke-width="0.3"/>
<line x1="417.0" y1="233.3" x2="417.0" y2="234.0" stroke="#333" stroke-width="0.3"/>
<line x1="417.9" y1="233.3" x2="417.9" y2="234.0" stroke="#333" stroke-width="0.3"/>
<line x1="418.6" y1="233.3" x2="418.6" y2="234.0" stroke="#333" stroke-width="0.3"/>
<line x1="419.3" y1="233.3" x2="419.3" y2="234.6" stroke="#222" stroke-width="0.4"/>
<text x="420.3" y="239.7" font-size="3.2" text-anchor="middle">10<tspan font-size="1.9" dy="-1.3">4</tspan></text>
<line x1="358.4" y1="174.1" x2="395.4" y2="174.1" stroke="#333" stroke-width="0.6"/>
<line x1="358.4" y1="172.9" x2="358.4" y2="175.3" stroke="#333" stroke-width="0.6"/>
<line x1="395.4" y1="172.9" x2="395.4" y2="175.3" stroke="#333" stroke-width="0.6"/>
<text x="376.0" y="173.1" font-size="5.6" text-anchor="middle" font-weight="normal" fill="#222" stroke="#222" stroke-width="0.14">80.0%</text>
<path d="M357.8 233.3 L357.8 227.3 L359.0 232.0 L363.1 231.3 L367.1 229.3 L370.5 223.9 L372.5 216.5 L373.8 214.5 L375.2 215.1 L376.5 204.4 L378.6 195.6 L380.3 203.0 L382.6 175.4 L385.3 204.4 L388.0 186.2 L390.3 210.4 L393.4 188.9 L395.6 211.8 L398.7 184.2 L401.4 223.2 L406.1 232.0 L411.5 232.9 L411.5 233.3 Z" fill="#d0d0d0" stroke="#2a2a2a" stroke-width="0.85" stroke-linejoin="round"/>
<rect x="436.4" y="168.3" width="65.1" height="65.0" fill="none" stroke="#333" stroke-width="0.8"/>
<line x1="436.4" y1="168.3" x2="436.4" y2="233.3" stroke="#111" stroke-width="0.8"/>
<line x1="435.1" y1="233.3" x2="436.4" y2="233.3" stroke="#222" stroke-width="0.4"/>
<text x="434.6" y="234.3" font-size="2.8" text-anchor="end" font-weight="normal" fill="#333" stroke="#333" stroke-width="0.18">0</text>
<line x1="435.7" y1="230.8" x2="436.4" y2="230.8" stroke="#333" stroke-width="0.3"/>
<line x1="435.7" y1="228.4" x2="436.4" y2="228.4" stroke="#333" stroke-width="0.3"/>
<line x1="435.7" y1="225.9" x2="436.4" y2="225.9" stroke="#333" stroke-width="0.3"/>
<line x1="435.7" y1="223.5" x2="436.4" y2="223.5" stroke="#333" stroke-width="0.3"/>
<line x1="435.1" y1="221.0" x2="436.4" y2="221.0" stroke="#222" stroke-width="0.4"/>
<text x="434.6" y="222.0" font-size="2.8" text-anchor="end" font-weight="normal" fill="#333" stroke="#333" stroke-width="0.18">20</text>
<line x1="435.7" y1="218.5" x2="436.4" y2="218.5" stroke="#333" stroke-width="0.3"/>
<line x1="435.7" y1="216.1" x2="436.4" y2="216.1" stroke="#333" stroke-width="0.3"/>
<line x1="435.7" y1="213.6" x2="436.4" y2="213.6" stroke="#333" stroke-width="0.3"/>
<line x1="435.7" y1="211.2" x2="436.4" y2="211.2" stroke="#333" stroke-width="0.3"/>
<line x1="435.1" y1="208.7" x2="436.4" y2="208.7" stroke="#222" stroke-width="0.4"/>
<text x="434.6" y="209.7" font-size="2.8" text-anchor="end" font-weight="normal" fill="#333" stroke="#333" stroke-width="0.18">40</text>
<line x1="435.7" y1="206.2" x2="436.4" y2="206.2" stroke="#333" stroke-width="0.3"/>
<line x1="435.7" y1="203.8" x2="436.4" y2="203.8" stroke="#333" stroke-width="0.3"/>
<line x1="435.7" y1="201.3" x2="436.4" y2="201.3" stroke="#333" stroke-width="0.3"/>
<line x1="435.7" y1="198.9" x2="436.4" y2="198.9" stroke="#333" stroke-width="0.3"/>
<line x1="435.1" y1="196.4" x2="436.4" y2="196.4" stroke="#222" stroke-width="0.4"/>
<text x="434.6" y="197.4" font-size="2.8" text-anchor="end" font-weight="normal" fill="#333" stroke="#333" stroke-width="0.18">60</text>
<line x1="435.7" y1="193.9" x2="436.4" y2="193.9" stroke="#333" stroke-width="0.3"/>
<line x1="435.7" y1="191.5" x2="436.4" y2="191.5" stroke="#333" stroke-width="0.3"/>
<line x1="435.7" y1="189.0" x2="436.4" y2="189.0" stroke="#333" stroke-width="0.3"/>
<line x1="435.7" y1="186.6" x2="436.4" y2="186.6" stroke="#333" stroke-width="0.3"/>
<line x1="435.1" y1="184.1" x2="436.4" y2="184.1" stroke="#222" stroke-width="0.4"/>
<text x="434.6" y="185.1" font-size="2.8" text-anchor="end" font-weight="normal" fill="#333" stroke="#333" stroke-width="0.18">80</text>
<line x1="435.7" y1="181.6" x2="436.4" y2="181.6" stroke="#333" stroke-width="0.3"/>
<line x1="435.7" y1="179.2" x2="436.4" y2="179.2" stroke="#333" stroke-width="0.3"/>
<line x1="435.7" y1="176.7" x2="436.4" y2="176.7" stroke="#333" stroke-width="0.3"/>
<line x1="435.7" y1="174.3" x2="436.4" y2="174.3" stroke="#333" stroke-width="0.3"/>
<line x1="435.1" y1="171.8" x2="436.4" y2="171.8" stroke="#222" stroke-width="0.4"/>
<text x="434.6" y="172.8" font-size="2.8" text-anchor="end" font-weight="normal" fill="#333" stroke="#333" stroke-width="0.18">100</text>
<line x1="438.9" y1="233.3" x2="438.9" y2="234.6" stroke="#222" stroke-width="0.4"/>
<text x="439.9" y="239.7" font-size="3.2" text-anchor="middle">10<tspan font-size="1.9" dy="-1.3">0</tspan></text>
<line x1="443.4" y1="233.3" x2="443.4" y2="234.0" stroke="#333" stroke-width="0.3"/>
<line x1="446.0" y1="233.3" x2="446.0" y2="234.0" stroke="#333" stroke-width="0.3"/>
<line x1="447.8" y1="233.3" x2="447.8" y2="234.0" stroke="#333" stroke-width="0.3"/>
<line x1="449.2" y1="233.3" x2="449.2" y2="234.0" stroke="#333" stroke-width="0.3"/>
<line x1="450.4" y1="233.3" x2="450.4" y2="234.0" stroke="#333" stroke-width="0.3"/>
<line x1="451.4" y1="233.3" x2="451.4" y2="234.0" stroke="#333" stroke-width="0.3"/>
<line x1="452.3" y1="233.3" x2="452.3" y2="234.0" stroke="#333" stroke-width="0.3"/>
<line x1="453.0" y1="233.3" x2="453.0" y2="234.0" stroke="#333" stroke-width="0.3"/>
<line x1="453.7" y1="233.3" x2="453.7" y2="234.6" stroke="#222" stroke-width="0.4"/>
<text x="454.7" y="239.7" font-size="3.2" text-anchor="middle">10<tspan font-size="1.9" dy="-1.3">1</tspan></text>
<line x1="458.2" y1="233.3" x2="458.2" y2="234.0" stroke="#333" stroke-width="0.3"/>
<line x1="460.8" y1="233.3" x2="460.8" y2="234.0" stroke="#333" stroke-width="0.3"/>
<line x1="462.6" y1="233.3" x2="462.6" y2="234.0" stroke="#333" stroke-width="0.3"/>
<line x1="464.0" y1="233.3" x2="464.0" y2="234.0" stroke="#333" stroke-width="0.3"/>
<line x1="465.2" y1="233.3" x2="465.2" y2="234.0" stroke="#333" stroke-width="0.3"/>
<line x1="466.2" y1="233.3" x2="466.2" y2="234.0" stroke="#333" stroke-width="0.3"/>
<line x1="467.1" y1="233.3" x2="467.1" y2="234.0" stroke="#333" stroke-width="0.3"/>
<line x1="467.8" y1="233.3" x2="467.8" y2="234.0" stroke="#333" stroke-width="0.3"/>
<line x1="468.5" y1="233.3" x2="468.5" y2="234.6" stroke="#222" stroke-width="0.4"/>
<text x="469.5" y="239.7" font-size="3.2" text-anchor="middle">10<tspan font-size="1.9" dy="-1.3">2</tspan></text>
<line x1="473.0" y1="233.3" x2="473.0" y2="234.0" stroke="#333" stroke-width="0.3"/>
<line x1="475.6" y1="233.3" x2="475.6" y2="234.0" stroke="#333" stroke-width="0.3"/>
<line x1="477.4" y1="233.3" x2="477.4" y2="234.0" stroke="#333" stroke-width="0.3"/>
<line x1="478.8" y1="233.3" x2="478.8" y2="234.0" stroke="#333" stroke-width="0.3"/>
<line x1="480.0" y1="233.3" x2="480.0" y2="234.0" stroke="#333" stroke-width="0.3"/>
<line x1="481.0" y1="233.3" x2="481.0" y2="234.0" stroke="#333" stroke-width="0.3"/>
<line x1="481.9" y1="233.3" x2="481.9" y2="234.0" stroke="#333" stroke-width="0.3"/>
<line x1="482.6" y1="233.3" x2="482.6" y2="234.0" stroke="#333" stroke-width="0.3"/>
<line x1="483.3" y1="233.3" x2="483.3" y2="234.6" stroke="#222" stroke-width="0.4"/>
<text x="484.3" y="239.7" font-size="3.2" text-anchor="middle">10<tspan font-size="1.9" dy="-1.3">3</tspan></text>
<line x1="487.8" y1="233.3" x2="487.8" y2="234.0" stroke="#333" stroke-width="0.3"/>
<line x1="490.4" y1="233.3" x2="490.4" y2="234.0" stroke="#333" stroke-width="0.3"/>
<line x1="492.2" y1="233.3" x2="492.2" y2="234.0" stroke="#333" stroke-width="0.3"/>
<line x1="493.6" y1="233.3" x2="493.6" y2="234.0" stroke="#333" stroke-width="0.3"/>
<line x1="494.8" y1="233.3" x2="494.8" y2="234.0" stroke="#333" stroke-width="0.3"/>
<line x1="495.8" y1="233.3" x2="495.8" y2="234.0" stroke="#333" stroke-width="0.3"/>
<line x1="496.7" y1="233.3" x2="496.7" y2="234.0" stroke="#333" stroke-width="0.3"/>
<line x1="497.4" y1="233.3" x2="497.4" y2="234.0" stroke="#333" stroke-width="0.3"/>
<line x1="498.1" y1="233.3" x2="498.1" y2="234.6" stroke="#222" stroke-width="0.4"/>
<text x="499.1" y="239.7" font-size="3.2" text-anchor="middle">10<tspan font-size="1.9" dy="-1.3">4</tspan></text>
<line x1="437.2" y1="174.1" x2="474.4" y2="174.1" stroke="#333" stroke-width="0.6"/>
<line x1="437.2" y1="172.9" x2="437.2" y2="175.3" stroke="#333" stroke-width="0.6"/>
<line x1="474.4" y1="172.9" x2="474.4" y2="175.3" stroke="#333" stroke-width="0.6"/>
<text x="454.9" y="173.1" font-size="5.6" text-anchor="middle" font-weight="normal" fill="#222" stroke="#222" stroke-width="0.14">23.0%</text>
<path d="M436.7 233.3 L436.7 232.9 L447.5 232.6 L452.8 231.3 L456.9 229.3 L460.2 227.9 L462.5 226.2 L464.3 227.5 L467.0 225.2 L469.0 226.2 L471.4 221.9 L472.8 218.5 L474.4 220.5 L476.4 207.1 L478.1 180.2 L479.5 172.7 L481.1 180.2 L483.1 215.1 L485.1 227.3 L489.2 232.0 L495.9 232.9 L495.9 233.3 Z" fill="#d0d0d0" stroke="#2a2a2a" stroke-width="0.85" stroke-linejoin="round"/>
<line x1="349.0" y1="19.3" x2="349.0" y2="86.5" stroke="#222" stroke-width="0.7"/>
<text x="345.8" y="52.5" font-size="7.0" text-anchor="middle" font-weight="normal" fill="#111" stroke="#111" stroke-width="0.10" transform="rotate(-90 345.8 52.5)">LPS</text>
<line x1="348.7" y1="94.5" x2="348.7" y2="243.0" stroke="#222" stroke-width="0.7"/>
<text x="345.8" y="166.5" font-size="7.0" text-anchor="middle" font-weight="normal" fill="#111" stroke="#111" stroke-width="0.10" transform="rotate(-90 345.8 166.5)">OVA + LPS</text>
<text x="510.0" y="53.5" font-size="6.6" text-anchor="middle" font-weight="normal" fill="#111" stroke="#111" stroke-width="0.11" transform="rotate(-90 510.0 53.5)">1:1</text>
<text x="510.0" y="128.0" font-size="6.6" text-anchor="middle" font-weight="normal" fill="#111" stroke="#111" stroke-width="0.11" transform="rotate(-90 510.0 128.0)">1:1</text>
<text x="510.0" y="197.5" font-size="6.6" text-anchor="middle" font-weight="normal" fill="#111" stroke="#111" stroke-width="0.11" transform="rotate(-90 510.0 197.5)">1:5</text>
<line x1="514.2" y1="19.3" x2="514.2" y2="102.7" stroke="#222" stroke-width="0.7"/>
<text x="516.6" y="126.0" font-size="6.6" text-anchor="middle" font-weight="normal" fill="#111" stroke="#111" stroke-width="0.11" transform="rotate(-90 516.6 126.0)">DC : T cell ratio</text>
<line x1="514.2" y1="150.7" x2="514.2" y2="233.3" stroke="#222" stroke-width="0.7"/>
<line x1="357.3" y1="243.2" x2="415.6" y2="243.2" stroke="#222" stroke-width="0.7"/>
<text x="430.8" y="245.6" font-size="7.0" text-anchor="middle" font-weight="normal" fill="#111" stroke="#111" stroke-width="0.10">CFSE</text>
<line x1="444.0" y1="243.2" x2="503.0" y2="243.2" stroke="#222" stroke-width="0.7"/>
<text x="0.9" y="258.3" font-size="13.6" text-anchor="start" font-weight="bold" fill="#000">D</text>
<text x="11.0" y="262.6" font-size="8.0" text-anchor="start" font-weight="normal" fill="#111" stroke="#111" stroke-width="0.06">C57BL/6</text>
<rect x="11.2" y="264.0" width="50.6" height="49.9" fill="#777777" stroke="none" stroke-width="0.6"/>
<text x="13.0" y="270.4" font-size="5.9" text-anchor="start" font-weight="normal" fill="#f6f6f6" stroke="#f6f6f6" stroke-width="0.13">00:00</text>
<rect x="51.8" y="265.2" width="8.0" height="1.0" fill="#9a9a9a" stroke="none" stroke-width="0.6"/>
<rect x="11.2" y="315.9" width="50.6" height="51.0" fill="#767676" stroke="none" stroke-width="0.6"/>
<text x="13.0" y="322.3" font-size="5.9" text-anchor="start" font-weight="normal" fill="#f6f6f6" stroke="#f6f6f6" stroke-width="0.13">00:35</text>
<rect x="51.8" y="317.1" width="8.0" height="1.0" fill="#9a9a9a" stroke="none" stroke-width="0.6"/>
<rect x="63.4" y="264.0" width="50.6" height="49.9" fill="#767676" stroke="none" stroke-width="0.6"/>
<text x="65.2" y="270.4" font-size="5.9" text-anchor="start" font-weight="normal" fill="#f6f6f6" stroke="#f6f6f6" stroke-width="0.13">00:05</text>
<rect x="104.0" y="265.2" width="8.0" height="1.0" fill="#9a9a9a" stroke="none" stroke-width="0.6"/>
<rect x="63.4" y="315.9" width="50.6" height="51.0" fill="#777777" stroke="none" stroke-width="0.6"/>
<text x="65.2" y="322.3" font-size="5.9" text-anchor="start" font-weight="normal" fill="#f6f6f6" stroke="#f6f6f6" stroke-width="0.13">00:40</text>
<rect x="104.0" y="317.1" width="8.0" height="1.0" fill="#9a9a9a" stroke="none" stroke-width="0.6"/>
<rect x="115.7" y="264.0" width="50.6" height="49.9" fill="#8a8a8a" stroke="none" stroke-width="0.6"/>
<text x="117.5" y="270.4" font-size="5.9" text-anchor="start" font-weight="normal" fill="#f6f6f6" stroke="#f6f6f6" stroke-width="0.13">00:10</text>
<rect x="156.3" y="265.2" width="8.0" height="1.0" fill="#9a9a9a" stroke="none" stroke-width="0.6"/>
<rect x="115.7" y="315.9" width="50.6" height="51.0" fill="#787878" stroke="none" stroke-width="0.6"/>
<text x="117.5" y="322.3" font-size="5.9" text-anchor="start" font-weight="normal" fill="#f6f6f6" stroke="#f6f6f6" stroke-width="0.13">00:45</text>
<rect x="156.3" y="317.1" width="8.0" height="1.0" fill="#9a9a9a" stroke="none" stroke-width="0.6"/>
<rect x="167.9" y="264.0" width="50.6" height="49.9" fill="#717171" stroke="none" stroke-width="0.6"/>
<text x="169.7" y="270.4" font-size="5.9" text-anchor="start" font-weight="normal" fill="#f6f6f6" stroke="#f6f6f6" stroke-width="0.13">00:15</text>
<rect x="208.5" y="265.2" width="8.0" height="1.0" fill="#9a9a9a" stroke="none" stroke-width="0.6"/>
<rect x="167.9" y="315.9" width="50.6" height="51.0" fill="#767676" stroke="none" stroke-width="0.6"/>
<text x="169.7" y="322.3" font-size="5.9" text-anchor="start" font-weight="normal" fill="#f6f6f6" stroke="#f6f6f6" stroke-width="0.13">00:50</text>
<rect x="208.5" y="317.1" width="8.0" height="1.0" fill="#9a9a9a" stroke="none" stroke-width="0.6"/>
<rect x="220.1" y="264.0" width="50.6" height="49.9" fill="#7a7a7a" stroke="none" stroke-width="0.6"/>
<text x="221.9" y="270.4" font-size="5.9" text-anchor="start" font-weight="normal" fill="#f6f6f6" stroke="#f6f6f6" stroke-width="0.13">00:20</text>
<rect x="260.7" y="265.2" width="8.0" height="1.0" fill="#9a9a9a" stroke="none" stroke-width="0.6"/>
<rect x="220.1" y="315.9" width="50.6" height="51.0" fill="#7b7b7b" stroke="none" stroke-width="0.6"/>
<text x="221.9" y="322.3" font-size="5.9" text-anchor="start" font-weight="normal" fill="#f6f6f6" stroke="#f6f6f6" stroke-width="0.13">00:55</text>
<rect x="260.7" y="317.1" width="8.0" height="1.0" fill="#9a9a9a" stroke="none" stroke-width="0.6"/>
<rect x="272.3" y="264.0" width="50.6" height="49.9" fill="#797979" stroke="none" stroke-width="0.6"/>
<text x="274.1" y="270.4" font-size="5.9" text-anchor="start" font-weight="normal" fill="#f6f6f6" stroke="#f6f6f6" stroke-width="0.13">00:25</text>
<rect x="312.9" y="265.2" width="8.0" height="1.0" fill="#9a9a9a" stroke="none" stroke-width="0.6"/>
<rect x="272.3" y="315.9" width="50.6" height="51.0" fill="#7e7e7e" stroke="none" stroke-width="0.6"/>
<text x="274.1" y="322.3" font-size="5.9" text-anchor="start" font-weight="normal" fill="#f6f6f6" stroke="#f6f6f6" stroke-width="0.13">00:60</text>
<rect x="312.9" y="317.1" width="8.0" height="1.0" fill="#9a9a9a" stroke="none" stroke-width="0.6"/>
<rect x="324.6" y="264.0" width="50.6" height="49.9" fill="#747474" stroke="none" stroke-width="0.6"/>
<text x="326.4" y="270.4" font-size="5.9" text-anchor="start" font-weight="normal" fill="#f6f6f6" stroke="#f6f6f6" stroke-width="0.13">00:30</text>
<rect x="365.2" y="265.2" width="8.0" height="1.0" fill="#9a9a9a" stroke="none" stroke-width="0.6"/>
<rect x="324.6" y="315.9" width="50.6" height="51.0" fill="#727272" stroke="none" stroke-width="0.6"/>
<text x="326.4" y="322.3" font-size="5.9" text-anchor="start" font-weight="normal" fill="#f6f6f6" stroke="#f6f6f6" stroke-width="0.13">00:60</text>
<rect x="365.2" y="317.1" width="8.0" height="1.0" fill="#9a9a9a" stroke="none" stroke-width="0.6"/>
<circle cx="38.6" cy="294.8" r="5.6" fill="none" stroke="#b0a0a0" stroke-width="1.1" opacity="0.7"/>
<circle cx="38.6" cy="294.8" r="4.5" fill="#52222a" stroke="none" stroke-width="0.6"/>
<circle cx="38.8" cy="295.3" r="2.6" fill="#8a4652" stroke="none" stroke-width="0.6"/>
<circle cx="50.6" cy="277.9" r="2.5" fill="none" stroke="#aaaaaa" stroke-width="0.9" opacity="0.8"/>
<circle cx="50.6" cy="277.9" r="1.5" fill="#3e3e3e" stroke="none" stroke-width="0.6"/>
<circle cx="50.6" cy="277.9" r="0.7" fill="#2e2e2e" stroke="none" stroke-width="0.6"/>
<circle cx="84.5" cy="284.8" r="4.8" fill="#5a8a5a" stroke="none" stroke-width="0.6" opacity="0.6"/>
<circle cx="84.5" cy="284.8" r="4.0" fill="#50c050" stroke="none" stroke-width="0.6"/>
<circle cx="84.1" cy="285.1" r="2.0" fill="#78e078" stroke="none" stroke-width="0.6"/>
<circle cx="91.4" cy="293.3" r="5.8" fill="none" stroke="#b0a0a0" stroke-width="1.1" opacity="0.7"/>
<circle cx="91.4" cy="293.3" r="4.7" fill="#52222a" stroke="none" stroke-width="0.6"/>
<circle cx="91.6" cy="293.8" r="2.7" fill="#8a4652" stroke="none" stroke-width="0.6"/>
<circle cx="96.3" cy="283.2" r="2.5" fill="none" stroke="#aaaaaa" stroke-width="0.9" opacity="0.8"/>
<circle cx="96.3" cy="283.2" r="1.5" fill="#3e3e3e" stroke="none" stroke-width="0.6"/>
<circle cx="96.3" cy="283.2" r="0.7" fill="#2e2e2e" stroke="none" stroke-width="0.6"/>
<circle cx="130.1" cy="284.8" r="3.8" fill="none" stroke="#8aa08a" stroke-width="0.8" opacity="0.6"/>
<circle cx="130.1" cy="284.8" r="3.2" fill="#5a8e62" stroke="none" stroke-width="0.6"/>
<circle cx="130.1" cy="284.8" r="1.8" fill="#72a87a" stroke="none" stroke-width="0.6"/>
<circle cx="142.8" cy="293.7" r="5.4" fill="none" stroke="#b0a0a0" stroke-width="1.1" opacity="0.7"/>
<circle cx="142.8" cy="293.7" r="4.3" fill="#52222a" stroke="none" stroke-width="0.6"/>
<circle cx="143.0" cy="294.2" r="2.5" fill="#8a4652" stroke="none" stroke-width="0.6"/>
<circle cx="151.3" cy="288.4" r="3.1" fill="none" stroke="#b8b8b8" stroke-width="0.9" opacity="0.8"/>
<circle cx="151.3" cy="288.4" r="2.2" fill="#555555" stroke="none" stroke-width="0.6"/>
<circle cx="151.3" cy="288.4" r="1.1" fill="#707070" stroke="none" stroke-width="0.6"/>
<circle cx="184.0" cy="284.2" r="3.8" fill="none" stroke="#8aa08a" stroke-width="0.8" opacity="0.6"/>
<circle cx="184.0" cy="284.2" r="3.2" fill="#5a8e62" stroke="none" stroke-width="0.6"/>
<circle cx="184.0" cy="284.2" r="1.8" fill="#72a87a" stroke="none" stroke-width="0.6"/>
<circle cx="194.6" cy="293.7" r="5.8" fill="none" stroke="#b0a0a0" stroke-width="1.1" opacity="0.7"/>
<circle cx="194.6" cy="293.7" r="4.7" fill="#52222a" stroke="none" stroke-width="0.6"/>
<circle cx="194.8" cy="294.2" r="2.7" fill="#8a4652" stroke="none" stroke-width="0.6"/>
<circle cx="201.4" cy="285.7" r="2.5" fill="none" stroke="#aaaaaa" stroke-width="0.9" opacity="0.8"/>
<circle cx="201.4" cy="285.7" r="1.5" fill="#3e3e3e" stroke="none" stroke-width="0.6"/>
<circle cx="201.4" cy="285.7" r="0.7" fill="#2e2e2e" stroke="none" stroke-width="0.6"/>
<circle cx="237.2" cy="284.2" r="3.5" fill="none" stroke="#aaaaaa" stroke-width="0.9" opacity="0.8"/>
<circle cx="237.2" cy="284.2" r="2.5" fill="#3e3e3e" stroke="none" stroke-width="0.6"/>
<circle cx="237.2" cy="284.2" r="1.1" fill="#2e2e2e" stroke="none" stroke-width="0.6"/>
<circle cx="249.3" cy="284.2" r="2.5" fill="none" stroke="#aaaaaa" stroke-width="0.9" opacity="0.8"/>
<circle cx="249.3" cy="284.2" r="1.5" fill="#3e3e3e" stroke="none" stroke-width="0.6"/>
<circle cx="249.3" cy="284.2" r="0.7" fill="#2e2e2e" stroke="none" stroke-width="0.6"/>
<circle cx="240.0" cy="295.8" r="5.1" fill="none" stroke="#8aa08a" stroke-width="0.8" opacity="0.6"/>
<circle cx="240.0" cy="295.8" r="4.5" fill="#5a8e62" stroke="none" stroke-width="0.6"/>
<circle cx="240.0" cy="295.8" r="2.5" fill="#72a87a" stroke="none" stroke-width="0.6"/>
<circle cx="247.8" cy="292.7" r="5.4" fill="none" stroke="#b0a0a0" stroke-width="1.1" opacity="0.7"/>
<circle cx="247.8" cy="292.7" r="4.3" fill="#52222a" stroke="none" stroke-width="0.6"/>
<circle cx="248.0" cy="293.2" r="2.5" fill="#8a4652" stroke="none" stroke-width="0.6"/>
<line x1="245.7" y1="299.0" x2="248.8" y2="306.0" stroke="#ffffff" stroke-width="1.3" stroke-linecap="round"/>
<circle cx="291.6" cy="282.7" r="3.5" fill="none" stroke="#aaaaaa" stroke-width="0.9" opacity="0.8"/>
<circle cx="291.6" cy="282.7" r="2.5" fill="#3e3e3e" stroke="none" stroke-width="0.6"/>
<circle cx="291.6" cy="282.7" r="1.1" fill="#2e2e2e" stroke="none" stroke-width="0.6"/>
<circle cx="307.7" cy="287.4" r="2.5" fill="none" stroke="#aaaaaa" stroke-width="0.9" opacity="0.8"/>
<circle cx="307.7" cy="287.4" r="1.5" fill="#3e3e3e" stroke="none" stroke-width="0.6"/>
<circle cx="307.7" cy="287.4" r="0.7" fill="#2e2e2e" stroke="none" stroke-width="0.6"/>
<circle cx="293.3" cy="298.0" r="5.1" fill="none" stroke="#8aa08a" stroke-width="0.8" opacity="0.6"/>
<circle cx="293.3" cy="298.0" r="4.5" fill="#5a8e62" stroke="none" stroke-width="0.6"/>
<circle cx="293.3" cy="298.0" r="2.5" fill="#72a87a" stroke="none" stroke-width="0.6"/>
<circle cx="299.6" cy="292.0" r="5.4" fill="none" stroke="#b0a0a0" stroke-width="1.1" opacity="0.7"/>
<circle cx="299.6" cy="292.0" r="4.3" fill="#52222a" stroke="none" stroke-width="0.6"/>
<circle cx="299.8" cy="292.5" r="2.5" fill="#8a4652" stroke="none" stroke-width="0.6"/>
<line x1="298.5" y1="299.0" x2="302.0" y2="305.7" stroke="#ffffff" stroke-width="1.3" stroke-linecap="round"/>
<circle cx="328.7" cy="289.1" r="3.2" fill="none" stroke="#aaaaaa" stroke-width="0.9" opacity="0.8"/>
<circle cx="328.7" cy="289.1" r="2.2" fill="#3e3e3e" stroke="none" stroke-width="0.6"/>
<circle cx="328.7" cy="289.1" r="1.0" fill="#2e2e2e" stroke="none" stroke-width="0.6"/>
<circle cx="348.3" cy="286.0" r="3.2" fill="none" stroke="#aaaaaa" stroke-width="0.9" opacity="0.8"/>
<circle cx="348.3" cy="286.0" r="2.2" fill="#3e3e3e" stroke="none" stroke-width="0.6"/>
<circle cx="348.3" cy="286.0" r="1.0" fill="#2e2e2e" stroke="none" stroke-width="0.6"/>
<circle cx="364.4" cy="285.7" r="2.6" fill="none" stroke="#aaaaaa" stroke-width="0.9" opacity="0.8"/>
<circle cx="364.4" cy="285.7" r="1.6" fill="#3e3e3e" stroke="none" stroke-width="0.6"/>
<circle cx="364.4" cy="285.7" r="0.7" fill="#2e2e2e" stroke="none" stroke-width="0.6"/>
<circle cx="344.2" cy="295.7" r="4.9" fill="none" stroke="#8aa08a" stroke-width="0.8" opacity="0.6"/>
<circle cx="344.2" cy="295.7" r="4.3" fill="#5a8e62" stroke="none" stroke-width="0.6"/>
<circle cx="344.2" cy="295.7" r="2.4" fill="#72a87a" stroke="none" stroke-width="0.6"/>
<circle cx="352.3" cy="293.2" r="5.2" fill="none" stroke="#b0a0a0" stroke-width="1.1" opacity="0.7"/>
<circle cx="352.3" cy="293.2" r="4.0" fill="#52222a" stroke="none" stroke-width="0.6"/>
<circle cx="352.5" cy="293.7" r="2.3" fill="#8a4652" stroke="none" stroke-width="0.6"/>
<line x1="351.0" y1="287.0" x2="358.0" y2="281.0" stroke="#ffffff" stroke-width="1.3" stroke-linecap="round"/>
<line x1="349.0" y1="298.0" x2="352.5" y2="305.5" stroke="#ffffff" stroke-width="1.3" stroke-linecap="round"/>
<circle cx="17.4" cy="337.3" r="3.5" fill="none" stroke="#aaaaaa" stroke-width="0.9" opacity="0.8"/>
<circle cx="17.4" cy="337.3" r="2.5" fill="#3e3e3e" stroke="none" stroke-width="0.6"/>
<circle cx="17.4" cy="337.3" r="1.1" fill="#2e2e2e" stroke="none" stroke-width="0.6"/>
<circle cx="37.5" cy="335.2" r="3.4" fill="none" stroke="#aaaaaa" stroke-width="0.9" opacity="0.8"/>
<circle cx="37.5" cy="335.2" r="2.4" fill="#3e3e3e" stroke="none" stroke-width="0.6"/>
<circle cx="37.5" cy="335.2" r="1.1" fill="#2e2e2e" stroke="none" stroke-width="0.6"/>
<circle cx="52.3" cy="334.5" r="2.5" fill="none" stroke="#aaaaaa" stroke-width="0.9" opacity="0.8"/>
<circle cx="52.3" cy="334.5" r="1.5" fill="#3e3e3e" stroke="none" stroke-width="0.6"/>
<circle cx="52.3" cy="334.5" r="0.7" fill="#2e2e2e" stroke="none" stroke-width="0.6"/>
<circle cx="31.2" cy="346.8" r="3.4" fill="none" stroke="#aaaaaa" stroke-width="0.9" opacity="0.8"/>
<circle cx="31.2" cy="346.8" r="2.4" fill="#3e3e3e" stroke="none" stroke-width="0.6"/>
<circle cx="31.2" cy="346.8" r="1.1" fill="#2e2e2e" stroke="none" stroke-width="0.6"/>
<circle cx="38.6" cy="345.3" r="5.2" fill="none" stroke="#b0a0a0" stroke-width="1.1" opacity="0.7"/>
<circle cx="38.6" cy="345.3" r="4.0" fill="#52222a" stroke="none" stroke-width="0.6"/>
<circle cx="38.8" cy="345.8" r="2.3" fill="#8a4652" stroke="none" stroke-width="0.6"/>
<line x1="36.5" y1="350.0" x2="40.5" y2="358.5" stroke="#ffffff" stroke-width="1.3" stroke-linecap="round"/>
<circle cx="71.3" cy="335.2" r="3.5" fill="none" stroke="#aaaaaa" stroke-width="0.9" opacity="0.8"/>
<circle cx="71.3" cy="335.2" r="2.5" fill="#3e3e3e" stroke="none" stroke-width="0.6"/>
<circle cx="71.3" cy="335.2" r="1.1" fill="#2e2e2e" stroke="none" stroke-width="0.6"/>
<circle cx="93.6" cy="333.5" r="3.2" fill="none" stroke="#aaaaaa" stroke-width="0.9" opacity="0.8"/>
<circle cx="93.6" cy="333.5" r="2.2" fill="#3e3e3e" stroke="none" stroke-width="0.6"/>
<circle cx="93.6" cy="333.5" r="1.0" fill="#2e2e2e" stroke="none" stroke-width="0.6"/>
<circle cx="86.6" cy="352.0" r="3.4" fill="none" stroke="#aaaaaa" stroke-width="0.9" opacity="0.8"/>
<circle cx="86.6" cy="352.0" r="2.4" fill="#3e3e3e" stroke="none" stroke-width="0.6"/>
<circle cx="86.6" cy="352.0" r="1.1" fill="#2e2e2e" stroke="none" stroke-width="0.6"/>
<circle cx="90.0" cy="345.7" r="5.2" fill="none" stroke="#b0a0a0" stroke-width="1.1" opacity="0.7"/>
<circle cx="90.0" cy="345.7" r="4.0" fill="#52222a" stroke="none" stroke-width="0.6"/>
<circle cx="90.2" cy="346.2" r="2.3" fill="#8a4652" stroke="none" stroke-width="0.6"/>
<line x1="92.0" y1="351.0" x2="97.5" y2="358.0" stroke="#ffffff" stroke-width="1.3" stroke-linecap="round"/>
<circle cx="117.0" cy="324.5" r="2.0" fill="#1e1e1e" stroke="none" stroke-width="0.6"/>
<circle cx="117.5" cy="331.0" r="1.0" fill="#333" stroke="none" stroke-width="0.6"/>
<circle cx="131.2" cy="333.0" r="3.5" fill="none" stroke="#aaaaaa" stroke-width="0.9" opacity="0.8"/>
<circle cx="131.2" cy="333.0" r="2.5" fill="#3e3e3e" stroke="none" stroke-width="0.6"/>
<circle cx="131.2" cy="333.0" r="1.1" fill="#2e2e2e" stroke="none" stroke-width="0.6"/>
<circle cx="143.8" cy="328.4" r="3.4" fill="none" stroke="#aaaaaa" stroke-width="0.9" opacity="0.8"/>
<circle cx="143.8" cy="328.4" r="2.4" fill="#3e3e3e" stroke="none" stroke-width="0.6"/>
<circle cx="143.8" cy="328.4" r="1.1" fill="#2e2e2e" stroke="none" stroke-width="0.6"/>
<circle cx="138.6" cy="352.0" r="3.2" fill="none" stroke="#aaaaaa" stroke-width="0.9" opacity="0.8"/>
<circle cx="138.6" cy="352.0" r="2.2" fill="#3e3e3e" stroke="none" stroke-width="0.6"/>
<circle cx="138.6" cy="352.0" r="1.0" fill="#2e2e2e" stroke="none" stroke-width="0.6"/>
<circle cx="141.7" cy="345.7" r="5.2" fill="none" stroke="#b0a0a0" stroke-width="1.1" opacity="0.7"/>
<circle cx="141.7" cy="345.7" r="4.0" fill="#52222a" stroke="none" stroke-width="0.6"/>
<circle cx="141.9" cy="346.2" r="2.3" fill="#8a4652" stroke="none" stroke-width="0.6"/>
<line x1="145.0" y1="350.0" x2="150.5" y2="357.5" stroke="#ffffff" stroke-width="1.3" stroke-linecap="round"/>
<circle cx="183.0" cy="330.5" r="3.5" fill="none" stroke="#aaaaaa" stroke-width="0.9" opacity="0.8"/>
<circle cx="183.0" cy="330.5" r="2.5" fill="#3e3e3e" stroke="none" stroke-width="0.6"/>
<circle cx="183.0" cy="330.5" r="1.1" fill="#2e2e2e" stroke="none" stroke-width="0.6"/>
<circle cx="202.0" cy="326.7" r="3.2" fill="none" stroke="#aaaaaa" stroke-width="0.9" opacity="0.8"/>
<circle cx="202.0" cy="326.7" r="2.2" fill="#3e3e3e" stroke="none" stroke-width="0.6"/>
<circle cx="202.0" cy="326.7" r="1.0" fill="#2e2e2e" stroke="none" stroke-width="0.6"/>
<circle cx="194.6" cy="352.7" r="3.4" fill="none" stroke="#aaaaaa" stroke-width="0.9" opacity="0.8"/>
<circle cx="194.6" cy="352.7" r="2.4" fill="#3e3e3e" stroke="none" stroke-width="0.6"/>
<circle cx="194.6" cy="352.7" r="1.1" fill="#2e2e2e" stroke="none" stroke-width="0.6"/>
<circle cx="194.6" cy="345.3" r="5.2" fill="none" stroke="#b0a0a0" stroke-width="1.1" opacity="0.7"/>
<circle cx="194.6" cy="345.3" r="4.0" fill="#52222a" stroke="none" stroke-width="0.6"/>
<circle cx="194.8" cy="345.8" r="2.3" fill="#8a4652" stroke="none" stroke-width="0.6"/>
<line x1="197.0" y1="350.5" x2="205.0" y2="350.5" stroke="#ffffff" stroke-width="1.3" stroke-linecap="round"/>
<circle cx="235.7" cy="330.5" r="3.5" fill="none" stroke="#aaaaaa" stroke-width="0.9" opacity="0.8"/>
<circle cx="235.7" cy="330.5" r="2.5" fill="#3e3e3e" stroke="none" stroke-width="0.6"/>
<circle cx="235.7" cy="330.5" r="1.1" fill="#2e2e2e" stroke="none" stroke-width="0.6"/>
<circle cx="258.4" cy="322.0" r="3.2" fill="none" stroke="#aaaaaa" stroke-width="0.9" opacity="0.8"/>
<circle cx="258.4" cy="322.0" r="2.2" fill="#3e3e3e" stroke="none" stroke-width="0.6"/>
<circle cx="258.4" cy="322.0" r="1.0" fill="#2e2e2e" stroke="none" stroke-width="0.6"/>
<circle cx="246.7" cy="345.3" r="5.6" fill="none" stroke="#b0a0a0" stroke-width="1.1" opacity="0.7"/>
<circle cx="246.7" cy="345.3" r="4.5" fill="#52222a" stroke="none" stroke-width="0.6"/>
<circle cx="246.9" cy="345.8" r="2.6" fill="#8a4652" stroke="none" stroke-width="0.6"/>
<circle cx="252.7" cy="358.4" r="3.4" fill="none" stroke="#aaaaaa" stroke-width="0.9" opacity="0.8"/>
<circle cx="252.7" cy="358.4" r="2.4" fill="#3e3e3e" stroke="none" stroke-width="0.6"/>
<circle cx="252.7" cy="358.4" r="1.1" fill="#2e2e2e" stroke="none" stroke-width="0.6"/>
<circle cx="287.3" cy="329.9" r="3.5" fill="none" stroke="#aaaaaa" stroke-width="0.9" opacity="0.8"/>
<circle cx="287.3" cy="329.9" r="2.5" fill="#3e3e3e" stroke="none" stroke-width="0.6"/>
<circle cx="287.3" cy="329.9" r="1.1" fill="#2e2e2e" stroke="none" stroke-width="0.6"/>
<circle cx="312.7" cy="318.2" r="3.0" fill="none" stroke="#aaaaaa" stroke-width="0.9" opacity="0.8"/>
<circle cx="312.7" cy="318.2" r="2.0" fill="#3e3e3e" stroke="none" stroke-width="0.6"/>
<circle cx="312.7" cy="318.2" r="0.9" fill="#2e2e2e" stroke="none" stroke-width="0.6"/>
<circle cx="299.2" cy="345.3" r="5.6" fill="none" stroke="#b0a0a0" stroke-width="1.1" opacity="0.7"/>
<circle cx="299.2" cy="345.3" r="4.5" fill="#52222a" stroke="none" stroke-width="0.6"/>
<circle cx="299.4" cy="345.8" r="2.6" fill="#8a4652" stroke="none" stroke-width="0.6"/>
<circle cx="309.8" cy="354.2" r="3.4" fill="none" stroke="#aaaaaa" stroke-width="0.9" opacity="0.8"/>
<circle cx="309.8" cy="354.2" r="2.4" fill="#3e3e3e" stroke="none" stroke-width="0.6"/>
<circle cx="309.8" cy="354.2" r="1.1" fill="#2e2e2e" stroke="none" stroke-width="0.6"/>
<circle cx="277.4" cy="334.0" r="2.3" fill="none" stroke="#aaaaaa" stroke-width="0.9" opacity="0.8"/>
<circle cx="277.4" cy="334.0" r="1.3" fill="#3e3e3e" stroke="none" stroke-width="0.6"/>
<circle cx="277.4" cy="334.0" r="0.6" fill="#2e2e2e" stroke="none" stroke-width="0.6"/>
<circle cx="340.5" cy="329.9" r="3.5" fill="none" stroke="#aaaaaa" stroke-width="0.9" opacity="0.8"/>
<circle cx="340.5" cy="329.9" r="2.5" fill="#3e3e3e" stroke="none" stroke-width="0.6"/>
<circle cx="340.5" cy="329.9" r="1.1" fill="#2e2e2e" stroke="none" stroke-width="0.6"/>
<path d="M351 344 L356 336 L360 328 L364 320" fill="none" stroke="#c8c850" stroke-width="0.7"/>
<path d="M350 345 L355 338 L361 330 L366 321" fill="none" stroke="#d0d060" stroke-width="0.6"/>
<circle cx="357.0" cy="338.0" r="3.5" fill="#3aa04a" stroke="none" stroke-width="0.6" opacity="0.8"/>
<circle cx="343.5" cy="340.0" r="3.0" fill="#b0b060" stroke="none" stroke-width="0.6" opacity="0.7"/>
<circle cx="351.7" cy="346.0" r="4.6" fill="#402020" stroke="#f0d0d0" stroke-width="1.0"/>
<text x="351.7" y="347.6" font-size="3.6" text-anchor="middle" font-weight="normal" fill="#fff" stroke="#fff" stroke-width="0.18">DC</text>
<circle cx="365.6" cy="319.0" r="2.3" fill="#111" stroke="#ddd" stroke-width="0.5"/>
<circle cx="362.0" cy="354.7" r="2.6" fill="#111" stroke="#ddd" stroke-width="0.5"/>
<text x="362.0" y="356.0" font-size="3.0" text-anchor="middle" font-weight="bold" fill="#fff">T</text>
<text x="326.0" y="362.2" font-size="4.8" text-anchor="start" font-weight="normal" fill="#f0f0f0" stroke="#f0f0f0" stroke-width="0.17">20 µm</text>
<rect x="325.5" y="364.0" width="13.5" height="1.0" fill="#f0f0f0" stroke="none" stroke-width="0.6"/>
<text x="1.1" y="382.0" font-size="13.6" text-anchor="start" font-weight="bold" fill="#000">E</text>
<text x="11.3" y="380.6" font-size="8.0" text-anchor="start" font-weight="normal" fill="#111" stroke="#111" stroke-width="0.06">WAS KO</text>
<rect x="11.2" y="382.3" width="50.6" height="50.4" fill="#797979" stroke="none" stroke-width="0.6"/>
<text x="13.0" y="388.7" font-size="5.9" text-anchor="start" font-weight="normal" fill="#f6f6f6" stroke="#f6f6f6" stroke-width="0.13">00:00</text>
<rect x="51.8" y="383.5" width="8.0" height="1.0" fill="#9a9a9a" stroke="none" stroke-width="0.6"/>
<rect x="11.2" y="433.9" width="50.6" height="50.7" fill="#7a7a7a" stroke="none" stroke-width="0.6"/>
<text x="13.0" y="440.3" font-size="5.9" text-anchor="start" font-weight="normal" fill="#f6f6f6" stroke="#f6f6f6" stroke-width="0.13">00:35</text>
<rect x="51.8" y="435.1" width="8.0" height="1.0" fill="#9a9a9a" stroke="none" stroke-width="0.6"/>
<rect x="63.4" y="382.3" width="50.6" height="50.4" fill="#7a7a7a" stroke="none" stroke-width="0.6"/>
<text x="65.2" y="388.7" font-size="5.9" text-anchor="start" font-weight="normal" fill="#f6f6f6" stroke="#f6f6f6" stroke-width="0.13">00:05</text>
<rect x="104.0" y="383.5" width="8.0" height="1.0" fill="#9a9a9a" stroke="none" stroke-width="0.6"/>
<rect x="63.4" y="433.9" width="50.6" height="50.7" fill="#7c7c7c" stroke="none" stroke-width="0.6"/>
<text x="65.2" y="440.3" font-size="5.9" text-anchor="start" font-weight="normal" fill="#f6f6f6" stroke="#f6f6f6" stroke-width="0.13">00:40</text>
<rect x="104.0" y="435.1" width="8.0" height="1.0" fill="#9a9a9a" stroke="none" stroke-width="0.6"/>
<rect x="115.7" y="382.3" width="50.6" height="50.4" fill="#8c8c8c" stroke="none" stroke-width="0.6"/>
<text x="117.5" y="388.7" font-size="5.9" text-anchor="start" font-weight="normal" fill="#f6f6f6" stroke="#f6f6f6" stroke-width="0.13">00:10</text>
<rect x="156.3" y="383.5" width="8.0" height="1.0" fill="#9a9a9a" stroke="none" stroke-width="0.6"/>
<rect x="115.7" y="433.9" width="50.6" height="50.7" fill="#7b7b7b" stroke="none" stroke-width="0.6"/>
<text x="117.5" y="440.3" font-size="5.9" text-anchor="start" font-weight="normal" fill="#f6f6f6" stroke="#f6f6f6" stroke-width="0.13">00:45</text>
<rect x="156.3" y="435.1" width="8.0" height="1.0" fill="#9a9a9a" stroke="none" stroke-width="0.6"/>
<rect x="167.9" y="382.3" width="50.6" height="50.4" fill="#717171" stroke="none" stroke-width="0.6"/>
<text x="169.7" y="388.7" font-size="5.9" text-anchor="start" font-weight="normal" fill="#f6f6f6" stroke="#f6f6f6" stroke-width="0.13">00:15</text>
<rect x="208.5" y="383.5" width="8.0" height="1.0" fill="#9a9a9a" stroke="none" stroke-width="0.6"/>
<rect x="167.9" y="433.9" width="50.6" height="50.7" fill="#7c7c7c" stroke="none" stroke-width="0.6"/>
<text x="169.7" y="440.3" font-size="5.9" text-anchor="start" font-weight="normal" fill="#f6f6f6" stroke="#f6f6f6" stroke-width="0.13">00:50</text>
<rect x="208.5" y="435.1" width="8.0" height="1.0" fill="#9a9a9a" stroke="none" stroke-width="0.6"/>
<rect x="220.1" y="382.3" width="50.6" height="50.4" fill="#7b7b7b" stroke="none" stroke-width="0.6"/>
<text x="221.9" y="388.7" font-size="5.9" text-anchor="start" font-weight="normal" fill="#f6f6f6" stroke="#f6f6f6" stroke-width="0.13">00:20</text>
<rect x="260.7" y="383.5" width="8.0" height="1.0" fill="#9a9a9a" stroke="none" stroke-width="0.6"/>
<rect x="220.1" y="433.9" width="50.6" height="50.7" fill="#777777" stroke="none" stroke-width="0.6"/>
<text x="221.9" y="440.3" font-size="5.9" text-anchor="start" font-weight="normal" fill="#f6f6f6" stroke="#f6f6f6" stroke-width="0.13">00:55</text>
<rect x="260.7" y="435.1" width="8.0" height="1.0" fill="#9a9a9a" stroke="none" stroke-width="0.6"/>
<rect x="272.3" y="382.3" width="50.6" height="50.4" fill="#7a7a7a" stroke="none" stroke-width="0.6"/>
<text x="274.1" y="388.7" font-size="5.9" text-anchor="start" font-weight="normal" fill="#f6f6f6" stroke="#f6f6f6" stroke-width="0.13">00:25</text>
<rect x="312.9" y="383.5" width="8.0" height="1.0" fill="#9a9a9a" stroke="none" stroke-width="0.6"/>
<rect x="272.3" y="433.9" width="50.6" height="50.7" fill="#7d7d7d" stroke="none" stroke-width="0.6"/>
<text x="274.1" y="440.3" font-size="5.9" text-anchor="start" font-weight="normal" fill="#f6f6f6" stroke="#f6f6f6" stroke-width="0.13">00:60</text>
<rect x="312.9" y="435.1" width="8.0" height="1.0" fill="#9a9a9a" stroke="none" stroke-width="0.6"/>
<rect x="324.6" y="382.3" width="50.6" height="50.4" fill="#767676" stroke="none" stroke-width="0.6"/>
<text x="326.4" y="388.7" font-size="5.9" text-anchor="start" font-weight="normal" fill="#f6f6f6" stroke="#f6f6f6" stroke-width="0.13">00:30</text>
<rect x="365.2" y="383.5" width="8.0" height="1.0" fill="#9a9a9a" stroke="none" stroke-width="0.6"/>
<rect x="324.6" y="433.9" width="50.6" height="50.7" fill="#767676" stroke="none" stroke-width="0.6"/>
<text x="326.4" y="440.3" font-size="5.9" text-anchor="start" font-weight="normal" fill="#f6f6f6" stroke="#f6f6f6" stroke-width="0.13">00:60</text>
<rect x="365.2" y="435.1" width="8.0" height="1.0" fill="#9a9a9a" stroke="none" stroke-width="0.6"/>
<circle cx="30.1" cy="407.5" r="5.6" fill="none" stroke="#b0a0a0" stroke-width="1.1" opacity="0.7"/>
<circle cx="30.1" cy="407.5" r="4.5" fill="#52222a" stroke="none" stroke-width="0.6"/>
<circle cx="30.3" cy="408.0" r="2.6" fill="#8a4652" stroke="none" stroke-width="0.6"/>
<circle cx="42.2" cy="412.8" r="5.2" fill="#8a6a9a" stroke="none" stroke-width="0.6" opacity="0.5"/>
<circle cx="42.2" cy="412.8" r="4.4" fill="#5a8a5a" stroke="none" stroke-width="0.6" opacity="0.6"/>
<circle cx="42.2" cy="412.8" r="3.6" fill="#50c050" stroke="none" stroke-width="0.6"/>
<circle cx="41.8" cy="413.1" r="1.8" fill="#78e078" stroke="none" stroke-width="0.6"/>
<circle cx="83.0" cy="406.4" r="5.6" fill="none" stroke="#b0a0a0" stroke-width="1.1" opacity="0.7"/>
<circle cx="83.0" cy="406.4" r="4.5" fill="#52222a" stroke="none" stroke-width="0.6"/>
<circle cx="83.2" cy="406.9" r="2.6" fill="#8a4652" stroke="none" stroke-width="0.6"/>
<circle cx="94.2" cy="415.5" r="3.7" fill="none" stroke="#b8b8b8" stroke-width="0.9" opacity="0.8"/>
<circle cx="94.2" cy="415.5" r="2.8" fill="#555555" stroke="none" stroke-width="0.6"/>
<circle cx="94.2" cy="415.5" r="1.4" fill="#707070" stroke="none" stroke-width="0.6"/>
<circle cx="134.3" cy="406.4" r="5.7" fill="none" stroke="#b8b8b8" stroke-width="0.9" opacity="0.8"/>
<circle cx="134.3" cy="406.4" r="4.8" fill="#555555" stroke="none" stroke-width="0.6"/>
<circle cx="134.3" cy="406.4" r="2.4" fill="#707070" stroke="none" stroke-width="0.6"/>
<circle cx="146.4" cy="411.7" r="3.7" fill="none" stroke="#b8b8b8" stroke-width="0.9" opacity="0.8"/>
<circle cx="146.4" cy="411.7" r="2.8" fill="#555555" stroke="none" stroke-width="0.6"/>
<circle cx="146.4" cy="411.7" r="1.4" fill="#707070" stroke="none" stroke-width="0.6"/>
<circle cx="186.2" cy="407.1" r="5.6" fill="none" stroke="#b0a0a0" stroke-width="1.1" opacity="0.7"/>
<circle cx="186.2" cy="407.1" r="4.5" fill="#52222a" stroke="none" stroke-width="0.6"/>
<circle cx="186.4" cy="407.6" r="2.6" fill="#8a4652" stroke="none" stroke-width="0.6"/>
<circle cx="197.8" cy="412.2" r="3.7" fill="none" stroke="#b8b8b8" stroke-width="0.9" opacity="0.8"/>
<circle cx="197.8" cy="412.2" r="2.8" fill="#555555" stroke="none" stroke-width="0.6"/>
<circle cx="197.8" cy="412.2" r="1.4" fill="#707070" stroke="none" stroke-width="0.6"/>
<circle cx="238.7" cy="407.1" r="5.6" fill="none" stroke="#b0a0a0" stroke-width="1.1" opacity="0.7"/>
<circle cx="238.7" cy="407.1" r="4.5" fill="#52222a" stroke="none" stroke-width="0.6"/>
<circle cx="238.9" cy="407.6" r="2.6" fill="#8a4652" stroke="none" stroke-width="0.6"/>
<circle cx="248.4" cy="395.9" r="2.9" fill="none" stroke="#aaaaaa" stroke-width="0.9" opacity="0.8"/>
<circle cx="248.4" cy="395.9" r="1.9" fill="#3e3e3e" stroke="none" stroke-width="0.6"/>
<circle cx="248.4" cy="395.9" r="0.8" fill="#2e2e2e" stroke="none" stroke-width="0.6"/>
<circle cx="246.3" cy="411.7" r="3.2" fill="none" stroke="#aaaaaa" stroke-width="0.9" opacity="0.8"/>
<circle cx="246.3" cy="411.7" r="2.2" fill="#3e3e3e" stroke="none" stroke-width="0.6"/>
<circle cx="246.3" cy="411.7" r="1.0" fill="#2e2e2e" stroke="none" stroke-width="0.6"/>
<line x1="248.0" y1="407.0" x2="253.0" y2="400.0" stroke="#ffffff" stroke-width="1.3" stroke-linecap="round"/>
<circle cx="291.2" cy="405.8" r="5.6" fill="none" stroke="#b0a0a0" stroke-width="1.1" opacity="0.7"/>
<circle cx="291.2" cy="405.8" r="4.5" fill="#52222a" stroke="none" stroke-width="0.6"/>
<circle cx="291.4" cy="406.3" r="2.6" fill="#8a4652" stroke="none" stroke-width="0.6"/>
<circle cx="303.9" cy="395.9" r="2.9" fill="none" stroke="#aaaaaa" stroke-width="0.9" opacity="0.8"/>
<circle cx="303.9" cy="395.9" r="1.9" fill="#3e3e3e" stroke="none" stroke-width="0.6"/>
<circle cx="303.9" cy="395.9" r="0.8" fill="#2e2e2e" stroke="none" stroke-width="0.6"/>
<circle cx="297.9" cy="412.2" r="3.2" fill="none" stroke="#aaaaaa" stroke-width="0.9" opacity="0.8"/>
<circle cx="297.9" cy="412.2" r="2.2" fill="#3e3e3e" stroke="none" stroke-width="0.6"/>
<circle cx="297.9" cy="412.2" r="1.0" fill="#2e2e2e" stroke="none" stroke-width="0.6"/>
<line x1="300.0" y1="407.0" x2="305.0" y2="399.0" stroke="#ffffff" stroke-width="1.3" stroke-linecap="round"/>
<circle cx="343.7" cy="405.7" r="5.6" fill="none" stroke="#b0a0a0" stroke-width="1.1" opacity="0.7"/>
<circle cx="343.7" cy="405.7" r="4.5" fill="#52222a" stroke="none" stroke-width="0.6"/>
<circle cx="343.9" cy="406.2" r="2.6" fill="#8a4652" stroke="none" stroke-width="0.6"/>
<circle cx="359.2" cy="397.6" r="2.9" fill="none" stroke="#aaaaaa" stroke-width="0.9" opacity="0.8"/>
<circle cx="359.2" cy="397.6" r="1.9" fill="#3e3e3e" stroke="none" stroke-width="0.6"/>
<circle cx="359.2" cy="397.6" r="0.8" fill="#2e2e2e" stroke="none" stroke-width="0.6"/>
<circle cx="349.8" cy="414.3" r="3.2" fill="none" stroke="#aaaaaa" stroke-width="0.9" opacity="0.8"/>
<circle cx="349.8" cy="414.3" r="2.2" fill="#3e3e3e" stroke="none" stroke-width="0.6"/>
<circle cx="349.8" cy="414.3" r="1.0" fill="#2e2e2e" stroke="none" stroke-width="0.6"/>
<line x1="351.0" y1="410.0" x2="355.5" y2="403.5" stroke="#ffffff" stroke-width="1.3" stroke-linecap="round"/>
<circle cx="29.5" cy="457.8" r="5.6" fill="none" stroke="#b0a0a0" stroke-width="1.1" opacity="0.7"/>
<circle cx="29.5" cy="457.8" r="4.5" fill="#52222a" stroke="none" stroke-width="0.6"/>
<circle cx="29.7" cy="458.3" r="2.6" fill="#8a4652" stroke="none" stroke-width="0.6"/>
<circle cx="43.8" cy="457.0" r="2.9" fill="none" stroke="#aaaaaa" stroke-width="0.9" opacity="0.8"/>
<circle cx="43.8" cy="457.0" r="1.9" fill="#3e3e3e" stroke="none" stroke-width="0.6"/>
<circle cx="43.8" cy="457.0" r="0.8" fill="#2e2e2e" stroke="none" stroke-width="0.6"/>
<circle cx="35.8" cy="466.3" r="3.2" fill="none" stroke="#aaaaaa" stroke-width="0.9" opacity="0.8"/>
<circle cx="35.8" cy="466.3" r="2.2" fill="#3e3e3e" stroke="none" stroke-width="0.6"/>
<circle cx="35.8" cy="466.3" r="1.0" fill="#2e2e2e" stroke="none" stroke-width="0.6"/>
<circle cx="81.9" cy="457.8" r="5.6" fill="none" stroke="#b0a0a0" stroke-width="1.1" opacity="0.7"/>
<circle cx="81.9" cy="457.8" r="4.5" fill="#52222a" stroke="none" stroke-width="0.6"/>
<circle cx="82.1" cy="458.3" r="2.6" fill="#8a4652" stroke="none" stroke-width="0.6"/>
<circle cx="98.4" cy="454.2" r="2.9" fill="none" stroke="#aaaaaa" stroke-width="0.9" opacity="0.8"/>
<circle cx="98.4" cy="454.2" r="1.9" fill="#3e3e3e" stroke="none" stroke-width="0.6"/>
<circle cx="98.4" cy="454.2" r="0.8" fill="#2e2e2e" stroke="none" stroke-width="0.6"/>
<circle cx="87.9" cy="465.8" r="3.2" fill="none" stroke="#aaaaaa" stroke-width="0.9" opacity="0.8"/>
<circle cx="87.9" cy="465.8" r="2.2" fill="#3e3e3e" stroke="none" stroke-width="0.6"/>
<circle cx="87.9" cy="465.8" r="1.0" fill="#2e2e2e" stroke="none" stroke-width="0.6"/>
<circle cx="133.7" cy="457.8" r="5.6" fill="none" stroke="#b0a0a0" stroke-width="1.1" opacity="0.7"/>
<circle cx="133.7" cy="457.8" r="4.5" fill="#52222a" stroke="none" stroke-width="0.6"/>
<circle cx="133.9" cy="458.3" r="2.6" fill="#8a4652" stroke="none" stroke-width="0.6"/>
<circle cx="150.2" cy="446.8" r="2.9" fill="none" stroke="#aaaaaa" stroke-width="0.9" opacity="0.8"/>
<circle cx="150.2" cy="446.8" r="1.9" fill="#3e3e3e" stroke="none" stroke-width="0.6"/>
<circle cx="150.2" cy="446.8" r="0.8" fill="#2e2e2e" stroke="none" stroke-width="0.6"/>
<circle cx="140.7" cy="465.4" r="3.2" fill="none" stroke="#aaaaaa" stroke-width="0.9" opacity="0.8"/>
<circle cx="140.7" cy="465.4" r="2.2" fill="#3e3e3e" stroke="none" stroke-width="0.6"/>
<circle cx="140.7" cy="465.4" r="1.0" fill="#2e2e2e" stroke="none" stroke-width="0.6"/>
<circle cx="144.9" cy="471.1" r="3.0" fill="none" stroke="#aaaaaa" stroke-width="0.9" opacity="0.8"/>
<circle cx="144.9" cy="471.1" r="2.0" fill="#3e3e3e" stroke="none" stroke-width="0.6"/>
<circle cx="144.9" cy="471.1" r="0.9" fill="#2e2e2e" stroke="none" stroke-width="0.6"/>
<circle cx="185.1" cy="457.8" r="5.6" fill="none" stroke="#b0a0a0" stroke-width="1.1" opacity="0.7"/>
<circle cx="185.1" cy="457.8" r="4.5" fill="#52222a" stroke="none" stroke-width="0.6"/>
<circle cx="185.3" cy="458.3" r="2.6" fill="#8a4652" stroke="none" stroke-width="0.6"/>
<circle cx="202.4" cy="442.6" r="2.9" fill="none" stroke="#aaaaaa" stroke-width="0.9" opacity="0.8"/>
<circle cx="202.4" cy="442.6" r="1.9" fill="#3e3e3e" stroke="none" stroke-width="0.6"/>
<circle cx="202.4" cy="442.6" r="0.8" fill="#2e2e2e" stroke="none" stroke-width="0.6"/>
<circle cx="192.5" cy="465.4" r="3.2" fill="none" stroke="#aaaaaa" stroke-width="0.9" opacity="0.8"/>
<circle cx="192.5" cy="465.4" r="2.2" fill="#3e3e3e" stroke="none" stroke-width="0.6"/>
<circle cx="192.5" cy="465.4" r="1.0" fill="#2e2e2e" stroke="none" stroke-width="0.6"/>
<circle cx="195.7" cy="472.2" r="3.0" fill="none" stroke="#aaaaaa" stroke-width="0.9" opacity="0.8"/>
<circle cx="195.7" cy="472.2" r="2.0" fill="#3e3e3e" stroke="none" stroke-width="0.6"/>
<circle cx="195.7" cy="472.2" r="0.9" fill="#2e2e2e" stroke="none" stroke-width="0.6"/>
<circle cx="238.3" cy="458.4" r="5.6" fill="none" stroke="#b0a0a0" stroke-width="1.1" opacity="0.7"/>
<circle cx="238.3" cy="458.4" r="4.5" fill="#52222a" stroke="none" stroke-width="0.6"/>
<circle cx="238.5" cy="458.9" r="2.6" fill="#8a4652" stroke="none" stroke-width="0.6"/>
<circle cx="253.1" cy="438.8" r="2.9" fill="none" stroke="#aaaaaa" stroke-width="0.9" opacity="0.8"/>
<circle cx="253.1" cy="438.8" r="1.9" fill="#3e3e3e" stroke="none" stroke-width="0.6"/>
<circle cx="253.1" cy="438.8" r="0.8" fill="#2e2e2e" stroke="none" stroke-width="0.6"/>
<circle cx="244.6" cy="464.8" r="3.2" fill="none" stroke="#aaaaaa" stroke-width="0.9" opacity="0.8"/>
<circle cx="244.6" cy="464.8" r="2.2" fill="#3e3e3e" stroke="none" stroke-width="0.6"/>
<circle cx="244.6" cy="464.8" r="1.0" fill="#2e2e2e" stroke="none" stroke-width="0.6"/>
<circle cx="248.8" cy="470.1" r="3.0" fill="none" stroke="#aaaaaa" stroke-width="0.9" opacity="0.8"/>
<circle cx="248.8" cy="470.1" r="2.0" fill="#3e3e3e" stroke="none" stroke-width="0.6"/>
<circle cx="248.8" cy="470.1" r="0.9" fill="#2e2e2e" stroke="none" stroke-width="0.6"/>
<line x1="244.0" y1="461.0" x2="251.5" y2="454.0" stroke="#ffffff" stroke-width="1.3" stroke-linecap="round"/>
<circle cx="290.1" cy="458.4" r="5.6" fill="none" stroke="#b0a0a0" stroke-width="1.1" opacity="0.7"/>
<circle cx="290.1" cy="458.4" r="4.5" fill="#52222a" stroke="none" stroke-width="0.6"/>
<circle cx="290.3" cy="458.9" r="2.6" fill="#8a4652" stroke="none" stroke-width="0.6"/>
<circle cx="300.7" cy="438.8" r="2.9" fill="none" stroke="#aaaaaa" stroke-width="0.9" opacity="0.8"/>
<circle cx="300.7" cy="438.8" r="1.9" fill="#3e3e3e" stroke="none" stroke-width="0.6"/>
<circle cx="300.7" cy="438.8" r="0.8" fill="#2e2e2e" stroke="none" stroke-width="0.6"/>
<circle cx="297.1" cy="464.8" r="3.2" fill="none" stroke="#aaaaaa" stroke-width="0.9" opacity="0.8"/>
<circle cx="297.1" cy="464.8" r="2.2" fill="#3e3e3e" stroke="none" stroke-width="0.6"/>
<circle cx="297.1" cy="464.8" r="1.0" fill="#2e2e2e" stroke="none" stroke-width="0.6"/>
<circle cx="306.4" cy="468.0" r="3.0" fill="none" stroke="#aaaaaa" stroke-width="0.9" opacity="0.8"/>
<circle cx="306.4" cy="468.0" r="2.0" fill="#3e3e3e" stroke="none" stroke-width="0.6"/>
<circle cx="306.4" cy="468.0" r="0.9" fill="#2e2e2e" stroke="none" stroke-width="0.6"/>
<path d="M354 440 L356 444 L353 448 L357 452 L355 456 L357 460" fill="none" stroke="#c8c850" stroke-width="0.7"/>
<circle cx="342.5" cy="458.3" r="5.6" fill="none" stroke="#b0a0a0" stroke-width="1.1" opacity="0.7"/>
<circle cx="342.5" cy="458.3" r="4.5" fill="#52222a" stroke="none" stroke-width="0.6"/>
<circle cx="342.7" cy="458.8" r="2.6" fill="#8a4652" stroke="none" stroke-width="0.6"/>
<circle cx="349.8" cy="466.0" r="3.4" fill="#222" stroke="#cfe" stroke-width="0.7"/>
<circle cx="359.2" cy="468.0" r="3.0" fill="none" stroke="#aaaaaa" stroke-width="0.9" opacity="0.8"/>
<circle cx="359.2" cy="468.0" r="2.0" fill="#3e3e3e" stroke="none" stroke-width="0.6"/>
<circle cx="359.2" cy="468.0" r="0.9" fill="#2e2e2e" stroke="none" stroke-width="0.6"/>
<circle cx="354.0" cy="438.7" r="2.0" fill="#222" stroke="#dd9" stroke-width="0.5"/>
<text x="378.2" y="260.1" font-size="14.0" text-anchor="start" font-weight="bold" fill="#000">F</text>
<rect x="401.4" y="265.8" width="116.1" height="80.4" fill="none" stroke="#999" stroke-width="1.2"/>
<line x1="401.4" y1="265.8" x2="401.4" y2="346.2" stroke="#111" stroke-width="0.85"/>
<line x1="401.4" y1="346.2" x2="517.5" y2="346.2" stroke="#111" stroke-width="0.85"/>
<line x1="400.3" y1="346.2" x2="401.4" y2="346.2" stroke="#222" stroke-width="0.4"/>
<line x1="400.3" y1="342.2" x2="401.4" y2="342.2" stroke="#222" stroke-width="0.4"/>
<line x1="400.3" y1="338.2" x2="401.4" y2="338.2" stroke="#222" stroke-width="0.4"/>
<line x1="400.3" y1="334.1" x2="401.4" y2="334.1" stroke="#222" stroke-width="0.4"/>
<line x1="400.3" y1="330.1" x2="401.4" y2="330.1" stroke="#222" stroke-width="0.4"/>
<line x1="400.3" y1="326.1" x2="401.4" y2="326.1" stroke="#222" stroke-width="0.4"/>
<line x1="400.3" y1="322.1" x2="401.4" y2="322.1" stroke="#222" stroke-width="0.4"/>
<line x1="400.3" y1="318.1" x2="401.4" y2="318.1" stroke="#222" stroke-width="0.4"/>
<line x1="400.3" y1="314.0" x2="401.4" y2="314.0" stroke="#222" stroke-width="0.4"/>
<line x1="400.3" y1="310.0" x2="401.4" y2="310.0" stroke="#222" stroke-width="0.4"/>
<line x1="400.3" y1="306.0" x2="401.4" y2="306.0" stroke="#222" stroke-width="0.4"/>
<line x1="400.3" y1="302.0" x2="401.4" y2="302.0" stroke="#222" stroke-width="0.4"/>
<line x1="400.3" y1="298.0" x2="401.4" y2="298.0" stroke="#222" stroke-width="0.4"/>
<line x1="400.3" y1="293.9" x2="401.4" y2="293.9" stroke="#222" stroke-width="0.4"/>
<line x1="400.3" y1="289.9" x2="401.4" y2="289.9" stroke="#222" stroke-width="0.4"/>
<line x1="400.3" y1="285.9" x2="401.4" y2="285.9" stroke="#222" stroke-width="0.4"/>
<line x1="400.3" y1="281.9" x2="401.4" y2="281.9" stroke="#222" stroke-width="0.4"/>
<line x1="400.3" y1="277.9" x2="401.4" y2="277.9" stroke="#222" stroke-width="0.4"/>
<line x1="400.3" y1="273.8" x2="401.4" y2="273.8" stroke="#222" stroke-width="0.4"/>
<line x1="400.3" y1="269.8" x2="401.4" y2="269.8" stroke="#222" stroke-width="0.4"/>
<line x1="400.3" y1="265.8" x2="401.4" y2="265.8" stroke="#222" stroke-width="0.4"/>
<line x1="399.4" y1="346.2" x2="401.4" y2="346.2" stroke="#111" stroke-width="0.55"/>
<text x="399.4" y="348.2" font-size="5.6" text-anchor="end" font-weight="normal" fill="#111" stroke="#111" stroke-width="0.14">0</text>
<line x1="399.4" y1="326.1" x2="401.4" y2="326.1" stroke="#111" stroke-width="0.55"/>
<text x="399.4" y="328.1" font-size="5.6" text-anchor="end" font-weight="normal" fill="#111" stroke="#111" stroke-width="0.14">5</text>
<line x1="399.4" y1="306.0" x2="401.4" y2="306.0" stroke="#111" stroke-width="0.55"/>
<text x="399.4" y="308.0" font-size="5.6" text-anchor="end" font-weight="normal" fill="#111" stroke="#111" stroke-width="0.14">10</text>
<line x1="399.4" y1="285.9" x2="401.4" y2="285.9" stroke="#111" stroke-width="0.55"/>
<text x="399.4" y="287.9" font-size="5.6" text-anchor="end" font-weight="normal" fill="#111" stroke="#111" stroke-width="0.14">15</text>
<line x1="399.4" y1="265.8" x2="401.4" y2="265.8" stroke="#111" stroke-width="0.55"/>
<text x="399.4" y="267.8" font-size="5.6" text-anchor="end" font-weight="normal" fill="#111" stroke="#111" stroke-width="0.14">20</text>
<line x1="416.5" y1="321.9" x2="416.5" y2="326.1" stroke="#111" stroke-width="0.75"/>
<line x1="412.9" y1="321.9" x2="420.1" y2="321.9" stroke="#111" stroke-width="0.75"/>
<rect x="406.9" y="326.1" width="19.3" height="20.1" fill="#000" stroke="#111" stroke-width="0.75"/>
<text x="416.5" y="353.8" font-size="5.9" text-anchor="middle" font-weight="normal" fill="#111" stroke="#111" stroke-width="0.13">C57BL/6</text>
<text x="416.5" y="359.0" font-size="4.6" text-anchor="middle" font-weight="normal" fill="#111" stroke="#111" stroke-width="0.18">+</text>
<text x="416.5" y="364.6" font-size="4.6" text-anchor="middle" font-weight="normal" fill="#111" stroke="#111" stroke-width="0.18">-</text>
<line x1="445.3" y1="332.3" x2="445.3" y2="334.1" stroke="#111" stroke-width="0.75"/>
<line x1="441.7" y1="332.3" x2="448.9" y2="332.3" stroke="#111" stroke-width="0.75"/>
<rect x="435.2" y="334.1" width="20.2" height="12.1" fill="#fff" stroke="#111" stroke-width="0.75"/>
<text x="445.3" y="353.8" font-size="5.9" text-anchor="middle" font-weight="normal" fill="#111" stroke="#111" stroke-width="0.13">WAS KO</text>
<text x="445.3" y="359.0" font-size="4.6" text-anchor="middle" font-weight="normal" fill="#111" stroke="#111" stroke-width="0.18">+</text>
<text x="445.3" y="364.6" font-size="4.6" text-anchor="middle" font-weight="normal" fill="#111" stroke="#111" stroke-width="0.18">-</text>
<line x1="474.5" y1="300.8" x2="474.5" y2="306.4" stroke="#111" stroke-width="0.75"/>
<line x1="470.9" y1="300.8" x2="478.1" y2="300.8" stroke="#111" stroke-width="0.75"/>
<rect x="464.6" y="306.4" width="19.7" height="39.8" fill="#000" stroke="#111" stroke-width="0.75"/>
<text x="474.5" y="353.8" font-size="5.9" text-anchor="middle" font-weight="normal" fill="#111" stroke="#111" stroke-width="0.13">C57BL/6</text>
<text x="474.5" y="359.0" font-size="4.6" text-anchor="middle" font-weight="normal" fill="#111" stroke="#111" stroke-width="0.18">+</text>
<text x="474.5" y="364.6" font-size="4.6" text-anchor="middle" font-weight="normal" fill="#111" stroke="#111" stroke-width="0.18">+</text>
<line x1="503.2" y1="322.9" x2="503.2" y2="326.9" stroke="#111" stroke-width="0.75"/>
<line x1="499.6" y1="322.9" x2="506.9" y2="322.9" stroke="#111" stroke-width="0.75"/>
<rect x="493.5" y="326.9" width="19.5" height="19.3" fill="#fff" stroke="#111" stroke-width="0.75"/>
<text x="503.2" y="353.8" font-size="5.9" text-anchor="middle" font-weight="normal" fill="#111" stroke="#111" stroke-width="0.13">WAS KO</text>
<text x="503.2" y="359.0" font-size="4.6" text-anchor="middle" font-weight="normal" fill="#111" stroke="#111" stroke-width="0.18">+</text>
<text x="503.2" y="364.6" font-size="4.6" text-anchor="middle" font-weight="normal" fill="#111" stroke="#111" stroke-width="0.18">+</text>
<text x="393.0" y="359.0" font-size="5.9" text-anchor="start" font-weight="normal" fill="#111" stroke="#111" stroke-width="0.13">LPS</text>
<text x="393.0" y="364.6" font-size="5.9" text-anchor="start" font-weight="normal" fill="#111" stroke="#111" stroke-width="0.13">OVA</text>
<line x1="416.2" y1="277.8" x2="474.6" y2="277.8" stroke="#333" stroke-width="0.6"/>
<line x1="416.2" y1="276.5" x2="416.2" y2="279.1" stroke="#333" stroke-width="0.6"/>
<line x1="474.6" y1="276.5" x2="474.6" y2="279.1" stroke="#333" stroke-width="0.6"/>
<text x="445.4" y="276.4" font-size="4.6" text-anchor="middle" font-weight="normal" fill="#222" stroke="#222" stroke-width="0.18">p &lt; 0.01</text>
<line x1="416.2" y1="310.4" x2="445.8" y2="310.4" stroke="#333" stroke-width="0.6"/>
<line x1="416.2" y1="309.1" x2="416.2" y2="311.7" stroke="#333" stroke-width="0.6"/>
<line x1="445.8" y1="309.1" x2="445.8" y2="311.7" stroke="#333" stroke-width="0.6"/>
<text x="431.0" y="309.0" font-size="4.6" text-anchor="middle" font-weight="normal" fill="#222" stroke="#222" stroke-width="0.18">p &lt; 0.05</text>
<line x1="474.6" y1="291.2" x2="503.4" y2="291.2" stroke="#333" stroke-width="0.6"/>
<line x1="474.6" y1="289.9" x2="474.6" y2="292.5" stroke="#333" stroke-width="0.6"/>
<line x1="503.4" y1="289.9" x2="503.4" y2="292.5" stroke="#333" stroke-width="0.6"/>
<text x="489.0" y="289.8" font-size="4.6" text-anchor="middle" font-weight="normal" fill="#222" stroke="#222" stroke-width="0.18">p &lt; 0.01</text>
<text x="392.1" y="305.9" font-size="5.6" text-anchor="middle" font-weight="normal" fill="#111" stroke="#111" stroke-width="0.14" transform="rotate(-90 392.1 305.9)">contact time (min)</text>
<text x="378.2" y="380.0" font-size="14.6" text-anchor="start" font-weight="bold" fill="#000">G</text>
<rect x="401.6" y="385.8" width="115.9" height="79.1" fill="none" stroke="#999" stroke-width="1.2"/>
<line x1="401.6" y1="385.8" x2="401.6" y2="464.9" stroke="#111" stroke-width="0.85"/>
<line x1="401.6" y1="464.9" x2="517.5" y2="464.9" stroke="#111" stroke-width="0.85"/>
<line x1="400.5" y1="464.9" x2="401.6" y2="464.9" stroke="#222" stroke-width="0.4"/>
<line x1="400.5" y1="453.7" x2="401.6" y2="453.7" stroke="#222" stroke-width="0.4"/>
<line x1="400.5" y1="442.5" x2="401.6" y2="442.5" stroke="#222" stroke-width="0.4"/>
<line x1="400.5" y1="431.3" x2="401.6" y2="431.3" stroke="#222" stroke-width="0.4"/>
<line x1="400.5" y1="420.1" x2="401.6" y2="420.1" stroke="#222" stroke-width="0.4"/>
<line x1="400.5" y1="408.9" x2="401.6" y2="408.9" stroke="#222" stroke-width="0.4"/>
<line x1="400.5" y1="397.7" x2="401.6" y2="397.7" stroke="#222" stroke-width="0.4"/>
<line x1="400.5" y1="386.5" x2="401.6" y2="386.5" stroke="#222" stroke-width="0.4"/>
<line x1="399.6" y1="464.9" x2="401.6" y2="464.9" stroke="#111" stroke-width="0.55"/>
<text x="399.6" y="466.9" font-size="5.6" text-anchor="end" font-weight="normal" fill="#111" stroke="#111" stroke-width="0.14">0</text>
<line x1="399.6" y1="442.5" x2="401.6" y2="442.5" stroke="#111" stroke-width="0.55"/>
<text x="399.6" y="444.5" font-size="5.6" text-anchor="end" font-weight="normal" fill="#111" stroke="#111" stroke-width="0.14">1</text>
<line x1="399.6" y1="420.1" x2="401.6" y2="420.1" stroke="#111" stroke-width="0.55"/>
<text x="399.6" y="422.1" font-size="5.6" text-anchor="end" font-weight="normal" fill="#111" stroke="#111" stroke-width="0.14">2</text>
<line x1="399.6" y1="397.7" x2="401.6" y2="397.7" stroke="#111" stroke-width="0.55"/>
<text x="399.6" y="399.7" font-size="5.6" text-anchor="end" font-weight="normal" fill="#111" stroke="#111" stroke-width="0.14">3</text>
<line x1="416.1" y1="418.5" x2="416.1" y2="421.9" stroke="#111" stroke-width="0.75"/>
<line x1="412.5" y1="418.5" x2="419.8" y2="418.5" stroke="#111" stroke-width="0.75"/>
<rect x="406.5" y="421.9" width="19.3" height="43.0" fill="#000" stroke="#111" stroke-width="0.75"/>
<text x="416.1" y="472.1" font-size="5.9" text-anchor="middle" font-weight="normal" fill="#111" stroke="#111" stroke-width="0.13">C57BL/6</text>
<text x="416.1" y="477.4" font-size="4.6" text-anchor="middle" font-weight="normal" fill="#111" stroke="#111" stroke-width="0.18">+</text>
<text x="416.1" y="482.6" font-size="4.6" text-anchor="middle" font-weight="normal" fill="#111" stroke="#111" stroke-width="0.18">-</text>
<line x1="445.3" y1="411.3" x2="445.3" y2="416.3" stroke="#111" stroke-width="0.75"/>
<line x1="441.7" y1="411.3" x2="448.9" y2="411.3" stroke="#111" stroke-width="0.75"/>
<rect x="435.5" y="416.3" width="19.6" height="48.6" fill="#fff" stroke="#111" stroke-width="0.75"/>
<text x="445.3" y="472.1" font-size="5.9" text-anchor="middle" font-weight="normal" fill="#111" stroke="#111" stroke-width="0.13">WAS KO</text>
<text x="445.3" y="477.4" font-size="4.6" text-anchor="middle" font-weight="normal" fill="#111" stroke="#111" stroke-width="0.18">+</text>
<text x="445.3" y="482.6" font-size="4.6" text-anchor="middle" font-weight="normal" fill="#111" stroke="#111" stroke-width="0.18">-</text>
<line x1="474.4" y1="428.6" x2="474.4" y2="430.8" stroke="#111" stroke-width="0.75"/>
<line x1="470.8" y1="428.6" x2="478.0" y2="428.6" stroke="#111" stroke-width="0.75"/>
<rect x="464.6" y="430.8" width="19.6" height="34.1" fill="#000" stroke="#111" stroke-width="0.75"/>
<text x="474.4" y="472.1" font-size="5.9" text-anchor="middle" font-weight="normal" fill="#111" stroke="#111" stroke-width="0.13">C57BL/6</text>
<text x="474.4" y="477.4" font-size="4.6" text-anchor="middle" font-weight="normal" fill="#111" stroke="#111" stroke-width="0.18">+</text>
<text x="474.4" y="482.6" font-size="4.6" text-anchor="middle" font-weight="normal" fill="#111" stroke="#111" stroke-width="0.18">+</text>
<line x1="503.3" y1="406.9" x2="503.3" y2="412.2" stroke="#111" stroke-width="0.75"/>
<line x1="499.7" y1="406.9" x2="506.9" y2="406.9" stroke="#111" stroke-width="0.75"/>
<rect x="493.5" y="412.2" width="19.6" height="52.7" fill="#fff" stroke="#111" stroke-width="0.75"/>
<text x="503.3" y="472.1" font-size="5.9" text-anchor="middle" font-weight="normal" fill="#111" stroke="#111" stroke-width="0.13">WAS KO</text>
<text x="503.3" y="477.4" font-size="4.6" text-anchor="middle" font-weight="normal" fill="#111" stroke="#111" stroke-width="0.18">+</text>
<text x="503.3" y="482.6" font-size="4.6" text-anchor="middle" font-weight="normal" fill="#111" stroke="#111" stroke-width="0.18">+</text>
<text x="393.0" y="477.4" font-size="5.9" text-anchor="start" font-weight="normal" fill="#111" stroke="#111" stroke-width="0.13">LPS</text>
<text x="393.0" y="482.6" font-size="5.9" text-anchor="start" font-weight="normal" fill="#111" stroke="#111" stroke-width="0.13">OVA</text>
<line x1="416.5" y1="393.2" x2="474.6" y2="393.2" stroke="#333" stroke-width="0.6"/>
<line x1="416.5" y1="391.9" x2="416.5" y2="394.5" stroke="#333" stroke-width="0.6"/>
<line x1="474.6" y1="391.9" x2="474.6" y2="394.5" stroke="#333" stroke-width="0.6"/>
<text x="445.6" y="391.8" font-size="4.6" text-anchor="middle" font-weight="normal" fill="#222" stroke="#222" stroke-width="0.18">p &lt; 0.05</text>
<line x1="474.6" y1="401.2" x2="503.1" y2="401.2" stroke="#333" stroke-width="0.6"/>
<line x1="474.6" y1="399.9" x2="474.6" y2="402.5" stroke="#333" stroke-width="0.6"/>
<line x1="503.1" y1="399.9" x2="503.1" y2="402.5" stroke="#333" stroke-width="0.6"/>
<text x="488.9" y="399.8" font-size="4.6" text-anchor="middle" font-weight="normal" fill="#222" stroke="#222" stroke-width="0.18">p &lt; 0.01</text>
<text x="392.3" y="425.3" font-size="5.6" text-anchor="middle" font-weight="normal" fill="#111" stroke="#111" stroke-width="0.14" transform="rotate(-90 392.3 425.3)">number of contacts</text>
<text x="1.0" y="497.9" font-size="14.0" text-anchor="start" font-weight="bold" fill="#000">H</text>
<rect x="30.0" y="501.3" width="112.8" height="112.5" fill="none" stroke="#666" stroke-width="1.1"/>
<line x1="30.0" y1="501.3" x2="30.0" y2="613.8" stroke="#111" stroke-width="0.8"/>
<line x1="30.0" y1="613.8" x2="142.8" y2="613.8" stroke="#111" stroke-width="0.8"/>
<line x1="28.0" y1="613.8" x2="30.0" y2="613.8" stroke="#111" stroke-width="0.6"/>
<text x="27.4" y="616.5" font-size="7.5" text-anchor="end" font-weight="normal" fill="#111" stroke="#111" stroke-width="0.08">0.0</text>
<line x1="28.0" y1="585.7" x2="30.0" y2="585.7" stroke="#111" stroke-width="0.6"/>
<text x="27.4" y="588.4" font-size="7.5" text-anchor="end" font-weight="normal" fill="#111" stroke="#111" stroke-width="0.08">0.5</text>
<line x1="28.0" y1="557.5" x2="30.0" y2="557.5" stroke="#111" stroke-width="0.6"/>
<text x="27.4" y="560.2" font-size="7.5" text-anchor="end" font-weight="normal" fill="#111" stroke="#111" stroke-width="0.08">1.0</text>
<line x1="28.0" y1="529.4" x2="30.0" y2="529.4" stroke="#111" stroke-width="0.6"/>
<text x="27.4" y="532.1" font-size="7.5" text-anchor="end" font-weight="normal" fill="#111" stroke="#111" stroke-width="0.08">1.5</text>
<line x1="28.0" y1="501.3" x2="30.0" y2="501.3" stroke="#111" stroke-width="0.6"/>
<text x="27.4" y="504.0" font-size="7.5" text-anchor="end" font-weight="normal" fill="#111" stroke="#111" stroke-width="0.08">2.0</text>
<line x1="28.9" y1="608.2" x2="30.0" y2="608.2" stroke="#111" stroke-width="0.45"/>
<line x1="28.9" y1="602.5" x2="30.0" y2="602.5" stroke="#111" stroke-width="0.45"/>
<line x1="28.9" y1="596.9" x2="30.0" y2="596.9" stroke="#111" stroke-width="0.45"/>
<line x1="28.9" y1="591.3" x2="30.0" y2="591.3" stroke="#111" stroke-width="0.45"/>
<line x1="28.9" y1="580.0" x2="30.0" y2="580.0" stroke="#111" stroke-width="0.45"/>
<line x1="28.9" y1="574.4" x2="30.0" y2="574.4" stroke="#111" stroke-width="0.45"/>
<line x1="28.9" y1="568.8" x2="30.0" y2="568.8" stroke="#111" stroke-width="0.45"/>
<line x1="28.9" y1="563.2" x2="30.0" y2="563.2" stroke="#111" stroke-width="0.45"/>
<line x1="28.9" y1="551.9" x2="30.0" y2="551.9" stroke="#111" stroke-width="0.45"/>
<line x1="28.9" y1="546.3" x2="30.0" y2="546.3" stroke="#111" stroke-width="0.45"/>
<line x1="28.9" y1="540.7" x2="30.0" y2="540.7" stroke="#111" stroke-width="0.45"/>
<line x1="28.9" y1="535.0" x2="30.0" y2="535.0" stroke="#111" stroke-width="0.45"/>
<line x1="28.9" y1="523.8" x2="30.0" y2="523.8" stroke="#111" stroke-width="0.45"/>
<line x1="28.9" y1="518.2" x2="30.0" y2="518.2" stroke="#111" stroke-width="0.45"/>
<line x1="28.9" y1="512.5" x2="30.0" y2="512.5" stroke="#111" stroke-width="0.45"/>
<line x1="28.9" y1="506.9" x2="30.0" y2="506.9" stroke="#111" stroke-width="0.45"/>
<line x1="30.0" y1="613.8" x2="30.0" y2="615.8" stroke="#111" stroke-width="0.6"/>
<text x="30.0" y="623.5" font-size="7.4" text-anchor="middle" font-weight="normal" fill="#111" stroke="#111" stroke-width="0.08">0</text>
<line x1="38.7" y1="613.8" x2="38.7" y2="615.0" stroke="#111" stroke-width="0.45"/>
<line x1="47.4" y1="613.8" x2="47.4" y2="615.8" stroke="#111" stroke-width="0.6"/>
<text x="47.4" y="623.5" font-size="7.4" text-anchor="middle" font-weight="normal" fill="#111" stroke="#111" stroke-width="0.08">10</text>
<line x1="56.1" y1="613.8" x2="56.1" y2="615.0" stroke="#111" stroke-width="0.45"/>
<line x1="64.7" y1="613.8" x2="64.7" y2="615.8" stroke="#111" stroke-width="0.6"/>
<text x="64.7" y="623.5" font-size="7.4" text-anchor="middle" font-weight="normal" fill="#111" stroke="#111" stroke-width="0.08">20</text>
<line x1="73.4" y1="613.8" x2="73.4" y2="615.0" stroke="#111" stroke-width="0.45"/>
<line x1="82.1" y1="613.8" x2="82.1" y2="615.8" stroke="#111" stroke-width="0.6"/>
<text x="82.1" y="623.5" font-size="7.4" text-anchor="middle" font-weight="normal" fill="#111" stroke="#111" stroke-width="0.08">30</text>
<line x1="90.8" y1="613.8" x2="90.8" y2="615.0" stroke="#111" stroke-width="0.45"/>
<line x1="99.5" y1="613.8" x2="99.5" y2="615.8" stroke="#111" stroke-width="0.6"/>
<text x="99.5" y="623.5" font-size="7.4" text-anchor="middle" font-weight="normal" fill="#111" stroke="#111" stroke-width="0.08">40</text>
<line x1="108.2" y1="613.8" x2="108.2" y2="615.0" stroke="#111" stroke-width="0.45"/>
<line x1="116.9" y1="613.8" x2="116.9" y2="615.8" stroke="#111" stroke-width="0.6"/>
<text x="116.9" y="623.5" font-size="7.4" text-anchor="middle" font-weight="normal" fill="#111" stroke="#111" stroke-width="0.08">50</text>
<line x1="125.5" y1="613.8" x2="125.5" y2="615.0" stroke="#111" stroke-width="0.45"/>
<line x1="134.2" y1="613.8" x2="134.2" y2="615.8" stroke="#111" stroke-width="0.6"/>
<text x="134.2" y="623.5" font-size="7.4" text-anchor="middle" font-weight="normal" fill="#111" stroke="#111" stroke-width="0.08">60</text>
<text x="88.9" y="633.9" font-size="7.6" text-anchor="middle" font-weight="normal" fill="#111" stroke="#111" stroke-width="0.07">time (min)</text>
<text x="87.4" y="499.5" font-size="7.6" text-anchor="middle" font-weight="normal" fill="#111" stroke="#111" stroke-width="0.07">BSA</text>
<path d="M38.7 587.4 L56.1 570.5 L82.1 563.7 L134.2 559.2" fill="none" stroke="#222" stroke-width="0.7"/>
<line x1="38.7" y1="584.5" x2="38.7" y2="590.2" stroke="#333" stroke-width="0.6"/>
<line x1="37.1" y1="584.5" x2="40.3" y2="584.5" stroke="#333" stroke-width="0.6"/>
<line x1="37.1" y1="590.2" x2="40.3" y2="590.2" stroke="#333" stroke-width="0.6"/>
<line x1="56.1" y1="568.2" x2="56.1" y2="572.7" stroke="#333" stroke-width="0.6"/>
<line x1="54.5" y1="568.2" x2="57.7" y2="568.2" stroke="#333" stroke-width="0.6"/>
<line x1="54.5" y1="572.7" x2="57.7" y2="572.7" stroke="#333" stroke-width="0.6"/>
<line x1="82.1" y1="557.5" x2="82.1" y2="569.9" stroke="#333" stroke-width="0.6"/>
<line x1="80.5" y1="557.5" x2="83.7" y2="557.5" stroke="#333" stroke-width="0.6"/>
<line x1="80.5" y1="569.9" x2="83.7" y2="569.9" stroke="#333" stroke-width="0.6"/>
<line x1="134.2" y1="553.6" x2="134.2" y2="564.9" stroke="#333" stroke-width="0.6"/>
<line x1="132.6" y1="553.6" x2="135.8" y2="553.6" stroke="#333" stroke-width="0.6"/>
<line x1="132.6" y1="564.9" x2="135.8" y2="564.9" stroke="#333" stroke-width="0.6"/>
<path d="M38.7 583.4 L56.1 568.2 L82.1 557.5 L134.2 551.4" fill="none" stroke="#222" stroke-width="0.7"/>
<line x1="38.7" y1="576.7" x2="38.7" y2="590.2" stroke="#333" stroke-width="0.6"/>
<line x1="37.1" y1="576.7" x2="40.3" y2="576.7" stroke="#333" stroke-width="0.6"/>
<line x1="37.1" y1="590.2" x2="40.3" y2="590.2" stroke="#333" stroke-width="0.6"/>
<line x1="56.1" y1="562.6" x2="56.1" y2="573.9" stroke="#333" stroke-width="0.6"/>
<line x1="54.5" y1="562.6" x2="57.7" y2="562.6" stroke="#333" stroke-width="0.6"/>
<line x1="54.5" y1="573.9" x2="57.7" y2="573.9" stroke="#333" stroke-width="0.6"/>
<line x1="82.1" y1="553.0" x2="82.1" y2="562.0" stroke="#333" stroke-width="0.6"/>
<line x1="80.5" y1="553.0" x2="83.7" y2="553.0" stroke="#333" stroke-width="0.6"/>
<line x1="80.5" y1="562.0" x2="83.7" y2="562.0" stroke="#333" stroke-width="0.6"/>
<line x1="134.2" y1="546.9" x2="134.2" y2="555.9" stroke="#333" stroke-width="0.6"/>
<line x1="132.6" y1="546.9" x2="135.8" y2="546.9" stroke="#333" stroke-width="0.6"/>
<line x1="132.6" y1="555.9" x2="135.8" y2="555.9" stroke="#333" stroke-width="0.6"/>
<circle cx="38.7" cy="587.4" r="2.2" fill="#fff" stroke="#111" stroke-width="0.8"/>
<circle cx="56.1" cy="570.5" r="2.2" fill="#fff" stroke="#111" stroke-width="0.8"/>
<circle cx="82.1" cy="563.7" r="2.2" fill="#fff" stroke="#111" stroke-width="0.8"/>
<circle cx="134.2" cy="559.2" r="2.2" fill="#fff" stroke="#111" stroke-width="0.8"/>
<circle cx="38.7" cy="583.4" r="2.2" fill="#111" stroke="#111" stroke-width="0.8"/>
<circle cx="56.1" cy="568.2" r="2.2" fill="#111" stroke="#111" stroke-width="0.8"/>
<circle cx="82.1" cy="557.5" r="2.2" fill="#111" stroke="#111" stroke-width="0.8"/>
<circle cx="134.2" cy="551.4" r="2.2" fill="#111" stroke="#111" stroke-width="0.8"/>
<line x1="32.7" y1="505.0" x2="43.3" y2="505.0" stroke="#222" stroke-width="0.6"/>
<circle cx="37.8" cy="505.0" r="2.1" fill="#111" stroke="#111" stroke-width="0.7"/>
<text x="46.0" y="507.3" font-size="6.4" text-anchor="start" font-weight="normal" fill="#111" stroke="#111" stroke-width="0.12">C57BL/6</text>
<line x1="32.7" y1="511.2" x2="43.3" y2="511.2" stroke="#222" stroke-width="0.6"/>
<circle cx="37.8" cy="511.2" r="2.1" fill="#fff" stroke="#111" stroke-width="0.7"/>
<text x="46.0" y="513.5" font-size="6.4" text-anchor="start" font-weight="normal" fill="#111" stroke="#111" stroke-width="0.12">WAS KO</text>
<rect x="151.6" y="501.3" width="112.4" height="112.5" fill="none" stroke="#666" stroke-width="1.1"/>
<line x1="151.6" y1="501.3" x2="151.6" y2="613.8" stroke="#111" stroke-width="0.8"/>
<line x1="151.6" y1="613.8" x2="264.0" y2="613.8" stroke="#111" stroke-width="0.8"/>
<line x1="149.6" y1="613.8" x2="151.6" y2="613.8" stroke="#111" stroke-width="0.6"/>
<line x1="149.6" y1="585.7" x2="151.6" y2="585.7" stroke="#111" stroke-width="0.6"/>
<line x1="149.6" y1="557.5" x2="151.6" y2="557.5" stroke="#111" stroke-width="0.6"/>
<line x1="149.6" y1="529.4" x2="151.6" y2="529.4" stroke="#111" stroke-width="0.6"/>
<line x1="149.6" y1="501.3" x2="151.6" y2="501.3" stroke="#111" stroke-width="0.6"/>
<line x1="150.5" y1="608.2" x2="151.6" y2="608.2" stroke="#111" stroke-width="0.45"/>
<line x1="150.5" y1="602.5" x2="151.6" y2="602.5" stroke="#111" stroke-width="0.45"/>
<line x1="150.5" y1="596.9" x2="151.6" y2="596.9" stroke="#111" stroke-width="0.45"/>
<line x1="150.5" y1="591.3" x2="151.6" y2="591.3" stroke="#111" stroke-width="0.45"/>
<line x1="150.5" y1="580.0" x2="151.6" y2="580.0" stroke="#111" stroke-width="0.45"/>
<line x1="150.5" y1="574.4" x2="151.6" y2="574.4" stroke="#111" stroke-width="0.45"/>
<line x1="150.5" y1="568.8" x2="151.6" y2="568.8" stroke="#111" stroke-width="0.45"/>
<line x1="150.5" y1="563.2" x2="151.6" y2="563.2" stroke="#111" stroke-width="0.45"/>
<line x1="150.5" y1="551.9" x2="151.6" y2="551.9" stroke="#111" stroke-width="0.45"/>
<line x1="150.5" y1="546.3" x2="151.6" y2="546.3" stroke="#111" stroke-width="0.45"/>
<line x1="150.5" y1="540.7" x2="151.6" y2="540.7" stroke="#111" stroke-width="0.45"/>
<line x1="150.5" y1="535.0" x2="151.6" y2="535.0" stroke="#111" stroke-width="0.45"/>
<line x1="150.5" y1="523.8" x2="151.6" y2="523.8" stroke="#111" stroke-width="0.45"/>
<line x1="150.5" y1="518.2" x2="151.6" y2="518.2" stroke="#111" stroke-width="0.45"/>
<line x1="150.5" y1="512.5" x2="151.6" y2="512.5" stroke="#111" stroke-width="0.45"/>
<line x1="150.5" y1="506.9" x2="151.6" y2="506.9" stroke="#111" stroke-width="0.45"/>
<line x1="151.6" y1="613.8" x2="151.6" y2="615.8" stroke="#111" stroke-width="0.6"/>
<text x="151.6" y="623.5" font-size="7.4" text-anchor="middle" font-weight="normal" fill="#111" stroke="#111" stroke-width="0.08">0</text>
<line x1="160.3" y1="613.8" x2="160.3" y2="615.0" stroke="#111" stroke-width="0.45"/>
<line x1="169.0" y1="613.8" x2="169.0" y2="615.8" stroke="#111" stroke-width="0.6"/>
<text x="169.0" y="623.5" font-size="7.4" text-anchor="middle" font-weight="normal" fill="#111" stroke="#111" stroke-width="0.08">10</text>
<line x1="177.7" y1="613.8" x2="177.7" y2="615.0" stroke="#111" stroke-width="0.45"/>
<line x1="186.3" y1="613.8" x2="186.3" y2="615.8" stroke="#111" stroke-width="0.6"/>
<text x="186.3" y="623.5" font-size="7.4" text-anchor="middle" font-weight="normal" fill="#111" stroke="#111" stroke-width="0.08">20</text>
<line x1="195.0" y1="613.8" x2="195.0" y2="615.0" stroke="#111" stroke-width="0.45"/>
<line x1="203.7" y1="613.8" x2="203.7" y2="615.8" stroke="#111" stroke-width="0.6"/>
<text x="203.7" y="623.5" font-size="7.4" text-anchor="middle" font-weight="normal" fill="#111" stroke="#111" stroke-width="0.08">30</text>
<line x1="212.4" y1="613.8" x2="212.4" y2="615.0" stroke="#111" stroke-width="0.45"/>
<line x1="221.1" y1="613.8" x2="221.1" y2="615.8" stroke="#111" stroke-width="0.6"/>
<text x="221.1" y="623.5" font-size="7.4" text-anchor="middle" font-weight="normal" fill="#111" stroke="#111" stroke-width="0.08">40</text>
<line x1="229.8" y1="613.8" x2="229.8" y2="615.0" stroke="#111" stroke-width="0.45"/>
<line x1="238.4" y1="613.8" x2="238.4" y2="615.8" stroke="#111" stroke-width="0.6"/>
<text x="238.4" y="623.5" font-size="7.4" text-anchor="middle" font-weight="normal" fill="#111" stroke="#111" stroke-width="0.08">50</text>
<line x1="247.1" y1="613.8" x2="247.1" y2="615.0" stroke="#111" stroke-width="0.45"/>
<line x1="255.8" y1="613.8" x2="255.8" y2="615.8" stroke="#111" stroke-width="0.6"/>
<text x="255.8" y="623.5" font-size="7.4" text-anchor="middle" font-weight="normal" fill="#111" stroke="#111" stroke-width="0.08">60</text>
<text x="210.3" y="633.9" font-size="7.6" text-anchor="middle" font-weight="normal" fill="#111" stroke="#111" stroke-width="0.07">time (min)</text>
<text x="208.8" y="499.5" font-size="7.6" text-anchor="middle" font-weight="normal" fill="#111" stroke="#111" stroke-width="0.07">ICAM-1</text>
<path d="M160.3 589.6 L177.7 563.2 L203.7 546.3 L255.8 532.2" fill="none" stroke="#222" stroke-width="0.7"/>
<line x1="160.3" y1="586.8" x2="160.3" y2="592.4" stroke="#333" stroke-width="0.6"/>
<line x1="158.7" y1="586.8" x2="161.9" y2="586.8" stroke="#333" stroke-width="0.6"/>
<line x1="158.7" y1="592.4" x2="161.9" y2="592.4" stroke="#333" stroke-width="0.6"/>
<line x1="177.7" y1="558.7" x2="177.7" y2="567.7" stroke="#333" stroke-width="0.6"/>
<line x1="176.1" y1="558.7" x2="179.3" y2="558.7" stroke="#333" stroke-width="0.6"/>
<line x1="176.1" y1="567.7" x2="179.3" y2="567.7" stroke="#333" stroke-width="0.6"/>
<line x1="203.7" y1="543.5" x2="203.7" y2="549.1" stroke="#333" stroke-width="0.6"/>
<line x1="202.1" y1="543.5" x2="205.3" y2="543.5" stroke="#333" stroke-width="0.6"/>
<line x1="202.1" y1="549.1" x2="205.3" y2="549.1" stroke="#333" stroke-width="0.6"/>
<line x1="255.8" y1="530.0" x2="255.8" y2="534.5" stroke="#333" stroke-width="0.6"/>
<line x1="254.2" y1="530.0" x2="257.4" y2="530.0" stroke="#333" stroke-width="0.6"/>
<line x1="254.2" y1="534.5" x2="257.4" y2="534.5" stroke="#333" stroke-width="0.6"/>
<path d="M160.3 587.4 L177.7 567.1 L203.7 548.0 L255.8 529.4" fill="none" stroke="#222" stroke-width="0.7"/>
<line x1="160.3" y1="584.0" x2="160.3" y2="590.7" stroke="#333" stroke-width="0.6"/>
<line x1="158.7" y1="584.0" x2="161.9" y2="584.0" stroke="#333" stroke-width="0.6"/>
<line x1="158.7" y1="590.7" x2="161.9" y2="590.7" stroke="#333" stroke-width="0.6"/>
<line x1="177.7" y1="560.4" x2="177.7" y2="573.9" stroke="#333" stroke-width="0.6"/>
<line x1="176.1" y1="560.4" x2="179.3" y2="560.4" stroke="#333" stroke-width="0.6"/>
<line x1="176.1" y1="573.9" x2="179.3" y2="573.9" stroke="#333" stroke-width="0.6"/>
<line x1="203.7" y1="544.0" x2="203.7" y2="551.9" stroke="#333" stroke-width="0.6"/>
<line x1="202.1" y1="544.0" x2="205.3" y2="544.0" stroke="#333" stroke-width="0.6"/>
<line x1="202.1" y1="551.9" x2="205.3" y2="551.9" stroke="#333" stroke-width="0.6"/>
<line x1="255.8" y1="526.0" x2="255.8" y2="532.8" stroke="#333" stroke-width="0.6"/>
<line x1="254.2" y1="526.0" x2="257.4" y2="526.0" stroke="#333" stroke-width="0.6"/>
<line x1="254.2" y1="532.8" x2="257.4" y2="532.8" stroke="#333" stroke-width="0.6"/>
<circle cx="160.3" cy="589.6" r="2.2" fill="#fff" stroke="#111" stroke-width="0.8"/>
<circle cx="177.7" cy="563.2" r="2.2" fill="#fff" stroke="#111" stroke-width="0.8"/>
<circle cx="203.7" cy="546.3" r="2.2" fill="#fff" stroke="#111" stroke-width="0.8"/>
<circle cx="255.8" cy="532.2" r="2.2" fill="#fff" stroke="#111" stroke-width="0.8"/>
<circle cx="160.3" cy="587.4" r="2.2" fill="#111" stroke="#111" stroke-width="0.8"/>
<circle cx="177.7" cy="567.1" r="2.2" fill="#111" stroke="#111" stroke-width="0.8"/>
<circle cx="203.7" cy="548.0" r="2.2" fill="#111" stroke="#111" stroke-width="0.8"/>
<circle cx="255.8" cy="529.4" r="2.2" fill="#111" stroke="#111" stroke-width="0.8"/>
<text x="12.6" y="555.7" font-size="7.6" text-anchor="middle" font-weight="normal" fill="#111" stroke="#111" stroke-width="0.07" transform="rotate(-90 12.6 555.7)">absorbance</text>
</svg>
</body></html>
